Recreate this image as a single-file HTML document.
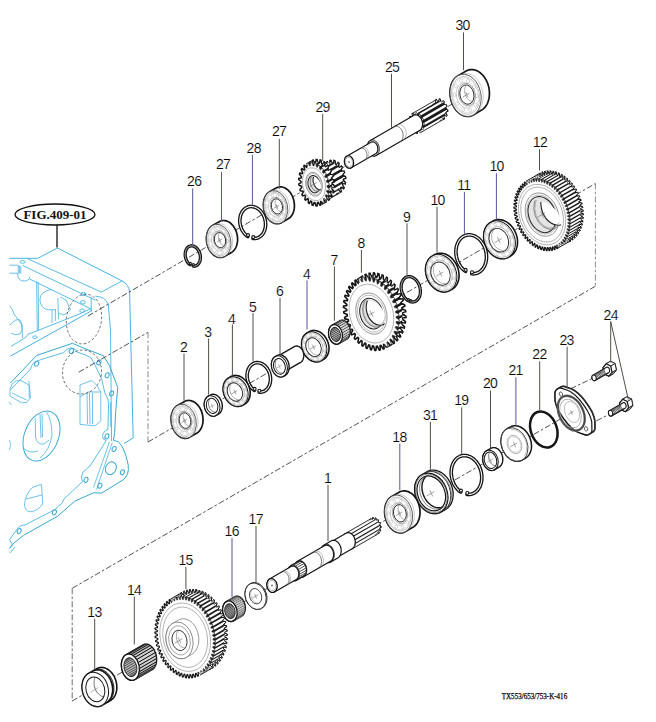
<!DOCTYPE html>
<html><head><meta charset="utf-8"><style>
html,body{margin:0;padding:0;background:#fff;width:656px;height:722px;overflow:hidden}
svg{display:block}
</style></head><body>
<svg width="656" height="722" viewBox="0 0 656 722">
<rect width="656" height="722" fill="#fff"/>
<path d="M9.4 258.3 L37.7 258.3 L57.5 248 L122 280.9 Q128.8 284.5 129.6 292 L133.2 438 L124 443.5" fill="none" stroke="#45b3e3" stroke-width="1.0" stroke-linejoin="round"/>
<path d="M26.6 258.3 L101.4 292.1 L122 280.9" fill="none" stroke="#45b3e3" stroke-width="0.9" stroke-linejoin="round"/>
<path d="M22.5 265.4 L95.5 300.2" fill="none" stroke="#45b3e3" stroke-width="0.9" stroke-linejoin="round"/>
<path d="M29.5 279 L91.2 309" fill="none" stroke="#45b3e3" stroke-width="0.9" stroke-linejoin="round"/>
<path d="M9.4 265.2 L18.3 265.2 L18.3 273.2 L9.4 273.2" fill="none" stroke="#45b3e3" stroke-width="0.8" stroke-linejoin="round"/>
<path d="M19.6 265.5 L19.6 273.5 M20.8 266 L20.8 273.5" fill="none" stroke="#45b3e3" stroke-width="0.8" stroke-linejoin="round"/>
<path d="M17.7 273.2 Q17.5 281 24 281 Q29 281 29.9 277" fill="none" stroke="#45b3e3" stroke-width="0.8" stroke-linejoin="round"/>
<path d="M95.3 296.2 Q105 296.5 108.2 304 L110.5 330 L111.6 441" fill="none" stroke="#45b3e3" stroke-width="0.9" stroke-linejoin="round"/>
<path d="M91.2 297 L91.2 311" fill="none" stroke="#45b3e3" stroke-width="0.9" stroke-linejoin="round"/>
<path d="M36.6 281.5 L37.3 331 M38.2 282 L38.6 330" fill="none" stroke="#45b3e3" stroke-width="0.8" stroke-linejoin="round"/>
<path d="M52 289.4 Q40 291 39.9 300 Q40.5 308.5 48.7 309.9 L56 309.5" fill="none" stroke="#45b3e3" stroke-width="0.8" stroke-linejoin="round"/>
<path d="M52 310 L52 323 M55.4 310 L55.4 321 M57.8 298 L58.5 319" fill="none" stroke="#45b3e3" stroke-width="0.8" stroke-linejoin="round"/>
<path d="M10.4 356.1 L80 317.3 L92 310.5" fill="none" stroke="#45b3e3" stroke-width="1.0" stroke-linejoin="round"/>
<path d="M11 346.4 L25.5 337.6 Q28 332.8 31.5 333 L80 313.8 L91 308.5" fill="none" stroke="#45b3e3" stroke-width="0.9" stroke-linejoin="round"/>
<path d="M9.6 306 Q13 309 14 314 L22 325 L22.5 338 M10 325 Q16 318 20 320 Q22.5 323 22 330 L20 334 Q15 336 11 333" fill="none" stroke="#45b3e3" stroke-width="0.8" stroke-linejoin="round"/>
<path d="M60.5 297 L66 300 L70.5 310 L64 315 L58.5 313" fill="none" stroke="#45b3e3" stroke-width="0.8" stroke-linejoin="round"/>
<ellipse cx="22.7" cy="261.9" rx="2.6" ry="1.4" fill="none" stroke="#4ab4e6" stroke-width="0.9"/>
<ellipse cx="34.9" cy="337.2" rx="2.4" ry="1.3" fill="none" stroke="#4ab4e6" stroke-width="0.9"/>
<ellipse cx="83.3" cy="294.0" rx="2.4" ry="1.6" fill="none" stroke="#4ab4e6" stroke-width="0.9"/>
<ellipse cx="82.9" cy="302.3" rx="2.5" ry="1.7" fill="none" stroke="#4ab4e6" stroke-width="0.9"/>
<ellipse cx="82.1" cy="310.7" rx="2.4" ry="1.6" fill="none" stroke="#4ab4e6" stroke-width="0.9"/>
<path d="M10.4 383 L36.7 355.4 L72.5 343.3 L85 348.7 L103.3 355.6 L109.4 365.5 L117.8 387.6 L117 396 L115.5 414.2 L114.7 432.5 L113.5 440.5 L118.2 441.6 Q124.5 447 128.2 464.9 Q129.5 475 123.2 479.8 L101.6 493.1 L93.9 492.7 L74.7 501.2 L57.6 516.2 L23.5 535.4 L12.8 543.9 L9.6 548.2" fill="none" stroke="#35a9d2" stroke-width="1.0" stroke-linejoin="round"/>
<path d="M10.4 390 L30.4 369.2 Q32 362.5 37 361 Q41 359.5 45.7 358.1 L63.7 352.6 Q67 347.8 71.5 347.8 Q76 348.5 77 352 L85 354.8 L91.1 357.9 L94.9 364.7 L101.8 379.2 L104.8 392.9 L107.9 399 L108.6 403.6 L107.9 429.5 Q102.5 431.5 102.5 436.5 Q103 440 106 440.5 L100.3 450 L90 466 L83 472 Q80 477 82.5 481.5 L64 499 L61.9 503.4 Q57 506.5 56 509 L25.6 524.7 Q19.5 525.5 17.5 528.5 L9.6 539.6" fill="none" stroke="#4ab4e6" stroke-width="0.9" stroke-linejoin="round"/>
<path d="M110.4 402 L110.8 427 M109.4 442 L93.5 487.5 M112.3 442.5 L96.5 489.5" fill="none" stroke="#4ab4e6" stroke-width="0.8" stroke-linejoin="round"/>
<ellipse cx="36.7" cy="363.7" rx="1.9" ry="2.6" transform="rotate(35 36.7 363.7)" fill="none" stroke="#35a9d2" stroke-width="1"/>
<ellipse cx="71.4" cy="351.0" rx="1.9" ry="2.6" transform="rotate(35 71.4 351.0)" fill="none" stroke="#35a9d2" stroke-width="1"/>
<ellipse cx="98.9" cy="362.4" rx="1.9" ry="2.6" transform="rotate(30 98.9 362.4)" fill="none" stroke="#35a9d2" stroke-width="1"/>
<ellipse cx="107.2" cy="375.3" rx="1.9" ry="2.6" transform="rotate(25 107.2 375.3)" fill="none" stroke="#35a9d2" stroke-width="1"/>
<ellipse cx="111.6" cy="393.5" rx="1.9" ry="2.6" transform="rotate(20 111.6 393.5)" fill="none" stroke="#35a9d2" stroke-width="1"/>
<ellipse cx="106.9" cy="436.4" rx="1.9" ry="2.6" transform="rotate(25 106.9 436.4)" fill="none" stroke="#35a9d2" stroke-width="1"/>
<ellipse cx="114.1" cy="449" rx="1.9" ry="2.6" transform="rotate(25 114.1 449)" fill="none" stroke="#35a9d2" stroke-width="1"/>
<ellipse cx="122.4" cy="472.3" rx="1.9" ry="2.6" transform="rotate(25 122.4 472.3)" fill="none" stroke="#35a9d2" stroke-width="1"/>
<ellipse cx="99.9" cy="485.7" rx="1.9" ry="2.6" transform="rotate(25 99.9 485.7)" fill="none" stroke="#35a9d2" stroke-width="1"/>
<ellipse cx="86.0" cy="479.9" rx="1.9" ry="2.6" transform="rotate(25 86.0 479.9)" fill="none" stroke="#35a9d2" stroke-width="1"/>
<ellipse cx="54.4" cy="512.3" rx="1.9" ry="2.6" transform="rotate(25 54.4 512.3)" fill="none" stroke="#35a9d2" stroke-width="1"/>
<ellipse cx="19.2" cy="531.1" rx="1.9" ry="2.6" transform="rotate(25 19.2 531.1)" fill="none" stroke="#35a9d2" stroke-width="1"/>
<ellipse cx="110.9" cy="468.2" rx="5.2" ry="6.6" transform="rotate(25 110.9 468.2)" fill="none" stroke="#35a9d2" stroke-width="1"/>
<ellipse cx="41.5" cy="436" rx="17" ry="26" transform="rotate(22 41.5 436)" fill="none" stroke="#35a9d2" stroke-width="1"/>
<path d="M35.2 418 L35.5 437 Q37 445 44 444 L49 440 M40 414 L41 438 M42 413.5 L42.5 437 M46.5 412 Q52 420 52 435 Q50 450 40 458 M23 448 Q30 454 38 451" fill="none" stroke="#4ab4e6" stroke-width="0.8" stroke-linejoin="round"/>
<path d="M10 389 L12 384 Q17 379 22 381 L29.5 385.5 L30.4 398 L26.5 402.5 L21.5 402.8 L10 396 Z M12 393 L26.6 400 M29 381 L29.3 398" fill="none" stroke="#4ab4e6" stroke-width="0.8" stroke-linejoin="round"/>
<path d="M80 385 L80 424.5 L95 425.7 L100.8 421 L100.8 392 L96.5 385 L92 380.5 L86 382.5 Z M80 397 L88 392 L100.8 392 M87 393 L87.5 424 M89.5 393 L90 424 M92.5 393 L92.5 424" fill="none" stroke="#4ab4e6" stroke-width="0.8" stroke-linejoin="round"/>
<path d="M24.5 505 Q25 494 33 487 L41.5 484.5 L42.7 504 Q38 511 30 511.9 Q25 511 24.5 505 Z M26 499 L42 495" fill="none" stroke="#4ab4e6" stroke-width="0.8" stroke-linejoin="round"/>
<path d="M9.6 539.6 L12.5 545 L9.6 548.2 M10 553 L15 547" fill="none" stroke="#35a9d2" stroke-width="0.8" stroke-linejoin="round"/>
<path d="M9.4 440 Q12 444 9.4 450 M9 402 L11.5 405" fill="none" stroke="#4ab4e6" stroke-width="0.7" stroke-linejoin="round"/>
<ellipse cx="84" cy="319" rx="17.5" ry="25" transform="rotate(8 84 319)" fill="none" stroke="#555" stroke-width="0.8" stroke-dasharray="2.6 2"/>
<ellipse cx="82" cy="372" rx="19.5" ry="22" transform="rotate(8 82 372)" fill="none" stroke="#555" stroke-width="0.8" stroke-dasharray="2.6 2"/>
<path d="M88.0 316.0 L472.0 92.5" fill="none" stroke="#3c3c48" stroke-width="0.9" stroke-dasharray="6 2.2 2.6 2.2"/>
<path d="M78.7 372.2 L148.0 332.3" fill="none" stroke="#3c3c48" stroke-width="0.9" stroke-dasharray="6 2.2 2.6 2.2"/>
<path d="M148.0 332.3 L148.0 442.0" fill="none" stroke="#8c8c8c" stroke-width="1.0" stroke-dasharray="6 2.2 2.6 2.2"/>
<path d="M148.0 442.0 L595.4 183.5" fill="none" stroke="#3c3c48" stroke-width="0.9" stroke-dasharray="6 2.2 2.6 2.2"/>
<path d="M595.4 183.5 L595.4 286.2" fill="none" stroke="#8c8c8c" stroke-width="1.0" stroke-dasharray="6 2.2 2.6 2.2"/>
<path d="M595.4 286.2 L72.2 588.3" fill="none" stroke="#3c3c48" stroke-width="0.9" stroke-dasharray="6 2.2 2.6 2.2"/>
<path d="M72.2 588.3 L72.2 701.0" fill="none" stroke="#6c6c6c" stroke-width="1.0" stroke-dasharray="6 2.2 2.6 2.2"/>
<path d="M72.2 701.0 L575.0 410.6" fill="none" stroke="#3c3c48" stroke-width="0.9" stroke-dasharray="6 2.2 2.6 2.2"/>
<path d="M570.5 388.8 L592.0 378.6" fill="none" stroke="#3c3c48" stroke-width="0.9" stroke-dasharray="6 2.2 2.6 2.2"/>
<path d="M596.4 420.8 L608.6 414.7" fill="none" stroke="#3c3c48" stroke-width="0.9" stroke-dasharray="6 2.2 2.6 2.2"/>
<g id="p30">
<path d="M473.3 114.9 L472.4 115.4 L471.4 115.8 L470.5 116.1 L469.5 116.3 L468.5 116.4 L467.5 116.4 L466.5 116.4 L465.5 116.2 L464.4 116.0 L463.4 115.6 L462.4 115.2 L461.4 114.7 L460.4 114.1 L459.5 113.5 L458.6 112.7 L457.7 111.9 L456.8 111.0 L456.0 110.1 L455.2 109.1 L454.5 108.0 L453.8 106.9 L453.1 105.7 L452.5 104.5 L452.0 103.2 L451.5 101.9 L451.1 100.6 L450.7 99.3 L450.5 97.9 L450.2 96.5 L450.1 95.2 L450.0 93.8 L450.0 92.4 L450.0 91.1 L450.1 89.7 L450.3 88.4 L450.5 87.1 L450.8 85.9 L451.2 84.7 L451.6 83.5 L452.1 82.4 L452.6 81.4 L453.2 80.4 L453.9 79.4 L454.6 78.6 L455.3 77.8 L456.1 77.1 L457.0 76.4 L457.8 75.9 L466.1 71.1 L467.0 70.6 L468.0 70.2 L468.9 69.9 L469.9 69.7 L470.9 69.6 L471.9 69.6 L472.9 69.6 L473.9 69.8 L475.0 70.0 L476.0 70.4 L477.0 70.8 L478.0 71.3 L479.0 71.9 L479.9 72.5 L480.8 73.3 L481.7 74.1 L482.6 75.0 L483.4 75.9 L484.2 76.9 L484.9 78.0 L485.6 79.1 L486.3 80.3 L486.9 81.5 L487.4 82.8 L487.9 84.1 L488.3 85.4 L488.7 86.7 L488.9 88.1 L489.2 89.5 L489.3 90.8 L489.4 92.2 L489.4 93.6 L489.4 94.9 L489.3 96.3 L489.1 97.6 L488.9 98.9 L488.6 100.1 L488.2 101.3 L487.8 102.5 L487.3 103.6 L486.8 104.6 L486.2 105.6 L485.5 106.6 L484.8 107.4 L484.1 108.2 L483.3 108.9 L482.4 109.6 L481.6 110.1Z" fill="#fff" stroke="#151515" stroke-width="1.7" />
<path d="M460.6 75.0 L461.4 74.6 L462.3 74.2 L463.3 73.9 L464.2 73.7 L465.2 73.6 L466.2 73.6 L467.2 73.6 L468.1 73.8 L469.1 74.0 L470.1 74.3 L471.1 74.7 L472.1 75.2 L473.0 75.8 L473.9 76.4 L474.8 77.1 L475.7 77.9 L476.5 78.8 L477.3 79.7 L478.1 80.7 L478.8 81.7 L479.5 82.8 L480.1 84.0 L480.7 85.1 L481.2 86.4 L481.7 87.6 L482.1 88.9 L482.4 90.2 L482.7 91.5 L482.9 92.8 L483.1 94.2 L483.2 95.5 L483.2 96.8 L483.1 98.2 L483.0 99.5 L482.9 100.7 L482.6 102.0 L482.3 103.2 L482.0 104.3 L481.6 105.5 L481.1 106.6 L480.6 107.6 L480.0 108.5 L479.4 109.4 L478.7 110.3 L477.9 111.0 L477.2 111.7 L476.4 112.3 L475.5 112.9" fill="none" stroke="#aaa" stroke-width="0.6" />
<ellipse cx="465.6" cy="95.4" rx="15.3" ry="21.3" transform="rotate(-12.0 465.6 95.4)" fill="#fff" stroke="#444" stroke-width="0.8" />
<ellipse cx="465.6" cy="95.4" rx="13.8" ry="19.1" transform="rotate(-12.0 465.6 95.4)" fill="none" stroke="#a8a8a8" stroke-width="0.6" />
<ellipse cx="465.6" cy="95.4" rx="12.9" ry="17.9" transform="rotate(-12.0 465.6 95.4)" fill="none" stroke="#c0c0c0" stroke-width="0.5" />
<ellipse cx="476.7" cy="95.9" rx="1.5" ry="1.9" transform="rotate(-12.0 476.7 95.9)" fill="none" stroke="#c0c0c0" stroke-width="0.6"/>
<ellipse cx="475.3" cy="104.7" rx="1.5" ry="1.9" transform="rotate(-12.0 475.3 104.7)" fill="none" stroke="#c0c0c0" stroke-width="0.6"/>
<ellipse cx="470.1" cy="110.0" rx="1.5" ry="1.9" transform="rotate(-12.0 470.1 110.0)" fill="none" stroke="#c0c0c0" stroke-width="0.6"/>
<ellipse cx="463.2" cy="109.6" rx="1.5" ry="1.9" transform="rotate(-12.0 463.2 109.6)" fill="none" stroke="#c0c0c0" stroke-width="0.6"/>
<ellipse cx="457.2" cy="103.8" rx="1.5" ry="1.9" transform="rotate(-12.0 457.2 103.8)" fill="none" stroke="#c0c0c0" stroke-width="0.6"/>
<ellipse cx="454.4" cy="94.8" rx="1.5" ry="1.9" transform="rotate(-12.0 454.4 94.8)" fill="none" stroke="#c0c0c0" stroke-width="0.6"/>
<ellipse cx="455.9" cy="86.0" rx="1.5" ry="1.9" transform="rotate(-12.0 455.9 86.0)" fill="none" stroke="#c0c0c0" stroke-width="0.6"/>
<ellipse cx="461.1" cy="80.8" rx="1.5" ry="1.9" transform="rotate(-12.0 461.1 80.8)" fill="none" stroke="#c0c0c0" stroke-width="0.6"/>
<ellipse cx="468.0" cy="81.2" rx="1.5" ry="1.9" transform="rotate(-12.0 468.0 81.2)" fill="none" stroke="#c0c0c0" stroke-width="0.6"/>
<ellipse cx="474.0" cy="86.9" rx="1.5" ry="1.9" transform="rotate(-12.0 474.0 86.9)" fill="none" stroke="#c0c0c0" stroke-width="0.6"/>
<ellipse cx="465.6" cy="95.4" rx="9.2" ry="12.8" transform="rotate(-12.0 465.6 95.4)" fill="none" stroke="#b0b0b0" stroke-width="0.6" />
<ellipse cx="466.9" cy="94.6" rx="8.3" ry="11.5" transform="rotate(-12.0 466.9 94.6)" fill="#fff" stroke="#777" stroke-width="0.6" />
<ellipse cx="466.9" cy="94.6" rx="7.0" ry="9.8" transform="rotate(-12.0 466.9 94.6)" fill="#fff" stroke="#222" stroke-width="0.9" />
<clipPath id="ce1"><ellipse cx="466.9" cy="94.6" rx="7.0" ry="9.8" transform="rotate(-12.0 466.9 94.6)"/></clipPath>
<path d="M478.7 90.3 L478.9 91.6 L479.0 92.8 L479.0 94.1 L478.8 95.3 L478.5 96.4 L478.1 97.5 L477.6 98.5 L477.0 99.3 L476.3 100.0 L475.6 100.6 L474.7 101.1 L473.9 101.3 L472.9 101.4 L472.0 101.4 L471.1 101.2 L470.1 100.8 L469.2 100.2 L468.4 99.6 L467.6 98.8 L466.9 97.8 L466.2 96.8 L465.7 95.7 L465.3 94.5 L464.9 93.2 L464.7 92.0 L464.7 90.7 L464.7 89.5 L464.8 88.3 L465.1 87.1 L465.5 86.0 L466.0 85.1 L466.6 84.2 L467.3 83.5 L468.1 82.9 L468.9 82.5 L469.8 82.2 L470.7 82.1 L471.6 82.2 L472.6 82.4 L473.5 82.8 L474.4 83.3 L475.3 84.0 L476.1 84.8 L476.8 85.7 L477.4 86.8 L478.0 87.9 L478.4 89.1 L478.7 90.3" fill="none" stroke="#777" stroke-width="0.6" clip-path="url(#ce1)"/>
<line x1="462.8" y1="97.0" x2="469.6" y2="93.1" stroke="#666" stroke-width="0.6" />
<line x1="465.7" y1="91.9" x2="468.0" y2="97.4" stroke="#666" stroke-width="0.6" />
</g>
<g id="p25">
<path d="M445.8 108.2 L445.9 108.8 L447.7 110.0 L447.7 111.3 L446.0 112.0 L445.9 112.5 L445.8 113.0 L447.0 115.2 L446.5 116.2 L444.7 115.6 L444.4 116.0 L444.1 116.3 L444.4 118.8 L443.6 119.4 L442.0 117.6 L441.7 117.7 L441.3 117.8 L440.6 120.0 L439.6 119.8 L438.9 117.4 L438.5 117.2 L438.1 117.0 L436.6 118.3 L435.8 117.5 L436.0 115.1 L435.7 114.7 L435.4 114.3 L433.6 114.3 L433.1 113.1 L434.1 111.3 L434.0 110.8 L433.9 110.2 L432.2 109.0 L432.2 107.7 L433.9 107.0 L433.9 106.5 L434.0 106.0 L432.9 103.8 L433.3 102.8 L435.2 103.4 L435.5 103.0 L435.7 102.7 L435.5 100.2 L436.3 99.6 L437.8 101.4 L438.2 101.3 L438.6 101.2 L439.2 99.0 L440.2 99.2 L441.0 101.6 L441.4 101.8 L441.8 102.0 L443.2 100.7 L444.1 101.5 L443.9 103.9 L444.2 104.3 L444.5 104.7 L446.3 104.7 L446.8 105.9 L445.7 107.7Z" fill="#fff" stroke="#151515" stroke-width="1.1" />
<path d="M419.6 130.7 L419.2 130.9 L418.9 131.1 L418.5 131.2 L418.1 131.3 L417.7 131.3 L417.3 131.3 L416.9 131.3 L416.5 131.2 L416.1 131.1 L415.7 131.0 L415.3 130.8 L414.9 130.6 L414.5 130.4 L414.2 130.2 L413.8 129.9 L413.4 129.5 L413.1 129.2 L412.8 128.8 L412.5 128.4 L412.2 128.0 L411.9 127.5 L411.6 127.1 L411.4 126.6 L411.2 126.1 L411.0 125.6 L410.8 125.1 L410.7 124.5 L410.6 124.0 L410.5 123.5 L410.4 122.9 L410.4 122.4 L410.4 121.8 L410.4 121.3 L410.4 120.8 L410.5 120.2 L410.6 119.7 L410.7 119.2 L410.9 118.8 L411.0 118.3 L411.2 117.9 L411.4 117.5 L411.7 117.1 L411.9 116.7 L412.2 116.4 L412.5 116.0 L412.8 115.8 L413.2 115.5 L413.5 115.3 L436.9 101.8 L437.2 101.6 L437.6 101.4 L438.0 101.3 L438.4 101.2 L438.8 101.2 L439.2 101.2 L439.6 101.2 L440.0 101.3 L440.4 101.4 L440.8 101.5 L441.2 101.7 L441.6 101.9 L442.0 102.1 L442.3 102.3 L442.7 102.6 L443.1 103.0 L443.4 103.3 L443.7 103.7 L444.0 104.1 L444.3 104.5 L444.6 105.0 L444.9 105.4 L445.1 105.9 L445.3 106.4 L445.5 106.9 L445.6 107.4 L445.8 108.0 L445.9 108.5 L446.0 109.0 L446.1 109.6 L446.1 110.1 L446.1 110.7 L446.1 111.2 L446.0 111.7 L446.0 112.3 L445.9 112.8 L445.8 113.3 L445.6 113.7 L445.4 114.2 L445.3 114.6 L445.0 115.0 L444.8 115.4 L444.5 115.8 L444.3 116.1 L444.0 116.5 L443.7 116.7 L443.3 117.0 L443.0 117.2Z" fill="#1a1a1a" stroke="none" stroke-width="0" />
<path d="M424.2 122.8 L424.3 125.2 L447.7 111.7 L447.6 109.3Z" fill="#fff" stroke="none" stroke-width="0" />
<path d="M423.8 128.1 L423.0 130.1 L446.3 116.6 L447.2 114.6Z" fill="#fff" stroke="none" stroke-width="0" />
<path d="M421.4 132.0 L419.9 133.0 L443.3 119.5 L444.8 118.5Z" fill="#fff" stroke="none" stroke-width="0" />
<path d="M415.3 112.5 L417.2 112.8 L440.6 99.3 L438.7 99.0Z" fill="#fff" stroke="none" stroke-width="0" />
<path d="M419.3 113.8 L421.0 115.2 L444.3 101.7 L442.7 100.3Z" fill="#fff" stroke="none" stroke-width="0" />
<path d="M422.6 117.6 L423.6 119.8 L447.0 106.3 L446.0 104.1Z" fill="#fff" stroke="none" stroke-width="0" />
<path d="M445.8 108.2 L445.9 108.8 L447.7 110.0 L447.7 111.3 L446.0 112.0 L445.9 112.5 L445.9 112.5 L445.8 113.0 L447.0 115.2 L446.5 116.2 L444.7 115.6 L444.4 116.0 L444.4 116.0 L444.1 116.3 L444.4 118.8 L443.6 119.4 L442.0 117.6 L441.7 117.7" fill="none" stroke="#151515" stroke-width="0.8800000000000001" stroke-linejoin="round"/>
<path d="M435.5 103.0 L435.7 102.7 L435.5 100.2 L436.3 99.6 L437.8 101.4 L438.2 101.3 L438.2 101.3 L438.6 101.2 L439.2 99.0 L440.2 99.2 L441.0 101.6 L441.4 101.8 L441.4 101.8 L441.8 102.0 L443.2 100.7 L444.1 101.5 L443.9 103.9 L444.2 104.3 L444.2 104.3 L444.5 104.7 L446.3 104.7 L446.8 105.9 L445.7 107.7 L445.8 108.2 L445.8 108.2 L445.9 108.8 L447.7 110.0 L447.7 111.3 L446.0 112.0 L445.9 112.5" fill="none" stroke="#151515" stroke-width="0.8800000000000001" stroke-linejoin="round"/>
<line x1="412.7" y1="113.3" x2="436.1" y2="99.8" stroke="#151515" stroke-width="0.8800000000000001" />
<line x1="420.4" y1="132.7" x2="443.8" y2="119.2" stroke="#151515" stroke-width="0.8800000000000001" />
<path d="M422.5 121.7 L422.6 122.3 L424.3 123.5 L424.3 124.8 L422.6 125.5 L422.5 126.0 L422.4 126.5 L423.6 128.7 L423.1 129.7 L421.3 129.1 L421.0 129.5 L420.7 129.8 L421.0 132.3 L420.2 132.9 L418.7 131.1 L418.3 131.2 L417.9 131.3 L417.2 133.5 L416.3 133.3 L415.5 130.9 L415.1 130.7 L414.7 130.5 L413.3 131.8 L412.4 131.0 L412.6 128.6 L412.3 128.2 L412.0 127.8 L410.2 127.8 L409.7 126.6 L410.8 124.8 L410.6 124.3 L410.5 123.7 L408.8 122.5 L408.8 121.2 L410.5 120.5 L410.6 120.0 L410.7 119.5 L409.5 117.3 L410.0 116.3 L411.8 116.9 L412.1 116.5 L412.4 116.2 L412.1 113.7 L412.9 113.1 L414.4 114.9 L414.8 114.8 L415.2 114.7 L415.9 112.5 L416.8 112.7 L417.6 115.1 L418.0 115.3 L418.4 115.5 L419.8 114.2 L420.7 115.0 L420.5 117.4 L420.8 117.8 L421.1 118.2 L422.9 118.2 L423.4 119.4 L422.3 121.2Z" fill="#fff" stroke="none" stroke-width="0" />
<path d="M422.5 121.7 L422.6 122.3 L424.3 123.5 L424.3 124.8 L422.6 125.5 L422.5 126.0 L422.4 126.5 L423.6 128.7 L423.1 129.7 L421.3 129.1 L421.0 129.5 L420.7 129.8 L421.0 132.3 L420.2 132.9 L418.7 131.1 L418.3 131.2" fill="none" stroke="#333" stroke-width="0.7" stroke-linejoin="round"/>
<path d="M418.3 131.2 L417.9 131.3 L417.2 133.5 L416.3 133.3 L415.5 130.9 L415.1 130.7 L414.7 130.5 L413.3 131.8 L412.4 131.0 L412.6 128.6 L412.3 128.2 L412.0 127.8 L410.2 127.8 L409.7 126.6 L410.8 124.8 L410.6 124.3 L410.5 123.7 L408.8 122.5 L408.8 121.2 L410.5 120.5 L410.6 120.0 L410.7 119.5 L409.5 117.3 L410.0 116.3 L411.8 116.9 L412.1 116.5 L412.4 116.2 L412.1 113.7 L412.9 113.1 L414.4 114.9 L414.8 114.8" fill="none" stroke="#151515" stroke-width="1.1" stroke-linejoin="round"/>
<path d="M414.8 114.8 L415.2 114.7 L415.9 112.5 L416.8 112.7 L417.6 115.1 L418.0 115.3 L418.4 115.5 L419.8 114.2 L420.7 115.0 L420.5 117.4 L420.8 117.8 L421.1 118.2 L422.9 118.2 L423.4 119.4 L422.3 121.2 L422.5 121.7" fill="none" stroke="#333" stroke-width="0.7" stroke-linejoin="round"/>
<path d="M376.2 155.5 L375.9 155.7 L375.5 155.9 L375.1 156.0 L374.8 156.1 L374.4 156.1 L374.0 156.1 L373.6 156.1 L373.2 156.0 L372.8 155.9 L372.4 155.8 L372.0 155.7 L371.7 155.5 L371.3 155.2 L370.9 155.0 L370.5 154.7 L370.2 154.4 L369.9 154.0 L369.6 153.7 L369.2 153.3 L369.0 152.9 L368.7 152.4 L368.4 152.0 L368.2 151.5 L368.0 151.0 L367.8 150.5 L367.7 150.0 L367.5 149.5 L367.4 149.0 L367.3 148.4 L367.3 147.9 L367.2 147.4 L367.2 146.9 L367.2 146.3 L367.3 145.8 L367.4 145.3 L367.4 144.8 L367.6 144.3 L367.7 143.9 L367.9 143.4 L368.1 143.0 L368.3 142.6 L368.5 142.2 L368.7 141.8 L369.0 141.5 L369.3 141.2 L369.6 140.9 L369.9 140.7 L370.3 140.5 L413.6 115.5 L413.9 115.3 L414.3 115.1 L414.7 115.0 L415.0 114.9 L415.4 114.9 L415.8 114.9 L416.2 114.9 L416.6 115.0 L417.0 115.1 L417.4 115.2 L417.8 115.3 L418.1 115.5 L418.5 115.8 L418.9 116.0 L419.2 116.3 L419.6 116.6 L419.9 117.0 L420.2 117.3 L420.6 117.7 L420.8 118.1 L421.1 118.6 L421.4 119.0 L421.6 119.5 L421.8 120.0 L422.0 120.5 L422.1 121.0 L422.3 121.5 L422.4 122.0 L422.5 122.6 L422.5 123.1 L422.6 123.6 L422.6 124.1 L422.6 124.7 L422.5 125.2 L422.4 125.7 L422.4 126.2 L422.2 126.7 L422.1 127.1 L421.9 127.6 L421.7 128.0 L421.5 128.4 L421.3 128.8 L421.1 129.2 L420.8 129.5 L420.5 129.8 L420.2 130.1 L419.9 130.3 L419.5 130.5Z" fill="#fff" stroke="#151515" stroke-width="1.2" />
<path d="M394.1 126.7 L394.4 126.5 L394.8 126.4 L395.2 126.3 L395.5 126.2 L395.9 126.1 L396.3 126.1 L396.7 126.2 L397.1 126.2 L397.5 126.3 L397.9 126.4 L398.3 126.6 L398.7 126.8 L399.0 127.0 L399.4 127.3 L399.8 127.6 L400.1 127.9 L400.4 128.2 L400.8 128.6 L401.1 129.0 L401.4 129.4 L401.6 129.8 L401.9 130.3 L402.1 130.7 L402.3 131.2 L402.5 131.7 L402.6 132.2 L402.8 132.8 L402.9 133.3 L403.0 133.8 L403.0 134.3 L403.1 134.9 L403.1 135.4 L403.1 135.9 L403.0 136.4 L403.0 136.9 L402.9 137.4 L402.8 137.9 L402.6 138.4 L402.4 138.8 L402.3 139.3 L402.0 139.7 L401.8 140.1 L401.6 140.4 L401.3 140.7 L401.0 141.0 L400.7 141.3 L400.4 141.6 L400.0 141.8" fill="none" stroke="#444" stroke-width="0.8" />
<path d="M397.1 125.0 L397.5 124.8 L397.8 124.6 L398.2 124.5 L398.6 124.4 L399.0 124.4 L399.3 124.4 L399.7 124.4 L400.1 124.5 L400.5 124.6 L400.9 124.7 L401.3 124.8 L401.7 125.0 L402.1 125.3 L402.4 125.5 L402.8 125.8 L403.1 126.1 L403.5 126.5 L403.8 126.8 L404.1 127.2 L404.4 127.6 L404.6 128.1 L404.9 128.5 L405.1 129.0 L405.3 129.5 L405.5 130.0 L405.7 130.5 L405.8 131.0 L405.9 131.5 L406.0 132.1 L406.1 132.6 L406.1 133.1 L406.1 133.6 L406.1 134.2 L406.1 134.7 L406.0 135.2 L405.9 135.7 L405.8 136.2 L405.6 136.6 L405.5 137.1 L405.3 137.5 L405.1 137.9 L404.8 138.3 L404.6 138.7 L404.3 139.0 L404.0 139.3 L403.7 139.6 L403.4 139.8 L403.1 140.0" fill="none" stroke="#888" stroke-width="0.6" />
<path d="M370.3 140.5 L370.6 140.3 L371.0 140.1 L371.4 140.0 L371.7 139.9 L372.1 139.9 L372.5 139.9 L372.9 139.9 L373.3 140.0 L373.7 140.1 L374.1 140.2 L374.5 140.3 L374.8 140.5 L375.2 140.8 L375.6 141.0 L375.9 141.3 L376.3 141.6 L376.6 142.0 L376.9 142.3 L377.2 142.7 L377.5 143.1 L377.8 143.6 L378.1 144.0 L378.3 144.5 L378.5 145.0 L378.7 145.5 L378.8 146.0 L379.0 146.5 L379.1 147.0 L379.2 147.6 L379.2 148.1 L379.3 148.6 L379.3 149.1 L379.3 149.7 L379.2 150.2 L379.1 150.7 L379.1 151.2 L378.9 151.7 L378.8 152.1 L378.6 152.6 L378.4 153.0 L378.2 153.4 L378.0 153.8 L377.7 154.2 L377.5 154.5 L377.2 154.8 L376.9 155.1 L376.6 155.3 L376.2 155.5" fill="none" stroke="#151515" stroke-width="1.0" />
<path d="M351.3 167.8 L351.0 167.9 L350.7 168.0 L350.5 168.1 L350.2 168.2 L349.9 168.2 L349.6 168.2 L349.3 168.2 L349.0 168.2 L348.7 168.1 L348.4 168.0 L348.1 167.9 L347.8 167.7 L347.5 167.6 L347.2 167.4 L346.9 167.1 L346.7 166.9 L346.4 166.6 L346.2 166.4 L345.9 166.1 L345.7 165.7 L345.5 165.4 L345.3 165.1 L345.1 164.7 L345.0 164.3 L344.8 163.9 L344.7 163.5 L344.6 163.1 L344.5 162.7 L344.5 162.3 L344.4 161.9 L344.4 161.5 L344.4 161.1 L344.4 160.7 L344.4 160.3 L344.5 159.9 L344.5 159.6 L344.6 159.2 L344.7 158.8 L344.9 158.5 L345.0 158.2 L345.2 157.8 L345.3 157.5 L345.5 157.3 L345.8 157.0 L346.0 156.8 L346.2 156.6 L346.5 156.4 L346.7 156.2 L371.0 142.2 L371.2 142.1 L371.5 142.0 L371.8 141.9 L372.1 141.8 L372.4 141.8 L372.7 141.8 L373.0 141.8 L373.3 141.8 L373.6 141.9 L373.9 142.0 L374.2 142.1 L374.5 142.3 L374.8 142.4 L375.0 142.6 L375.3 142.9 L375.6 143.1 L375.8 143.4 L376.1 143.6 L376.3 143.9 L376.5 144.3 L376.7 144.6 L376.9 144.9 L377.1 145.3 L377.3 145.7 L377.4 146.1 L377.5 146.5 L377.6 146.9 L377.7 147.3 L377.8 147.7 L377.8 148.1 L377.9 148.5 L377.9 148.9 L377.9 149.3 L377.8 149.7 L377.8 150.1 L377.7 150.4 L377.6 150.8 L377.5 151.2 L377.4 151.5 L377.2 151.8 L377.1 152.2 L376.9 152.5 L376.7 152.7 L376.5 153.0 L376.3 153.2 L376.0 153.4 L375.8 153.6 L375.5 153.8Z" fill="#fff" stroke="#151515" stroke-width="1.2" />
<path d="M360.1 148.5 L360.3 148.4 L360.6 148.3 L360.9 148.2 L361.2 148.1 L361.5 148.1 L361.8 148.1 L362.1 148.1 L362.4 148.1 L362.7 148.2 L363.0 148.3 L363.3 148.4 L363.6 148.6 L363.9 148.7 L364.1 148.9 L364.4 149.2 L364.7 149.4 L364.9 149.7 L365.2 149.9 L365.4 150.2 L365.6 150.6 L365.8 150.9 L366.0 151.2 L366.2 151.6 L366.4 152.0 L366.5 152.4 L366.6 152.8 L366.7 153.2 L366.8 153.6 L366.9 154.0 L366.9 154.4 L367.0 154.8 L367.0 155.2 L367.0 155.6 L366.9 156.0 L366.9 156.4 L366.8 156.7 L366.7 157.1 L366.6 157.5 L366.5 157.8 L366.3 158.1 L366.2 158.5 L366.0 158.8 L365.8 159.0 L365.6 159.3 L365.4 159.5 L365.1 159.7 L364.9 159.9 L364.6 160.1" fill="none" stroke="#444" stroke-width="0.8" />
<path d="M361.7 147.5 L362.0 147.4 L362.3 147.3 L362.6 147.2 L362.9 147.1 L363.2 147.1 L363.5 147.1 L363.8 147.1 L364.1 147.1 L364.4 147.2 L364.7 147.3 L365.0 147.4 L365.3 147.6 L365.6 147.8 L365.8 148.0 L366.1 148.2 L366.4 148.4 L366.6 148.7 L366.9 149.0 L367.1 149.3 L367.3 149.6 L367.5 149.9 L367.7 150.3 L367.9 150.6 L368.1 151.0 L368.2 151.4 L368.3 151.8 L368.4 152.2 L368.5 152.6 L368.6 153.0 L368.6 153.4 L368.7 153.8 L368.7 154.2 L368.6 154.6 L368.6 155.0 L368.6 155.4 L368.5 155.8 L368.4 156.1 L368.3 156.5 L368.2 156.8 L368.0 157.2 L367.9 157.5 L367.7 157.8 L367.5 158.1 L367.3 158.3 L367.1 158.5 L366.8 158.8 L366.6 158.9 L366.3 159.1" fill="none" stroke="#888" stroke-width="0.6" />
<path d="M346.7 156.2 L347.0 156.1 L347.3 156.0 L347.5 155.9 L347.8 155.8 L348.1 155.8 L348.4 155.8 L348.7 155.8 L349.0 155.8 L349.3 155.9 L349.6 156.0 L349.9 156.1 L350.2 156.3 L350.5 156.4 L350.8 156.6 L351.1 156.9 L351.3 157.1 L351.6 157.4 L351.8 157.6 L352.1 157.9 L352.3 158.3 L352.5 158.6 L352.7 158.9 L352.9 159.3 L353.0 159.7 L353.2 160.1 L353.3 160.5 L353.4 160.9 L353.5 161.3 L353.5 161.7 L353.6 162.1 L353.6 162.5 L353.6 162.9 L353.6 163.3 L353.6 163.7 L353.5 164.1 L353.5 164.4 L353.4 164.8 L353.3 165.2 L353.1 165.5 L353.0 165.8 L352.8 166.2 L352.7 166.5 L352.5 166.7 L352.2 167.0 L352.0 167.2 L351.8 167.4 L351.5 167.6 L351.3 167.8" fill="none" stroke="#151515" stroke-width="1.0" />
<ellipse cx="349.0" cy="162.0" rx="4.5" ry="6.3" transform="rotate(-12.0 349.0 162.0)" fill="#fff" stroke="#151515" stroke-width="1.2" />
<ellipse cx="349.0" cy="162.0" rx="3.4" ry="4.7" transform="rotate(-12.0 349.0 162.0)" fill="none" stroke="#999" stroke-width="0.6" />
<ellipse cx="349.0" cy="162.0" rx="0.5" ry="0.8" transform="rotate(-12.0 349.0 162.0)" fill="none" stroke="#444" stroke-width="0.6" />
</g>
<g id="p29">
<path d="M342.9 175.1 L343.0 175.6 L345.5 176.8 L345.7 178.2 L343.3 179.2 L343.3 179.7 L343.3 180.3 L345.5 182.6 L345.3 183.9 L342.7 183.6 L342.6 184.1 L342.4 184.6 L344.1 187.7 L343.6 188.7 L341.1 187.2 L340.8 187.6 L340.6 187.9 L341.4 191.5 L340.6 192.1 L338.6 189.6 L338.2 189.8 L337.9 189.9 L337.9 193.5 L336.9 193.7 L335.5 190.4 L335.1 190.4 L334.7 190.4 L333.8 193.6 L332.8 193.3 L332.2 189.7 L331.8 189.5 L331.4 189.3 L329.8 191.6 L328.8 190.9 L329.1 187.4 L328.7 187.0 L328.4 186.6 L326.2 187.9 L325.5 186.8 L326.6 183.8 L326.3 183.4 L326.1 182.9 L323.6 182.9 L323.1 181.6 L324.9 179.5 L324.8 178.9 L324.7 178.4 L322.2 177.2 L322.1 175.8 L324.4 174.8 L324.4 174.3 L324.4 173.7 L322.2 171.4 L322.4 170.1 L325.0 170.4 L325.1 169.9 L325.3 169.4 L323.6 166.3 L324.2 165.3 L326.6 166.8 L326.9 166.4 L327.2 166.1 L326.3 162.5 L327.1 161.9 L329.2 164.4 L329.5 164.2 L329.9 164.1 L329.9 160.5 L330.8 160.3 L332.3 163.6 L332.6 163.6 L333.0 163.6 L333.9 160.4 L334.9 160.7 L335.5 164.3 L335.9 164.5 L336.3 164.7 L338.0 162.4 L338.9 163.1 L338.6 166.6 L339.0 167.0 L339.3 167.4 L341.5 166.1 L342.2 167.2 L341.1 170.2 L341.4 170.6 L341.6 171.1 L344.1 171.1 L344.6 172.4 L342.8 174.5Z" fill="#fff" stroke="#151515" stroke-width="1.4" />
<path d="M324.7 197.6 L324.2 197.9 L323.6 198.1 L323.0 198.3 L322.4 198.4 L321.8 198.4 L321.2 198.4 L320.6 198.4 L320.0 198.3 L319.4 198.1 L318.7 197.9 L318.1 197.6 L317.5 197.2 L316.9 196.9 L316.3 196.4 L315.8 195.9 L315.2 195.4 L314.7 194.8 L314.2 194.2 L313.7 193.5 L313.3 192.8 L312.9 192.1 L312.5 191.3 L312.1 190.6 L311.8 189.7 L311.5 188.9 L311.2 188.1 L311.0 187.2 L310.8 186.3 L310.7 185.5 L310.6 184.6 L310.5 183.7 L310.5 182.8 L310.5 182.0 L310.6 181.1 L310.7 180.3 L310.9 179.5 L311.0 178.7 L311.3 177.9 L311.5 177.2 L311.8 176.5 L312.1 175.8 L312.5 175.2 L312.9 174.6 L313.3 174.1 L313.8 173.6 L314.3 173.2 L314.8 172.8 L315.3 172.4 L329.1 164.4 L329.7 164.1 L330.3 163.9 L330.8 163.7 L331.4 163.6 L332.0 163.6 L332.6 163.6 L333.3 163.6 L333.9 163.7 L334.5 163.9 L335.1 164.1 L335.7 164.4 L336.3 164.8 L336.9 165.1 L337.5 165.6 L338.1 166.1 L338.6 166.6 L339.1 167.2 L339.6 167.8 L340.1 168.5 L340.6 169.2 L341.0 169.9 L341.4 170.7 L341.8 171.4 L342.1 172.3 L342.4 173.1 L342.6 173.9 L342.8 174.8 L343.0 175.7 L343.2 176.5 L343.3 177.4 L343.3 178.3 L343.3 179.2 L343.3 180.0 L343.2 180.9 L343.1 181.7 L343.0 182.5 L342.8 183.3 L342.6 184.1 L342.3 184.8 L342.0 185.5 L341.7 186.2 L341.4 186.8 L341.0 187.4 L340.5 187.9 L340.1 188.4 L339.6 188.8 L339.1 189.2 L338.6 189.6Z" fill="#1a1a1a" stroke="none" stroke-width="0" />
<path d="M331.5 183.9 L331.8 187.2 L345.7 179.2 L345.4 175.9Z" fill="#fff" stroke="none" stroke-width="0" />
<path d="M331.8 189.7 L331.3 192.7 L345.1 184.7 L345.6 181.7Z" fill="#fff" stroke="none" stroke-width="0" />
<path d="M330.6 194.9 L329.3 197.4 L343.2 189.4 L344.4 186.9Z" fill="#fff" stroke="none" stroke-width="0" />
<path d="M328.1 199.0 L326.2 200.5 L340.1 192.5 L341.9 191.0Z" fill="#fff" stroke="none" stroke-width="0" />
<path d="M315.4 168.7 L317.6 168.2 L331.4 160.2 L329.2 160.7Z" fill="#fff" stroke="none" stroke-width="0" />
<path d="M319.4 168.3 L321.7 169.0 L335.6 161.0 L333.2 160.3Z" fill="#fff" stroke="none" stroke-width="0" />
<path d="M323.5 169.9 L325.6 171.6 L339.5 163.6 L337.3 161.9Z" fill="#fff" stroke="none" stroke-width="0" />
<path d="M327.1 173.4 L328.8 175.9 L342.7 167.9 L341.0 165.4Z" fill="#fff" stroke="none" stroke-width="0" />
<path d="M329.9 178.2 L331.0 181.3 L344.9 173.3 L343.8 170.2Z" fill="#fff" stroke="none" stroke-width="0" />
<path d="M342.9 175.1 L343.0 175.6 L345.5 176.8 L345.7 178.2 L343.3 179.2 L343.3 179.7 L343.3 179.7 L343.3 180.3 L345.5 182.6 L345.3 183.9 L342.7 183.6 L342.6 184.1 L342.6 184.1 L342.4 184.6 L344.1 187.7 L343.6 188.7 L341.1 187.2 L340.8 187.6 L340.8 187.6 L340.6 187.9 L341.4 191.5 L340.6 192.1 L338.6 189.6 L338.2 189.8" fill="none" stroke="#151515" stroke-width="1.1199999999999999" stroke-linejoin="round"/>
<path d="M329.5 164.2 L329.9 164.1 L329.9 160.5 L330.8 160.3 L332.3 163.6 L332.6 163.6 L332.6 163.6 L333.0 163.6 L333.9 160.4 L334.9 160.7 L335.5 164.3 L335.9 164.5 L335.9 164.5 L336.3 164.7 L338.0 162.4 L338.9 163.1 L338.6 166.6 L339.0 167.0 L339.0 167.0 L339.3 167.4 L341.5 166.1 L342.2 167.2 L341.1 170.2 L341.4 170.6 L341.4 170.6 L341.6 171.1 L344.1 171.1 L344.6 172.4 L342.8 174.5 L342.9 175.1 L342.9 175.1 L343.0 175.6 L345.5 176.8 L345.7 178.2 L343.3 179.2 L343.3 179.7" fill="none" stroke="#151515" stroke-width="1.1199999999999999" stroke-linejoin="round"/>
<line x1="314.1" y1="169.3" x2="328.0" y2="161.3" stroke="#151515" stroke-width="1.1199999999999999" />
<line x1="325.9" y1="200.7" x2="339.7" y2="192.7" stroke="#151515" stroke-width="1.1199999999999999" />
<path d="M329.0 183.1 L329.2 183.6 L331.7 184.8 L331.8 186.2 L329.5 187.2 L329.5 187.7 L329.4 188.3 L331.7 190.6 L331.4 191.9 L328.9 191.6 L328.7 192.1 L328.6 192.6 L330.2 195.7 L329.7 196.7 L327.2 195.2 L327.0 195.6 L326.7 195.9 L327.6 199.5 L326.8 200.1 L324.7 197.6 L324.4 197.8 L324.0 197.9 L324.0 201.5 L323.1 201.7 L321.6 198.4 L321.2 198.4 L320.8 198.4 L320.0 201.6 L319.0 201.3 L318.3 197.7 L317.9 197.5 L317.5 197.3 L315.9 199.6 L315.0 198.9 L315.2 195.4 L314.9 195.0 L314.6 194.6 L312.3 195.9 L311.6 194.8 L312.7 191.8 L312.5 191.4 L312.2 190.9 L309.7 190.9 L309.3 189.6 L311.1 187.5 L311.0 186.9 L310.8 186.4 L308.3 185.2 L308.2 183.8 L310.5 182.8 L310.5 182.3 L310.6 181.7 L308.3 179.4 L308.6 178.1 L311.1 178.4 L311.3 177.9 L311.4 177.4 L309.8 174.3 L310.3 173.3 L312.8 174.8 L313.0 174.4 L313.3 174.1 L312.4 170.5 L313.2 169.9 L315.3 172.4 L315.6 172.2 L316.0 172.1 L316.0 168.5 L316.9 168.3 L318.4 171.6 L318.8 171.6 L319.2 171.6 L320.0 168.4 L321.0 168.7 L321.7 172.3 L322.1 172.5 L322.5 172.7 L324.1 170.4 L325.0 171.1 L324.8 174.6 L325.1 175.0 L325.4 175.4 L327.7 174.1 L328.4 175.2 L327.3 178.2 L327.5 178.6 L327.8 179.1 L330.3 179.1 L330.7 180.4 L328.9 182.5Z" fill="#fff" stroke="none" stroke-width="0" />
<path d="M329.0 183.1 L329.2 183.6 L331.7 184.8 L331.8 186.2 L329.5 187.2 L329.5 187.7 L329.4 188.3 L331.7 190.6 L331.4 191.9 L328.9 191.6 L328.7 192.1 L328.6 192.6 L330.2 195.7 L329.7 196.7 L327.2 195.2 L327.0 195.6 L326.7 195.9 L327.6 199.5 L326.8 200.1 L324.7 197.6 L324.4 197.8" fill="none" stroke="#333" stroke-width="0.7" stroke-linejoin="round"/>
<path d="M324.4 197.8 L324.0 197.9 L324.0 201.5 L323.1 201.7 L321.6 198.4 L321.2 198.4 L320.8 198.4 L320.0 201.6 L319.0 201.3 L318.3 197.7 L317.9 197.5 L317.5 197.3 L315.9 199.6 L315.0 198.9 L315.2 195.4 L314.9 195.0 L314.6 194.6 L312.3 195.9 L311.6 194.8 L312.7 191.8 L312.5 191.4 L312.2 190.9 L309.7 190.9 L309.3 189.6 L311.1 187.5 L311.0 186.9 L310.8 186.4 L308.3 185.2 L308.2 183.8 L310.5 182.8 L310.5 182.3 L310.6 181.7 L308.3 179.4 L308.6 178.1 L311.1 178.4 L311.3 177.9 L311.4 177.4 L309.8 174.3 L310.3 173.3 L312.8 174.8 L313.0 174.4 L313.3 174.1 L312.4 170.5 L313.2 169.9 L315.3 172.4 L315.6 172.2" fill="none" stroke="#151515" stroke-width="1.4" stroke-linejoin="round"/>
<path d="M315.6 172.2 L316.0 172.1 L316.0 168.5 L316.9 168.3 L318.4 171.6 L318.8 171.6 L319.2 171.6 L320.0 168.4 L321.0 168.7 L321.7 172.3 L322.1 172.5 L322.5 172.7 L324.1 170.4 L325.0 171.1 L324.8 174.6 L325.1 175.0 L325.4 175.4 L327.7 174.1 L328.4 175.2 L327.3 178.2 L327.5 178.6 L327.8 179.1 L330.3 179.1 L330.7 180.4 L328.9 182.5 L329.0 183.1" fill="none" stroke="#333" stroke-width="0.7" stroke-linejoin="round"/>
<path d="M331.6 178.6 L331.7 179.1 L334.2 180.2 L334.4 181.6 L332.1 182.8 L332.1 183.4 L332.2 183.9 L334.5 185.9 L334.4 187.2 L331.9 187.5 L331.8 188.0 L331.7 188.6 L333.7 191.2 L333.4 192.4 L330.9 191.7 L330.7 192.2 L330.5 192.7 L332.0 195.9 L331.4 196.9 L329.0 195.3 L328.7 195.6 L328.5 196.0 L329.4 199.5 L328.6 200.2 L326.5 197.9 L326.1 198.1 L325.8 198.3 L326.1 201.9 L325.2 202.3 L323.5 199.3 L323.1 199.4 L322.7 199.5 L322.3 202.9 L321.3 202.9 L320.1 199.5 L319.7 199.5 L319.3 199.4 L318.3 202.4 L317.3 202.1 L316.8 198.5 L316.4 198.3 L316.0 198.0 L314.4 200.5 L313.5 199.8 L313.5 196.3 L313.2 195.9 L312.8 195.6 L310.8 197.2 L310.0 196.3 L310.7 193.0 L310.4 192.6 L310.1 192.1 L307.7 192.9 L307.1 191.7 L308.5 189.0 L308.2 188.4 L308.0 187.9 L305.5 187.7 L305.1 186.4 L307.0 184.4 L306.8 183.8 L306.7 183.3 L304.2 182.2 L304.0 180.8 L306.3 179.6 L306.2 179.0 L306.2 178.5 L303.9 176.5 L304.0 175.2 L306.5 174.9 L306.5 174.4 L306.6 173.8 L304.6 171.2 L305.0 170.0 L307.5 170.7 L307.7 170.2 L307.9 169.7 L306.4 166.5 L306.9 165.5 L309.4 167.1 L309.7 166.8 L309.9 166.4 L309.0 162.9 L309.7 162.2 L311.9 164.5 L312.3 164.3 L312.6 164.1 L312.3 160.5 L313.2 160.1 L314.9 163.1 L315.3 163.0 L315.7 162.9 L316.1 159.5 L317.0 159.5 L318.3 162.9 L318.7 162.9 L319.1 163.0 L320.1 160.0 L321.0 160.3 L321.6 163.9 L322.0 164.1 L322.4 164.4 L324.0 161.9 L324.9 162.6 L324.8 166.1 L325.2 166.5 L325.6 166.8 L327.6 165.2 L328.4 166.1 L327.7 169.4 L328.0 169.8 L328.3 170.3 L330.7 169.5 L331.3 170.7 L329.9 173.4 L330.1 174.0 L330.4 174.5 L332.9 174.7 L333.3 176.0 L331.4 178.0Z" fill="#fff" stroke="#151515" stroke-width="1.5" />
<path d="M320.4 201.4 L319.7 201.8 L318.9 202.1 L318.1 202.3 L317.3 202.5 L316.5 202.6 L315.7 202.6 L314.8 202.5 L314.0 202.3 L313.1 202.1 L312.3 201.8 L311.4 201.4 L310.6 201.0 L309.8 200.4 L309.0 199.8 L308.2 199.2 L307.5 198.4 L306.8 197.6 L306.1 196.8 L305.4 195.9 L304.8 194.9 L304.2 193.9 L303.7 192.9 L303.2 191.8 L302.8 190.7 L302.4 189.6 L302.0 188.4 L301.7 187.2 L301.5 186.0 L301.3 184.8 L301.1 183.6 L301.1 182.4 L301.0 181.2 L301.1 180.0 L301.2 178.9 L301.3 177.7 L301.5 176.6 L301.7 175.6 L302.0 174.5 L302.4 173.5 L302.8 172.6 L303.2 171.6 L303.7 170.8 L304.3 170.0 L304.9 169.3 L305.5 168.6 L306.1 168.0 L306.8 167.5 L307.6 167.0 L312.8 164.0 L313.5 163.6 L314.3 163.3 L315.1 163.1 L315.9 162.9 L316.7 162.8 L317.5 162.8 L318.4 162.9 L319.2 163.1 L320.1 163.3 L320.9 163.6 L321.8 164.0 L322.6 164.4 L323.4 165.0 L324.2 165.6 L325.0 166.2 L325.7 167.0 L326.4 167.8 L327.1 168.6 L327.8 169.5 L328.4 170.5 L329.0 171.5 L329.5 172.5 L330.0 173.6 L330.4 174.7 L330.8 175.8 L331.2 177.0 L331.5 178.2 L331.7 179.4 L331.9 180.6 L332.1 181.8 L332.1 183.0 L332.2 184.2 L332.1 185.4 L332.0 186.5 L331.9 187.7 L331.7 188.8 L331.5 189.8 L331.2 190.9 L330.8 191.9 L330.4 192.8 L330.0 193.8 L329.5 194.6 L328.9 195.4 L328.3 196.1 L327.7 196.8 L327.1 197.4 L326.4 197.9 L325.6 198.4Z" fill="#1a1a1a" stroke="none" stroke-width="0" />
<path d="M328.9 182.3 L329.3 185.6 L334.5 182.6 L334.1 179.3Z" fill="#fff" stroke="none" stroke-width="0" />
<path d="M329.3 188.0 L329.1 191.2 L334.3 188.2 L334.5 185.0Z" fill="#fff" stroke="none" stroke-width="0" />
<path d="M328.7 193.4 L327.9 196.3 L333.1 193.3 L333.9 190.4Z" fill="#fff" stroke="none" stroke-width="0" />
<path d="M327.1 198.2 L325.8 200.6 L331.0 197.6 L332.3 195.2Z" fill="#fff" stroke="none" stroke-width="0" />
<path d="M324.7 202.0 L322.9 203.7 L328.1 200.7 L329.9 199.0Z" fill="#fff" stroke="none" stroke-width="0" />
<path d="M306.6 163.8 L308.7 162.9 L313.9 159.9 L311.7 160.8Z" fill="#fff" stroke="none" stroke-width="0" />
<path d="M310.3 162.5 L312.6 162.5 L317.8 159.5 L315.5 159.5Z" fill="#fff" stroke="none" stroke-width="0" />
<path d="M314.3 162.8 L316.6 163.6 L321.8 160.6 L319.4 159.8Z" fill="#fff" stroke="none" stroke-width="0" />
<path d="M318.2 164.5 L320.4 166.1 L325.6 163.1 L323.4 161.5Z" fill="#fff" stroke="none" stroke-width="0" />
<path d="M321.9 167.6 L323.8 169.9 L329.0 166.9 L327.1 164.6Z" fill="#fff" stroke="none" stroke-width="0" />
<path d="M325.0 171.8 L326.5 174.6 L331.7 171.6 L330.2 168.8Z" fill="#fff" stroke="none" stroke-width="0" />
<path d="M327.4 176.8 L328.4 180.0 L333.6 177.0 L332.6 173.8Z" fill="#fff" stroke="none" stroke-width="0" />
<path d="M331.6 178.6 L331.7 179.1 L334.2 180.2 L334.4 181.6 L332.1 182.8 L332.1 183.4 L332.1 183.4 L332.2 183.9 L334.5 185.9 L334.4 187.2 L331.9 187.5 L331.8 188.0 L331.8 188.0 L331.7 188.6 L333.7 191.2 L333.4 192.4 L330.9 191.7 L330.7 192.2 L330.7 192.2 L330.5 192.7 L332.0 195.9 L331.4 196.9 L329.0 195.3 L328.7 195.6 L328.7 195.6 L328.5 196.0 L329.4 199.5 L328.6 200.2 L326.5 197.9 L326.1 198.1" fill="none" stroke="#151515" stroke-width="1.2000000000000002" stroke-linejoin="round"/>
<path d="M312.3 164.3 L312.6 164.1 L312.3 160.5 L313.2 160.1 L314.9 163.1 L315.3 163.0 L315.3 163.0 L315.7 162.9 L316.1 159.5 L317.0 159.5 L318.3 162.9 L318.7 162.9 L318.7 162.9 L319.1 163.0 L320.1 160.0 L321.0 160.3 L321.6 163.9 L322.0 164.1 L322.0 164.1 L322.4 164.4 L324.0 161.9 L324.9 162.6 L324.8 166.1 L325.2 166.5 L325.2 166.5 L325.6 166.8 L327.6 165.2 L328.4 166.1 L327.7 169.4 L328.0 169.8 L328.0 169.8 L328.3 170.3 L330.7 169.5 L331.3 170.7 L329.9 173.4 L330.1 174.0 L330.1 174.0 L330.4 174.5 L332.9 174.7 L333.3 176.0 L331.4 178.0 L331.6 178.6 L331.6 178.6 L331.7 179.1 L334.2 180.2 L334.4 181.6 L332.1 182.8 L332.1 183.4" fill="none" stroke="#151515" stroke-width="1.2000000000000002" stroke-linejoin="round"/>
<line x1="306.4" y1="163.9" x2="311.6" y2="160.9" stroke="#151515" stroke-width="1.2000000000000002" />
<line x1="321.6" y1="204.5" x2="326.8" y2="201.5" stroke="#151515" stroke-width="1.2000000000000002" />
<path d="M326.4 181.6 L326.5 182.1 L329.0 183.2 L329.2 184.6 L326.9 185.8 L327.0 186.4 L327.0 186.9 L329.3 188.9 L329.2 190.2 L326.7 190.5 L326.6 191.0 L326.6 191.6 L328.6 194.2 L328.2 195.4 L325.7 194.7 L325.5 195.2 L325.3 195.7 L326.8 198.9 L326.3 199.9 L323.8 198.3 L323.5 198.6 L323.3 199.0 L324.2 202.5 L323.5 203.2 L321.3 200.9 L320.9 201.1 L320.6 201.3 L320.9 204.9 L320.0 205.3 L318.3 202.3 L317.9 202.4 L317.5 202.5 L317.1 205.9 L316.1 205.9 L314.9 202.5 L314.5 202.5 L314.1 202.4 L313.1 205.4 L312.1 205.1 L311.6 201.5 L311.2 201.3 L310.8 201.0 L309.2 203.5 L308.3 202.8 L308.4 199.3 L308.0 198.9 L307.6 198.6 L305.6 200.2 L304.8 199.3 L305.5 196.0 L305.2 195.6 L304.9 195.1 L302.5 195.9 L301.9 194.7 L303.3 192.0 L303.1 191.4 L302.8 190.9 L300.3 190.7 L299.9 189.4 L301.8 187.4 L301.6 186.8 L301.5 186.3 L299.0 185.2 L298.8 183.8 L301.1 182.6 L301.0 182.0 L301.0 181.5 L298.7 179.5 L298.8 178.2 L301.3 177.9 L301.4 177.4 L301.4 176.8 L299.4 174.2 L299.8 173.0 L302.3 173.7 L302.5 173.2 L302.7 172.7 L301.2 169.5 L301.7 168.5 L304.2 170.1 L304.5 169.8 L304.7 169.4 L303.8 165.9 L304.5 165.2 L306.7 167.5 L307.1 167.3 L307.4 167.1 L307.1 163.5 L308.0 163.1 L309.7 166.1 L310.1 166.0 L310.5 165.9 L310.9 162.5 L311.9 162.5 L313.1 165.9 L313.5 165.9 L313.9 166.0 L314.9 163.0 L315.9 163.3 L316.4 166.9 L316.8 167.1 L317.2 167.4 L318.8 164.9 L319.7 165.6 L319.6 169.1 L320.0 169.5 L320.4 169.8 L322.4 168.2 L323.2 169.1 L322.5 172.4 L322.8 172.8 L323.1 173.3 L325.5 172.5 L326.1 173.7 L324.7 176.4 L324.9 177.0 L325.2 177.5 L327.7 177.7 L328.1 179.0 L326.2 181.0Z" fill="#fff" stroke="none" stroke-width="0" />
<path d="M326.4 181.6 L326.5 182.1 L329.0 183.2 L329.2 184.6 L326.9 185.8 L327.0 186.4 L327.0 186.9 L329.3 188.9 L329.2 190.2 L326.7 190.5 L326.6 191.0 L326.6 191.6 L328.6 194.2 L328.2 195.4 L325.7 194.7 L325.5 195.2 L325.3 195.7 L326.8 198.9 L326.3 199.9 L323.8 198.3 L323.5 198.6 L323.3 199.0 L324.2 202.5 L323.5 203.2 L321.3 200.9 L320.9 201.1" fill="none" stroke="#333" stroke-width="0.7" stroke-linejoin="round"/>
<path d="M320.9 201.1 L320.6 201.3 L320.9 204.9 L320.0 205.3 L318.3 202.3 L317.9 202.4 L317.5 202.5 L317.1 205.9 L316.1 205.9 L314.9 202.5 L314.5 202.5 L314.1 202.4 L313.1 205.4 L312.1 205.1 L311.6 201.5 L311.2 201.3 L310.8 201.0 L309.2 203.5 L308.3 202.8 L308.4 199.3 L308.0 198.9 L307.6 198.6 L305.6 200.2 L304.8 199.3 L305.5 196.0 L305.2 195.6 L304.9 195.1 L302.5 195.9 L301.9 194.7 L303.3 192.0 L303.1 191.4 L302.8 190.9 L300.3 190.7 L299.9 189.4 L301.8 187.4 L301.6 186.8 L301.5 186.3 L299.0 185.2 L298.8 183.8 L301.1 182.6 L301.0 182.0 L301.0 181.5 L298.7 179.5 L298.8 178.2 L301.3 177.9 L301.4 177.4 L301.4 176.8 L299.4 174.2 L299.8 173.0 L302.3 173.7 L302.5 173.2 L302.7 172.7 L301.2 169.5 L301.7 168.5 L304.2 170.1 L304.5 169.8 L304.7 169.4 L303.8 165.9 L304.5 165.2 L306.7 167.5 L307.1 167.3" fill="none" stroke="#151515" stroke-width="1.5" stroke-linejoin="round"/>
<path d="M307.1 167.3 L307.4 167.1 L307.1 163.5 L308.0 163.1 L309.7 166.1 L310.1 166.0 L310.5 165.9 L310.9 162.5 L311.9 162.5 L313.1 165.9 L313.5 165.9 L313.9 166.0 L314.9 163.0 L315.9 163.3 L316.4 166.9 L316.8 167.1 L317.2 167.4 L318.8 164.9 L319.7 165.6 L319.6 169.1 L320.0 169.5 L320.4 169.8 L322.4 168.2 L323.2 169.1 L322.5 172.4 L322.8 172.8 L323.1 173.3 L325.5 172.5 L326.1 173.7 L324.7 176.4 L324.9 177.0 L325.2 177.5 L327.7 177.7 L328.1 179.0 L326.2 181.0 L326.4 181.6" fill="none" stroke="#333" stroke-width="0.7" stroke-linejoin="round"/>
<ellipse cx="314.0" cy="184.2" rx="11.4" ry="16.7" transform="rotate(-12.0 314.0 184.2)" fill="none" stroke="#8a8a8a" stroke-width="0.6" />
<ellipse cx="314.0" cy="184.2" rx="8.2" ry="12.1" transform="rotate(-12.0 314.0 184.2)" fill="none" stroke="#777" stroke-width="0.7" />
<ellipse cx="314.0" cy="184.2" rx="7.4" ry="10.9" transform="rotate(-12.0 314.0 184.2)" fill="none" stroke="#999" stroke-width="0.6" />
<ellipse cx="314.0" cy="184.2" rx="6.0" ry="8.8" transform="rotate(-12.0 314.0 184.2)" fill="#e4e4e4" stroke="#222" stroke-width="1.0" />
<clipPath id="ce2"><ellipse cx="314.0" cy="184.2" rx="6.0" ry="8.8" transform="rotate(-12.0 314.0 184.2)"/></clipPath>
<ellipse cx="319.2" cy="181.2" rx="6.0" ry="8.8" transform="rotate(-12.0 319.2 181.2)" fill="#fff" stroke="#222" stroke-width="1.1" clip-path="url(#ce2)"/>
<ellipse cx="316.3" cy="182.8" rx="6.0" ry="8.8" transform="rotate(-12.0 316.3 182.8)" fill="none" stroke="#666" stroke-width="0.7" clip-path="url(#ce2)"/>
<ellipse cx="316.3" cy="182.8" rx="5.6" ry="8.2" transform="rotate(-12.0 316.3 182.8)" fill="none" stroke="#999" stroke-width="0.6" clip-path="url(#ce2)"/>
<line x1="309.4" y1="186.8" x2="317.0" y2="182.4" stroke="#666" stroke-width="0.6" />
<line x1="312.7" y1="181.1" x2="315.3" y2="187.3" stroke="#666" stroke-width="0.6" />
</g>
<g id="p27r">
<path d="M281.7 222.5 L281.0 222.9 L280.3 223.2 L279.5 223.4 L278.7 223.6 L278.0 223.7 L277.2 223.7 L276.4 223.7 L275.6 223.6 L274.8 223.4 L274.0 223.1 L273.2 222.8 L272.4 222.4 L271.6 221.9 L270.9 221.4 L270.1 220.8 L269.4 220.2 L268.8 219.5 L268.1 218.8 L267.5 218.0 L266.9 217.1 L266.4 216.2 L265.8 215.3 L265.4 214.3 L265.0 213.3 L264.6 212.3 L264.3 211.3 L264.0 210.2 L263.8 209.2 L263.6 208.1 L263.5 207.0 L263.4 205.9 L263.4 204.8 L263.4 203.8 L263.5 202.7 L263.6 201.7 L263.8 200.7 L264.0 199.7 L264.3 198.7 L264.7 197.8 L265.0 197.0 L265.5 196.1 L265.9 195.4 L266.5 194.6 L267.0 193.9 L267.6 193.3 L268.2 192.8 L268.9 192.3 L269.6 191.8 L276.1 188.1 L276.8 187.7 L277.5 187.4 L278.3 187.2 L279.1 187.0 L279.8 186.9 L280.6 186.9 L281.4 186.9 L282.2 187.0 L283.0 187.2 L283.8 187.5 L284.6 187.8 L285.4 188.2 L286.2 188.7 L286.9 189.2 L287.7 189.8 L288.4 190.4 L289.0 191.1 L289.7 191.8 L290.3 192.6 L290.9 193.5 L291.4 194.4 L292.0 195.3 L292.4 196.3 L292.8 197.3 L293.2 198.3 L293.5 199.3 L293.8 200.4 L294.0 201.4 L294.2 202.5 L294.3 203.6 L294.4 204.7 L294.4 205.8 L294.4 206.8 L294.3 207.9 L294.2 208.9 L294.0 209.9 L293.8 210.9 L293.5 211.9 L293.1 212.8 L292.8 213.6 L292.3 214.5 L291.9 215.2 L291.3 216.0 L290.8 216.7 L290.2 217.3 L289.6 217.8 L288.9 218.3 L288.2 218.8Z" fill="#fff" stroke="#151515" stroke-width="1.7" />
<path d="M271.7 191.2 L272.4 190.8 L273.1 190.5 L273.8 190.3 L274.6 190.1 L275.4 190.0 L276.1 190.0 L276.9 190.0 L277.7 190.2 L278.5 190.3 L279.2 190.6 L280.0 190.9 L280.8 191.3 L281.5 191.7 L282.2 192.2 L282.9 192.8 L283.6 193.4 L284.3 194.1 L284.9 194.8 L285.5 195.6 L286.1 196.4 L286.6 197.3 L287.1 198.2 L287.5 199.1 L288.0 200.1 L288.3 201.1 L288.6 202.1 L288.9 203.1 L289.1 204.1 L289.3 205.2 L289.4 206.2 L289.5 207.3 L289.5 208.3 L289.5 209.4 L289.4 210.4 L289.3 211.4 L289.1 212.4 L288.8 213.3 L288.6 214.2 L288.2 215.1 L287.9 216.0 L287.5 216.8 L287.0 217.5 L286.5 218.2 L286.0 218.9 L285.4 219.5 L284.8 220.0 L284.1 220.5 L283.5 220.9" fill="none" stroke="#aaa" stroke-width="0.6" />
<ellipse cx="275.6" cy="207.2" rx="12.0" ry="16.7" transform="rotate(-12.0 275.6 207.2)" fill="#fff" stroke="#444" stroke-width="0.8" />
<ellipse cx="275.6" cy="207.2" rx="10.8" ry="15.1" transform="rotate(-12.0 275.6 207.2)" fill="none" stroke="#a8a8a8" stroke-width="0.6" />
<ellipse cx="275.6" cy="207.2" rx="10.1" ry="14.0" transform="rotate(-12.0 275.6 207.2)" fill="none" stroke="#c0c0c0" stroke-width="0.5" />
<ellipse cx="284.4" cy="207.6" rx="1.2" ry="1.5" transform="rotate(-12.0 284.4 207.6)" fill="none" stroke="#c0c0c0" stroke-width="0.6"/>
<ellipse cx="283.3" cy="214.5" rx="1.2" ry="1.5" transform="rotate(-12.0 283.3 214.5)" fill="none" stroke="#c0c0c0" stroke-width="0.6"/>
<ellipse cx="279.2" cy="218.6" rx="1.2" ry="1.5" transform="rotate(-12.0 279.2 218.6)" fill="none" stroke="#c0c0c0" stroke-width="0.6"/>
<ellipse cx="273.8" cy="218.4" rx="1.2" ry="1.5" transform="rotate(-12.0 273.8 218.4)" fill="none" stroke="#c0c0c0" stroke-width="0.6"/>
<ellipse cx="269.0" cy="213.8" rx="1.2" ry="1.5" transform="rotate(-12.0 269.0 213.8)" fill="none" stroke="#c0c0c0" stroke-width="0.6"/>
<ellipse cx="266.8" cy="206.7" rx="1.2" ry="1.5" transform="rotate(-12.0 266.8 206.7)" fill="none" stroke="#c0c0c0" stroke-width="0.6"/>
<ellipse cx="268.0" cy="199.8" rx="1.2" ry="1.5" transform="rotate(-12.0 268.0 199.8)" fill="none" stroke="#c0c0c0" stroke-width="0.6"/>
<ellipse cx="272.1" cy="195.7" rx="1.2" ry="1.5" transform="rotate(-12.0 272.1 195.7)" fill="none" stroke="#c0c0c0" stroke-width="0.6"/>
<ellipse cx="277.5" cy="196.0" rx="1.2" ry="1.5" transform="rotate(-12.0 277.5 196.0)" fill="none" stroke="#c0c0c0" stroke-width="0.6"/>
<ellipse cx="282.2" cy="200.5" rx="1.2" ry="1.5" transform="rotate(-12.0 282.2 200.5)" fill="none" stroke="#c0c0c0" stroke-width="0.6"/>
<ellipse cx="275.6" cy="207.2" rx="7.2" ry="10.0" transform="rotate(-12.0 275.6 207.2)" fill="none" stroke="#b0b0b0" stroke-width="0.6" />
<ellipse cx="276.9" cy="206.4" rx="6.5" ry="9.1" transform="rotate(-12.0 276.9 206.4)" fill="#fff" stroke="#777" stroke-width="0.6" />
<ellipse cx="276.9" cy="206.4" rx="5.5" ry="7.7" transform="rotate(-12.0 276.9 206.4)" fill="#fff" stroke="#222" stroke-width="0.9" />
<clipPath id="ce3"><ellipse cx="276.9" cy="206.4" rx="5.5" ry="7.7" transform="rotate(-12.0 276.9 206.4)"/></clipPath>
<path d="M286.3 203.0 L286.4 204.0 L286.5 205.0 L286.5 206.0 L286.3 206.9 L286.1 207.8 L285.8 208.7 L285.4 209.4 L284.9 210.1 L284.4 210.7 L283.8 211.1 L283.1 211.5 L282.5 211.7 L281.7 211.8 L281.0 211.7 L280.3 211.6 L279.5 211.3 L278.8 210.8 L278.2 210.3 L277.5 209.7 L277.0 208.9 L276.5 208.1 L276.0 207.2 L275.7 206.3 L275.4 205.3 L275.3 204.3 L275.2 203.3 L275.2 202.4 L275.4 201.4 L275.6 200.5 L275.9 199.7 L276.3 198.9 L276.8 198.2 L277.3 197.7 L277.9 197.2 L278.6 196.9 L279.3 196.6 L280.0 196.6 L280.7 196.6 L281.4 196.8 L282.2 197.1 L282.9 197.5 L283.6 198.0 L284.2 198.7 L284.7 199.4 L285.2 200.2 L285.7 201.1 L286.0 202.0 L286.3 203.0" fill="none" stroke="#777" stroke-width="0.6" clip-path="url(#ce3)"/>
<line x1="273.7" y1="208.3" x2="279.1" y2="205.2" stroke="#666" stroke-width="0.6" />
<line x1="276.0" y1="204.3" x2="277.9" y2="208.6" stroke="#666" stroke-width="0.6" />
</g>
<g id="p28">
<path d="M247.8 236.5 L247.2 236.1 L246.7 235.7 L246.1 235.2 L245.6 234.7 L245.1 234.2 L244.6 233.7 L244.1 233.1 L243.6 232.5 L243.2 231.9 L242.8 231.2 L242.4 230.5 L242.0 229.9 L241.7 229.2 L241.4 228.4 L241.1 227.7 L240.8 227.0 L240.6 226.2 L240.4 225.4 L240.2 224.7 L240.1 223.9 L240.0 223.1 L239.9 222.3 L239.8 221.5 L239.8 220.8 L239.8 220.0 L239.9 219.2 L240.0 218.5 L240.1 217.7 L240.2 217.0 L240.3 216.2 L240.5 215.5 L240.8 214.8 L241.0 214.1 L241.3 213.5 L241.6 212.9 L241.9 212.2 L242.3 211.7 L242.7 211.1 L243.1 210.6 L243.5 210.0 L243.9 209.6 L244.4 209.1 L244.9 208.7 L245.4 208.3 L245.9 208.0 L246.5 207.7 L247.0 207.4 L247.6 207.2 L248.2 206.9 L248.8 206.8 L249.4 206.6 L250.0 206.6 L250.6 206.5 L251.2 206.5 L251.9 206.5 L252.5 206.6 L253.1 206.7 L253.8 206.8 L254.4 207.0 L255.0 207.2 L255.6 207.4 L256.2 207.7 L256.8 208.0 L257.4 208.4 L258.0 208.8 L258.6 209.2 L259.1 209.6 L259.7 210.1 L260.2 210.6 L260.7 211.2 L261.2 211.7 L261.6 212.3 L262.1 213.0 L262.5 213.6 L262.9 214.3 L263.3 214.9 L263.6 215.6 L263.9 216.3 L264.2 217.1 L264.5 217.8 L264.7 218.6 L264.9 219.3 L265.1 220.1 L265.3 220.9 L265.4 221.7 L265.5 222.4 L265.5 223.2 L265.6 224.0 L265.6 224.8 L265.5 225.6 L265.5 226.3 L265.4 227.1 L265.3 227.8 L265.1 228.6 L264.9 229.3 L264.7 230.0 L264.5 230.7 L264.2 231.3 L263.9 232.0 L263.6 232.6 L263.2 233.2 L262.9 233.7 L262.5 234.3 L262.0 234.8 L261.6 235.3 L261.1 235.7 L260.6 236.2 L260.1 236.6 L259.6 236.9 L259.1 237.2 L258.5 237.5 L258.0 237.8 L257.4 238.0 L256.8 238.2 L256.2 238.3 L255.6 238.4 L255.0 238.5 L254.3 238.5 L253.7 238.5 L253.1 238.5" fill="none" stroke="#151515" stroke-width="3.7" stroke-linecap="round"/>
<path d="M247.8 236.5 L247.2 236.1 L246.7 235.7 L246.1 235.2 L245.6 234.7 L245.1 234.2 L244.6 233.7 L244.1 233.1 L243.6 232.5 L243.2 231.9 L242.8 231.2 L242.4 230.5 L242.0 229.9 L241.7 229.2 L241.4 228.4 L241.1 227.7 L240.8 227.0 L240.6 226.2 L240.4 225.4 L240.2 224.7 L240.1 223.9 L240.0 223.1 L239.9 222.3 L239.8 221.5 L239.8 220.8 L239.8 220.0 L239.9 219.2 L240.0 218.5 L240.1 217.7 L240.2 217.0 L240.3 216.2 L240.5 215.5 L240.8 214.8 L241.0 214.1 L241.3 213.5 L241.6 212.9 L241.9 212.2 L242.3 211.7 L242.7 211.1 L243.1 210.6 L243.5 210.0 L243.9 209.6 L244.4 209.1 L244.9 208.7 L245.4 208.3 L245.9 208.0 L246.5 207.7 L247.0 207.4 L247.6 207.2 L248.2 206.9 L248.8 206.8 L249.4 206.6 L250.0 206.6 L250.6 206.5 L251.2 206.5 L251.9 206.5 L252.5 206.6 L253.1 206.7 L253.8 206.8 L254.4 207.0 L255.0 207.2 L255.6 207.4 L256.2 207.7 L256.8 208.0 L257.4 208.4 L258.0 208.8 L258.6 209.2 L259.1 209.6 L259.7 210.1 L260.2 210.6 L260.7 211.2 L261.2 211.7 L261.6 212.3 L262.1 213.0 L262.5 213.6 L262.9 214.3 L263.3 214.9 L263.6 215.6 L263.9 216.3 L264.2 217.1 L264.5 217.8 L264.7 218.6 L264.9 219.3 L265.1 220.1 L265.3 220.9 L265.4 221.7 L265.5 222.4 L265.5 223.2 L265.6 224.0 L265.6 224.8 L265.5 225.6 L265.5 226.3 L265.4 227.1 L265.3 227.8 L265.1 228.6 L264.9 229.3 L264.7 230.0 L264.5 230.7 L264.2 231.3 L263.9 232.0 L263.6 232.6 L263.2 233.2 L262.9 233.7 L262.5 234.3 L262.0 234.8 L261.6 235.3 L261.1 235.7 L260.6 236.2 L260.1 236.6 L259.6 236.9 L259.1 237.2 L258.5 237.5 L258.0 237.8 L257.4 238.0 L256.8 238.2 L256.2 238.3 L255.6 238.4 L255.0 238.5 L254.3 238.5 L253.7 238.5 L253.1 238.5" fill="none" stroke="#fff" stroke-width="1.1" stroke-linecap="round"/>
<circle cx="248.0" cy="235.1" r="1.5" fill="#fff" stroke="#151515" stroke-width="1.1"/>
<circle cx="253.3" cy="237.1" r="1.5" fill="#fff" stroke="#151515" stroke-width="1.1"/>
</g>
<g id="p27l">
<path d="M224.8 256.3 L224.1 256.7 L223.4 257.0 L222.6 257.2 L221.8 257.4 L221.1 257.5 L220.3 257.5 L219.5 257.4 L218.6 257.3 L217.8 257.1 L217.0 256.9 L216.2 256.5 L215.5 256.2 L214.7 255.7 L213.9 255.2 L213.2 254.6 L212.5 253.9 L211.8 253.2 L211.2 252.5 L210.5 251.7 L210.0 250.8 L209.4 250.0 L208.9 249.0 L208.4 248.1 L208.0 247.1 L207.6 246.0 L207.3 245.0 L207.0 243.9 L206.8 242.9 L206.6 241.8 L206.5 240.7 L206.4 239.6 L206.4 238.5 L206.4 237.5 L206.5 236.4 L206.7 235.4 L206.9 234.4 L207.1 233.4 L207.4 232.4 L207.7 231.5 L208.1 230.6 L208.5 229.8 L209.0 229.0 L209.5 228.3 L210.1 227.6 L210.7 227.0 L211.3 226.4 L212.0 225.9 L212.6 225.5 L219.2 221.7 L219.9 221.3 L220.6 221.0 L221.4 220.8 L222.2 220.6 L222.9 220.5 L223.7 220.5 L224.5 220.6 L225.4 220.7 L226.2 220.9 L227.0 221.1 L227.8 221.5 L228.5 221.8 L229.3 222.3 L230.1 222.8 L230.8 223.4 L231.5 224.1 L232.2 224.8 L232.8 225.5 L233.5 226.3 L234.0 227.2 L234.6 228.0 L235.1 229.0 L235.6 229.9 L236.0 230.9 L236.4 232.0 L236.7 233.0 L237.0 234.1 L237.2 235.1 L237.4 236.2 L237.5 237.3 L237.6 238.4 L237.6 239.5 L237.6 240.5 L237.5 241.6 L237.3 242.6 L237.1 243.6 L236.9 244.6 L236.6 245.6 L236.3 246.5 L235.9 247.4 L235.5 248.2 L235.0 249.0 L234.5 249.7 L233.9 250.4 L233.3 251.0 L232.7 251.6 L232.0 252.1 L231.4 252.5Z" fill="#fff" stroke="#151515" stroke-width="1.7" />
<path d="M214.8 224.8 L215.5 224.5 L216.2 224.2 L216.9 223.9 L217.7 223.8 L218.4 223.7 L219.2 223.7 L220.0 223.7 L220.8 223.8 L221.6 224.0 L222.3 224.2 L223.1 224.6 L223.9 224.9 L224.6 225.4 L225.3 225.9 L226.0 226.5 L226.7 227.1 L227.4 227.8 L228.0 228.5 L228.6 229.3 L229.2 230.1 L229.7 231.0 L230.2 231.9 L230.7 232.8 L231.1 233.8 L231.4 234.7 L231.8 235.8 L232.0 236.8 L232.3 237.8 L232.4 238.9 L232.6 239.9 L232.6 241.0 L232.6 242.0 L232.6 243.1 L232.5 244.1 L232.4 245.1 L232.2 246.1 L232.0 247.0 L231.7 248.0 L231.4 248.8 L231.0 249.7 L230.6 250.5 L230.1 251.3 L229.6 252.0 L229.1 252.6 L228.5 253.2 L227.9 253.8 L227.3 254.3 L226.6 254.7" fill="none" stroke="#aaa" stroke-width="0.6" />
<ellipse cx="218.7" cy="240.9" rx="12.1" ry="16.8" transform="rotate(-12.0 218.7 240.9)" fill="#fff" stroke="#444" stroke-width="0.8" />
<ellipse cx="218.7" cy="240.9" rx="10.9" ry="15.1" transform="rotate(-12.0 218.7 240.9)" fill="none" stroke="#a8a8a8" stroke-width="0.6" />
<ellipse cx="218.7" cy="240.9" rx="10.1" ry="14.1" transform="rotate(-12.0 218.7 240.9)" fill="none" stroke="#c0c0c0" stroke-width="0.5" />
<ellipse cx="227.6" cy="241.3" rx="1.2" ry="1.5" transform="rotate(-12.0 227.6 241.3)" fill="none" stroke="#c0c0c0" stroke-width="0.6"/>
<ellipse cx="226.4" cy="248.3" rx="1.2" ry="1.5" transform="rotate(-12.0 226.4 248.3)" fill="none" stroke="#c0c0c0" stroke-width="0.6"/>
<ellipse cx="222.3" cy="252.4" rx="1.2" ry="1.5" transform="rotate(-12.0 222.3 252.4)" fill="none" stroke="#c0c0c0" stroke-width="0.6"/>
<ellipse cx="216.8" cy="252.1" rx="1.2" ry="1.5" transform="rotate(-12.0 216.8 252.1)" fill="none" stroke="#c0c0c0" stroke-width="0.6"/>
<ellipse cx="212.1" cy="247.6" rx="1.2" ry="1.5" transform="rotate(-12.0 212.1 247.6)" fill="none" stroke="#c0c0c0" stroke-width="0.6"/>
<ellipse cx="209.9" cy="240.4" rx="1.2" ry="1.5" transform="rotate(-12.0 209.9 240.4)" fill="none" stroke="#c0c0c0" stroke-width="0.6"/>
<ellipse cx="211.1" cy="233.5" rx="1.2" ry="1.5" transform="rotate(-12.0 211.1 233.5)" fill="none" stroke="#c0c0c0" stroke-width="0.6"/>
<ellipse cx="215.2" cy="229.4" rx="1.2" ry="1.5" transform="rotate(-12.0 215.2 229.4)" fill="none" stroke="#c0c0c0" stroke-width="0.6"/>
<ellipse cx="220.6" cy="229.7" rx="1.2" ry="1.5" transform="rotate(-12.0 220.6 229.7)" fill="none" stroke="#c0c0c0" stroke-width="0.6"/>
<ellipse cx="225.4" cy="234.2" rx="1.2" ry="1.5" transform="rotate(-12.0 225.4 234.2)" fill="none" stroke="#c0c0c0" stroke-width="0.6"/>
<ellipse cx="218.7" cy="240.9" rx="7.2" ry="10.1" transform="rotate(-12.0 218.7 240.9)" fill="none" stroke="#b0b0b0" stroke-width="0.6" />
<ellipse cx="220.0" cy="240.1" rx="6.6" ry="9.1" transform="rotate(-12.0 220.0 240.1)" fill="#fff" stroke="#777" stroke-width="0.6" />
<ellipse cx="220.0" cy="240.1" rx="5.6" ry="7.7" transform="rotate(-12.0 220.0 240.1)" fill="#fff" stroke="#222" stroke-width="0.9" />
<clipPath id="ce4"><ellipse cx="220.0" cy="240.1" rx="5.6" ry="7.7" transform="rotate(-12.0 220.0 240.1)"/></clipPath>
<path d="M229.4 236.7 L229.6 237.7 L229.6 238.7 L229.6 239.7 L229.5 240.6 L229.2 241.6 L228.9 242.4 L228.5 243.2 L228.1 243.8 L227.5 244.4 L226.9 244.9 L226.3 245.2 L225.6 245.4 L224.8 245.5 L224.1 245.5 L223.4 245.3 L222.6 245.0 L221.9 244.6 L221.2 244.0 L220.6 243.4 L220.0 242.6 L219.5 241.8 L219.1 240.9 L218.8 240.0 L218.5 239.0 L218.4 238.0 L218.3 237.0 L218.3 236.1 L218.4 235.1 L218.7 234.2 L219.0 233.4 L219.4 232.6 L219.8 231.9 L220.4 231.3 L221.0 230.9 L221.7 230.5 L222.3 230.3 L223.1 230.2 L223.8 230.3 L224.6 230.5 L225.3 230.8 L226.0 231.2 L226.7 231.7 L227.3 232.4 L227.9 233.1 L228.4 233.9 L228.8 234.8 L229.1 235.7 L229.4 236.7" fill="none" stroke="#777" stroke-width="0.6" clip-path="url(#ce4)"/>
<line x1="216.8" y1="242.0" x2="222.2" y2="238.9" stroke="#666" stroke-width="0.6" />
<line x1="219.1" y1="238.0" x2="221.0" y2="242.3" stroke="#666" stroke-width="0.6" />
</g>
<g id="p26">
<path d="M190.1 264.8 L189.7 264.5 L189.4 264.3 L189.1 264.0 L188.7 263.7 L188.4 263.3 L188.1 263.0 L187.8 262.6 L187.6 262.2 L187.3 261.8 L187.1 261.4 L186.8 261.0 L186.6 260.5 L186.4 260.1 L186.2 259.6 L186.0 259.2 L185.9 258.7 L185.7 258.2 L185.6 257.7 L185.5 257.2 L185.4 256.7 L185.3 256.2 L185.2 255.7 L185.2 255.2 L185.2 254.7 L185.2 254.3 L185.2 253.8 L185.2 253.3 L185.3 252.8 L185.4 252.3 L185.4 251.9 L185.5 251.4 L185.7 251.0 L185.8 250.6 L186.0 250.2 L186.1 249.8 L186.3 249.4 L186.5 249.0 L186.7 248.7 L187.0 248.3 L187.2 248.0 L187.5 247.7 L187.8 247.4 L188.0 247.2 L188.3 246.9 L188.6 246.7 L189.0 246.5 L189.3 246.4 L189.6 246.2 L190.0 246.1 L190.3 246.0 L190.7 245.9 L191.0 245.9 L191.4 245.9 L191.8 245.8 L192.1 245.9 L192.5 245.9 L192.9 246.0 L193.2 246.1 L193.6 246.2 L194.0 246.3 L194.3 246.5 L194.7 246.7 L195.1 246.9 L195.4 247.1 L195.8 247.4 L196.1 247.6 L196.4 247.9 L196.8 248.3 L197.1 248.6 L197.4 248.9 L197.7 249.3 L197.9 249.7 L198.2 250.1 L198.5 250.5 L198.7 250.9 L198.9 251.3 L199.2 251.8 L199.3 252.2 L199.5 252.7 L199.7 253.2 L199.8 253.7 L200.0 254.1 L200.1 254.6 L200.2 255.1 L200.3 255.6 L200.3 256.1 L200.4 256.6 L200.4 257.1 L200.4 257.6 L200.4 258.1 L200.4 258.6 L200.3 259.0 L200.3 259.5 L200.2 260.0 L200.1 260.4 L200.0 260.9 L199.8 261.3 L199.7 261.7 L199.5 262.1 L199.3 262.5 L199.1 262.9 L198.9 263.2 L198.7 263.6 L198.4 263.9 L198.2 264.2 L197.9 264.5 L197.6 264.7 L197.4 265.0 L197.0 265.2 L196.7 265.4 L196.4 265.6 L196.1 265.7 L195.7 265.9 L195.4 266.0 L195.0 266.1 L194.7 266.1 L194.3 266.1 L194.0 266.2 L193.6 266.1 L193.2 266.1" fill="none" stroke="#151515" stroke-width="3.3000000000000003" stroke-linecap="round"/>
<path d="M190.1 264.8 L189.7 264.5 L189.4 264.3 L189.1 264.0 L188.7 263.7 L188.4 263.3 L188.1 263.0 L187.8 262.6 L187.6 262.2 L187.3 261.8 L187.1 261.4 L186.8 261.0 L186.6 260.5 L186.4 260.1 L186.2 259.6 L186.0 259.2 L185.9 258.7 L185.7 258.2 L185.6 257.7 L185.5 257.2 L185.4 256.7 L185.3 256.2 L185.2 255.7 L185.2 255.2 L185.2 254.7 L185.2 254.3 L185.2 253.8 L185.2 253.3 L185.3 252.8 L185.4 252.3 L185.4 251.9 L185.5 251.4 L185.7 251.0 L185.8 250.6 L186.0 250.2 L186.1 249.8 L186.3 249.4 L186.5 249.0 L186.7 248.7 L187.0 248.3 L187.2 248.0 L187.5 247.7 L187.8 247.4 L188.0 247.2 L188.3 246.9 L188.6 246.7 L189.0 246.5 L189.3 246.4 L189.6 246.2 L190.0 246.1 L190.3 246.0 L190.7 245.9 L191.0 245.9 L191.4 245.9 L191.8 245.8 L192.1 245.9 L192.5 245.9 L192.9 246.0 L193.2 246.1 L193.6 246.2 L194.0 246.3 L194.3 246.5 L194.7 246.7 L195.1 246.9 L195.4 247.1 L195.8 247.4 L196.1 247.6 L196.4 247.9 L196.8 248.3 L197.1 248.6 L197.4 248.9 L197.7 249.3 L197.9 249.7 L198.2 250.1 L198.5 250.5 L198.7 250.9 L198.9 251.3 L199.2 251.8 L199.3 252.2 L199.5 252.7 L199.7 253.2 L199.8 253.7 L200.0 254.1 L200.1 254.6 L200.2 255.1 L200.3 255.6 L200.3 256.1 L200.4 256.6 L200.4 257.1 L200.4 257.6 L200.4 258.1 L200.4 258.6 L200.3 259.0 L200.3 259.5 L200.2 260.0 L200.1 260.4 L200.0 260.9 L199.8 261.3 L199.7 261.7 L199.5 262.1 L199.3 262.5 L199.1 262.9 L198.9 263.2 L198.7 263.6 L198.4 263.9 L198.2 264.2 L197.9 264.5 L197.6 264.7 L197.4 265.0 L197.0 265.2 L196.7 265.4 L196.4 265.6 L196.1 265.7 L195.7 265.9 L195.4 266.0 L195.0 266.1 L194.7 266.1 L194.3 266.1 L194.0 266.2 L193.6 266.1 L193.2 266.1" fill="none" stroke="#fff" stroke-width="0.7000000000000002" stroke-linecap="round"/>
<circle cx="190.3" cy="263.5" r="1.1" fill="#fff" stroke="#151515" stroke-width="1.1"/>
<circle cx="193.3" cy="264.7" r="1.1" fill="#fff" stroke="#151515" stroke-width="1.1"/>
</g>
<g id="p12">
<path d="M578.0 198.8 L578.1 199.2 L580.6 199.4 L580.9 200.2 L578.9 201.7 L579.0 202.1 L579.1 202.5 L581.7 203.0 L581.9 203.9 L579.8 205.0 L579.8 205.4 L579.9 205.8 L582.5 206.6 L582.6 207.5 L580.4 208.4 L580.4 208.8 L580.5 209.2 L583.0 210.3 L583.0 211.2 L580.7 211.7 L580.7 212.1 L580.7 212.5 L583.2 213.9 L583.2 214.8 L580.7 215.0 L580.7 215.4 L580.7 215.8 L583.1 217.5 L583.0 218.3 L580.5 218.2 L580.5 218.6 L580.5 218.9 L582.7 220.9 L582.6 221.7 L580.1 221.3 L580.0 221.6 L579.9 222.0 L582.1 224.2 L581.9 225.0 L579.4 224.2 L579.3 224.6 L579.1 224.9 L581.2 227.4 L580.9 228.1 L578.4 227.0 L578.3 227.3 L578.1 227.6 L580.0 230.3 L579.6 231.0 L577.2 229.6 L577.0 229.9 L576.8 230.1 L578.5 233.0 L578.1 233.6 L575.7 231.9 L575.5 232.2 L575.4 232.4 L576.8 235.4 L576.4 235.9 L574.1 234.0 L573.9 234.2 L573.7 234.4 L574.9 237.5 L574.4 238.0 L572.2 235.8 L572.0 236.0 L571.8 236.2 L572.8 239.4 L572.2 239.8 L570.2 237.3 L570.0 237.5 L569.7 237.6 L570.5 240.9 L569.9 241.2 L568.0 238.5 L567.8 238.6 L567.5 238.8 L568.0 242.0 L567.4 242.2 L565.7 239.4 L565.4 239.5 L565.1 239.6 L565.4 242.8 L564.8 242.9 L563.3 240.0 L563.0 240.0 L562.7 240.1 L562.7 243.2 L562.1 243.3 L560.8 240.2 L560.5 240.2 L560.2 240.2 L559.9 243.3 L559.3 243.2 L558.2 240.1 L557.9 240.0 L557.6 240.0 L557.1 243.0 L556.4 242.8 L555.6 239.6 L555.3 239.5 L555.0 239.5 L554.2 242.3 L553.6 242.1 L553.0 238.8 L552.7 238.7 L552.4 238.6 L551.4 241.2 L550.7 240.9 L550.4 237.7 L550.1 237.6 L549.8 237.4 L548.6 239.8 L547.9 239.5 L547.9 236.3 L547.6 236.1 L547.3 235.9 L545.8 238.1 L545.2 237.7 L545.4 234.6 L545.1 234.3 L544.8 234.1 L543.2 236.1 L542.6 235.5 L543.0 232.6 L542.8 232.3 L542.5 232.0 L540.7 233.7 L540.1 233.1 L540.8 230.3 L540.5 230.0 L540.3 229.7 L538.3 231.1 L537.7 230.5 L538.7 227.8 L538.4 227.5 L538.2 227.1 L536.1 228.3 L535.6 227.5 L536.8 225.1 L536.5 224.7 L536.3 224.4 L534.1 225.2 L533.6 224.4 L535.0 222.2 L534.8 221.8 L534.6 221.4 L532.3 221.9 L531.9 221.1 L533.5 219.1 L533.3 218.7 L533.1 218.4 L530.7 218.5 L530.3 217.7 L532.1 215.9 L532.0 215.5 L531.9 215.2 L529.4 215.0 L529.1 214.1 L531.1 212.7 L530.9 212.3 L530.8 211.9 L528.3 211.4 L528.1 210.5 L530.2 209.4 L530.1 209.0 L530.1 208.5 L527.5 207.7 L527.4 206.8 L529.6 206.0 L529.6 205.6 L529.5 205.2 L527.0 204.1 L526.9 203.2 L529.3 202.7 L529.3 202.3 L529.3 201.9 L526.8 200.4 L526.8 199.6 L529.2 199.4 L529.2 199.0 L529.3 198.6 L526.9 196.9 L526.9 196.1 L529.4 196.2 L529.5 195.8 L529.5 195.4 L527.3 193.4 L527.4 192.6 L529.9 193.1 L530.0 192.7 L530.1 192.4 L527.9 190.1 L528.1 189.4 L530.6 190.1 L530.7 189.8 L530.8 189.5 L528.8 187.0 L529.1 186.3 L531.6 187.4 L531.7 187.1 L531.9 186.7 L530.0 184.1 L530.3 183.4 L532.8 184.8 L533.0 184.5 L533.1 184.2 L531.5 181.4 L531.9 180.8 L534.2 182.5 L534.4 182.2 L534.6 181.9 L533.2 179.0 L533.6 178.4 L535.9 180.4 L536.1 180.1 L536.3 179.9 L535.1 176.8 L535.6 176.4 L537.7 178.6 L538.0 178.4 L538.2 178.2 L537.2 175.0 L537.7 174.6 L539.8 177.0 L540.0 176.9 L540.3 176.7 L539.5 173.5 L540.1 173.2 L541.9 175.8 L542.2 175.7 L542.5 175.6 L542.0 172.4 L542.6 172.1 L544.3 175.0 L544.5 174.9 L544.8 174.8 L544.6 171.6 L545.2 171.4 L546.7 174.4 L547.0 174.4 L547.3 174.3 L547.3 171.1 L547.9 171.1 L549.2 174.2 L549.5 174.2 L549.8 174.2 L550.0 171.1 L550.7 171.1 L551.8 174.3 L552.1 174.3 L552.4 174.4 L552.9 171.4 L553.6 171.5 L554.4 174.8 L554.7 174.8 L555.0 174.9 L555.7 172.1 L556.4 172.3 L557.0 175.5 L557.3 175.7 L557.6 175.8 L558.6 173.1 L559.3 173.4 L559.6 176.7 L559.9 176.8 L560.2 177.0 L561.4 174.5 L562.1 174.9 L562.1 178.1 L562.4 178.3 L562.7 178.5 L564.1 176.2 L564.8 176.7 L564.6 179.8 L564.9 180.0 L565.2 180.3 L566.8 178.3 L567.4 178.8 L566.9 181.8 L567.2 182.1 L567.5 182.3 L569.3 180.6 L569.9 181.2 L569.2 184.1 L569.5 184.4 L569.7 184.7 L571.7 183.2 L572.2 183.9 L571.3 186.6 L571.5 186.9 L571.8 187.2 L573.9 186.1 L574.4 186.8 L573.2 189.3 L573.4 189.6 L573.7 190.0 L575.9 189.2 L576.4 189.9 L575.0 192.2 L575.2 192.6 L575.4 192.9 L577.7 192.4 L578.1 193.2 L576.5 195.3 L576.7 195.6 L576.9 196.0 L579.3 195.9 L579.6 196.7 L577.8 198.4Z" fill="#fff" stroke="#151515" stroke-width="1.2" />
<path d="M556.5 245.2 L555.1 246.0 L553.6 246.6 L552.1 247.1 L550.5 247.4 L548.9 247.6 L547.3 247.6 L545.6 247.5 L543.9 247.3 L542.2 246.9 L540.6 246.4 L538.9 245.8 L537.2 245.0 L535.6 244.1 L534.0 243.0 L532.4 241.9 L530.8 240.6 L529.3 239.2 L527.9 237.7 L526.5 236.1 L525.2 234.4 L524.0 232.7 L522.8 230.8 L521.8 228.9 L520.8 226.9 L519.9 224.9 L519.1 222.8 L518.4 220.7 L517.8 218.6 L517.3 216.4 L516.9 214.3 L516.6 212.1 L516.4 210.0 L516.3 207.9 L516.4 205.8 L516.6 203.7 L516.8 201.7 L517.2 199.7 L517.7 197.8 L518.3 196.0 L518.9 194.3 L519.7 192.6 L520.6 191.0 L521.6 189.6 L522.7 188.2 L523.8 187.0 L525.0 185.9 L526.3 184.9 L527.7 184.0 L540.6 176.6 L542.0 175.8 L543.5 175.2 L545.0 174.7 L546.6 174.4 L548.2 174.2 L549.8 174.2 L551.5 174.3 L553.2 174.5 L554.9 174.9 L556.5 175.4 L558.2 176.0 L559.9 176.8 L561.5 177.7 L563.1 178.8 L564.7 179.9 L566.3 181.2 L567.8 182.6 L569.2 184.1 L570.6 185.7 L571.9 187.4 L573.1 189.1 L574.3 191.0 L575.3 192.9 L576.3 194.9 L577.2 196.9 L578.0 199.0 L578.7 201.1 L579.3 203.2 L579.8 205.4 L580.2 207.5 L580.5 209.7 L580.7 211.8 L580.8 213.9 L580.7 216.0 L580.5 218.1 L580.3 220.1 L579.9 222.1 L579.4 224.0 L578.8 225.8 L578.2 227.5 L577.4 229.2 L576.5 230.8 L575.5 232.2 L574.4 233.6 L573.3 234.8 L572.1 235.9 L570.8 236.9 L569.4 237.8Z" fill="#1a1a1a" stroke="none" stroke-width="0" />
<path d="M567.5 206.2 L568.2 208.3 L581.1 200.9 L580.4 198.8Z" fill="#fff" stroke="none" stroke-width="0" />
<path d="M568.6 209.8 L569.2 212.0 L582.0 204.5 L581.5 202.4Z" fill="#fff" stroke="none" stroke-width="0" />
<path d="M569.5 213.5 L569.8 215.6 L582.7 208.2 L582.3 206.1Z" fill="#fff" stroke="none" stroke-width="0" />
<path d="M570.0 217.1 L570.2 219.3 L583.1 211.8 L582.9 209.7Z" fill="#fff" stroke="none" stroke-width="0" />
<path d="M570.3 220.8 L570.3 222.9 L583.2 215.4 L583.2 213.3Z" fill="#fff" stroke="none" stroke-width="0" />
<path d="M570.2 224.3 L570.1 226.4 L583.0 218.9 L583.1 216.9Z" fill="#fff" stroke="none" stroke-width="0" />
<path d="M569.9 227.8 L569.6 229.8 L582.5 222.3 L582.8 220.4Z" fill="#fff" stroke="none" stroke-width="0" />
<path d="M569.3 231.1 L568.8 233.0 L581.7 225.6 L582.2 223.7Z" fill="#fff" stroke="none" stroke-width="0" />
<path d="M568.4 234.3 L567.8 236.1 L580.7 228.6 L581.3 226.9Z" fill="#fff" stroke="none" stroke-width="0" />
<path d="M567.3 237.3 L566.5 238.9 L579.4 231.5 L580.2 229.8Z" fill="#fff" stroke="none" stroke-width="0" />
<path d="M565.9 240.0 L564.9 241.5 L577.8 234.0 L578.8 232.6Z" fill="#fff" stroke="none" stroke-width="0" />
<path d="M564.2 242.5 L563.2 243.8 L576.0 236.3 L577.1 235.0Z" fill="#fff" stroke="none" stroke-width="0" />
<path d="M562.3 244.7 L561.2 245.8 L574.0 238.3 L575.2 237.2Z" fill="#fff" stroke="none" stroke-width="0" />
<path d="M560.2 246.5 L559.0 247.5 L571.8 240.0 L573.1 239.1Z" fill="#fff" stroke="none" stroke-width="0" />
<path d="M526.2 181.2 L527.6 180.4 L540.5 173.0 L539.1 173.7Z" fill="#fff" stroke="none" stroke-width="0" />
<path d="M528.7 180.0 L530.2 179.4 L543.0 172.0 L541.6 172.5Z" fill="#fff" stroke="none" stroke-width="0" />
<path d="M531.3 179.1 L532.8 178.8 L545.7 171.3 L544.1 171.7Z" fill="#fff" stroke="none" stroke-width="0" />
<path d="M533.9 178.6 L535.5 178.5 L548.4 171.1 L546.8 171.2Z" fill="#fff" stroke="none" stroke-width="0" />
<path d="M536.7 178.5 L538.4 178.6 L551.2 171.2 L549.6 171.1Z" fill="#fff" stroke="none" stroke-width="0" />
<path d="M539.5 178.8 L541.2 179.1 L554.1 171.6 L552.4 171.3Z" fill="#fff" stroke="none" stroke-width="0" />
<path d="M542.4 179.4 L544.1 179.9 L556.9 172.5 L555.3 172.0Z" fill="#fff" stroke="none" stroke-width="0" />
<path d="M545.2 180.4 L546.9 181.1 L559.8 173.7 L558.1 172.9Z" fill="#fff" stroke="none" stroke-width="0" />
<path d="M548.1 181.7 L549.7 182.6 L562.6 175.2 L560.9 174.3Z" fill="#fff" stroke="none" stroke-width="0" />
<path d="M550.8 183.4 L552.4 184.5 L565.3 177.1 L563.7 175.9Z" fill="#fff" stroke="none" stroke-width="0" />
<path d="M553.5 185.4 L555.0 186.7 L567.9 179.2 L566.4 177.9Z" fill="#fff" stroke="none" stroke-width="0" />
<path d="M556.0 187.7 L557.5 189.1 L570.3 181.7 L568.9 180.2Z" fill="#fff" stroke="none" stroke-width="0" />
<path d="M558.4 190.2 L559.8 191.9 L572.7 184.4 L571.3 182.8Z" fill="#fff" stroke="none" stroke-width="0" />
<path d="M560.7 193.1 L561.9 194.8 L574.8 187.4 L573.6 185.6Z" fill="#fff" stroke="none" stroke-width="0" />
<path d="M562.7 196.1 L563.8 198.0 L576.7 190.5 L575.6 188.7Z" fill="#fff" stroke="none" stroke-width="0" />
<path d="M564.6 199.3 L565.5 201.3 L578.4 193.9 L577.5 191.9Z" fill="#fff" stroke="none" stroke-width="0" />
<path d="M566.2 202.7 L567.0 204.8 L579.9 197.3 L579.1 195.3Z" fill="#fff" stroke="none" stroke-width="0" />
<path d="M578.0 198.8 L578.1 199.2 L580.6 199.4 L580.9 200.2 L578.9 201.7 L579.0 202.1 L579.0 202.1 L579.1 202.5 L581.7 203.0 L581.9 203.9 L579.8 205.0 L579.8 205.4 L579.8 205.4 L579.9 205.8 L582.5 206.6 L582.6 207.5 L580.4 208.4 L580.4 208.8 L580.4 208.8 L580.5 209.2 L583.0 210.3 L583.0 211.2 L580.7 211.7 L580.7 212.1 L580.7 212.1 L580.7 212.5 L583.2 213.9 L583.2 214.8 L580.7 215.0 L580.7 215.4 L580.7 215.4 L580.7 215.8 L583.1 217.5 L583.0 218.3 L580.5 218.2 L580.5 218.6 L580.5 218.6 L580.5 218.9 L582.7 220.9 L582.6 221.7 L580.1 221.3 L580.0 221.6 L580.0 221.6 L579.9 222.0 L582.1 224.2 L581.9 225.0 L579.4 224.2 L579.3 224.6 L579.3 224.6 L579.1 224.9 L581.2 227.4 L580.9 228.1 L578.4 227.0 L578.3 227.3 L578.3 227.3 L578.1 227.6 L580.0 230.3 L579.6 231.0 L577.2 229.6 L577.0 229.9 L577.0 229.9 L576.8 230.1 L578.5 233.0 L578.1 233.6 L575.7 231.9 L575.5 232.2 L575.5 232.2 L575.4 232.4 L576.8 235.4 L576.4 235.9 L574.1 234.0 L573.9 234.2 L573.9 234.2 L573.7 234.4 L574.9 237.5 L574.4 238.0 L572.2 235.8 L572.0 236.0 L572.0 236.0 L571.8 236.2 L572.8 239.4 L572.2 239.8 L570.2 237.3 L570.0 237.5 L570.0 237.5 L569.7 237.6 L570.5 240.9 L569.9 241.2 L568.0 238.5 L567.8 238.6" fill="none" stroke="#151515" stroke-width="0.96" stroke-linejoin="round"/>
<path d="M540.0 176.9 L540.3 176.7 L539.5 173.5 L540.1 173.2 L541.9 175.8 L542.2 175.7 L542.2 175.7 L542.5 175.6 L542.0 172.4 L542.6 172.1 L544.3 175.0 L544.5 174.9 L544.5 174.9 L544.8 174.8 L544.6 171.6 L545.2 171.4 L546.7 174.4 L547.0 174.4 L547.0 174.4 L547.3 174.3 L547.3 171.1 L547.9 171.1 L549.2 174.2 L549.5 174.2 L549.5 174.2 L549.8 174.2 L550.0 171.1 L550.7 171.1 L551.8 174.3 L552.1 174.3 L552.1 174.3 L552.4 174.4 L552.9 171.4 L553.6 171.5 L554.4 174.8 L554.7 174.8 L554.7 174.8 L555.0 174.9 L555.7 172.1 L556.4 172.3 L557.0 175.5 L557.3 175.7 L557.3 175.7 L557.6 175.8 L558.6 173.1 L559.3 173.4 L559.6 176.7 L559.9 176.8 L559.9 176.8 L560.2 177.0 L561.4 174.5 L562.1 174.9 L562.1 178.1 L562.4 178.3 L562.4 178.3 L562.7 178.5 L564.1 176.2 L564.8 176.7 L564.6 179.8 L564.9 180.0 L564.9 180.0 L565.2 180.3 L566.8 178.3 L567.4 178.8 L566.9 181.8 L567.2 182.1 L567.2 182.1 L567.5 182.3 L569.3 180.6 L569.9 181.2 L569.2 184.1 L569.5 184.4 L569.5 184.4 L569.7 184.7 L571.7 183.2 L572.2 183.9 L571.3 186.6 L571.5 186.9 L571.5 186.9 L571.8 187.2 L573.9 186.1 L574.4 186.8 L573.2 189.3 L573.4 189.6 L573.4 189.6 L573.7 190.0 L575.9 189.2 L576.4 189.9 L575.0 192.2 L575.2 192.6 L575.2 192.6 L575.4 192.9 L577.7 192.4 L578.1 193.2 L576.5 195.3 L576.7 195.6 L576.7 195.6 L576.9 196.0 L579.3 195.9 L579.6 196.7 L577.8 198.4 L578.0 198.8 L578.0 198.8 L578.1 199.2 L580.6 199.4 L580.9 200.2 L578.9 201.7 L579.0 202.1" fill="none" stroke="#151515" stroke-width="0.96" stroke-linejoin="round"/>
<line x1="526.3" y1="181.1" x2="539.2" y2="173.7" stroke="#151515" stroke-width="0.96" />
<line x1="557.9" y1="248.1" x2="570.8" y2="240.7" stroke="#151515" stroke-width="0.96" />
<path d="M565.1 206.3 L565.2 206.6 L567.7 206.8 L568.0 207.7 L566.0 209.1 L566.2 209.5 L566.3 209.9 L568.8 210.4 L569.0 211.3 L566.9 212.4 L567.0 212.8 L567.0 213.3 L569.6 214.1 L569.7 215.0 L567.5 215.8 L567.5 216.2 L567.6 216.6 L570.1 217.7 L570.2 218.6 L567.8 219.1 L567.8 219.5 L567.8 219.9 L570.3 221.4 L570.3 222.2 L567.9 222.4 L567.9 222.8 L567.8 223.2 L570.2 224.9 L570.2 225.7 L567.7 225.6 L567.6 226.0 L567.6 226.4 L569.8 228.4 L569.7 229.2 L567.2 228.7 L567.1 229.1 L567.0 229.4 L569.2 231.7 L569.0 232.4 L566.5 231.7 L566.4 232.0 L566.3 232.3 L568.3 234.8 L568.0 235.5 L565.5 234.4 L565.4 234.7 L565.2 235.1 L567.1 237.7 L566.8 238.4 L564.3 237.0 L564.1 237.3 L564.0 237.6 L565.6 240.4 L565.2 241.0 L562.9 239.3 L562.7 239.6 L562.5 239.9 L563.9 242.8 L563.5 243.4 L561.2 241.4 L561.0 241.7 L560.8 241.9 L562.0 245.0 L561.5 245.4 L559.4 243.2 L559.1 243.4 L558.9 243.6 L559.9 246.8 L559.4 247.2 L557.3 244.8 L557.1 244.9 L556.8 245.1 L557.6 248.3 L557.0 248.6 L555.2 246.0 L554.9 246.1 L554.6 246.2 L555.1 249.4 L554.5 249.7 L552.8 246.8 L552.6 246.9 L552.3 247.0 L552.5 250.2 L551.9 250.4 L550.4 247.4 L550.1 247.4 L549.8 247.5 L549.8 250.7 L549.2 250.7 L547.9 247.6 L547.6 247.6 L547.3 247.6 L547.1 250.7 L546.4 250.7 L545.3 247.5 L545.0 247.5 L544.7 247.4 L544.2 250.4 L543.5 250.3 L542.7 247.0 L542.4 247.0 L542.1 246.9 L541.4 249.7 L540.7 249.5 L540.1 246.3 L539.8 246.1 L539.5 246.0 L538.5 248.7 L537.8 248.4 L537.5 245.1 L537.2 245.0 L536.9 244.8 L535.7 247.3 L535.0 246.9 L535.0 243.7 L534.7 243.5 L534.4 243.3 L533.0 245.6 L532.3 245.1 L532.5 242.0 L532.2 241.8 L531.9 241.5 L530.3 243.5 L529.7 243.0 L530.2 240.0 L529.9 239.7 L529.6 239.5 L527.8 241.2 L527.2 240.6 L527.9 237.7 L527.6 237.4 L527.4 237.1 L525.4 238.6 L524.9 237.9 L525.8 235.2 L525.6 234.9 L525.3 234.6 L523.2 235.7 L522.7 235.0 L523.9 232.5 L523.7 232.2 L523.4 231.8 L521.2 232.6 L520.7 231.9 L522.1 229.6 L521.9 229.2 L521.7 228.9 L519.4 229.4 L519.0 228.6 L520.6 226.5 L520.4 226.2 L520.2 225.8 L517.8 225.9 L517.5 225.1 L519.3 223.4 L519.1 223.0 L519.0 222.6 L516.5 222.4 L516.2 221.6 L518.2 220.1 L518.1 219.7 L518.0 219.3 L515.4 218.8 L515.2 217.9 L517.3 216.8 L517.3 216.4 L517.2 216.0 L514.6 215.2 L514.5 214.3 L516.7 213.4 L516.7 213.0 L516.6 212.6 L514.1 211.5 L514.1 210.6 L516.4 210.1 L516.4 209.7 L516.4 209.3 L513.9 207.9 L513.9 207.0 L516.4 206.8 L516.4 206.4 L516.4 206.0 L514.0 204.3 L514.1 203.5 L516.6 203.6 L516.6 203.2 L516.6 202.9 L514.4 200.9 L514.5 200.1 L517.0 200.5 L517.1 200.2 L517.2 199.8 L515.0 197.6 L515.2 196.8 L517.7 197.6 L517.8 197.2 L518.0 196.9 L515.9 194.4 L516.2 193.7 L518.7 194.8 L518.8 194.5 L519.0 194.2 L517.1 191.5 L517.5 190.8 L519.9 192.2 L520.1 191.9 L520.3 191.7 L518.6 188.8 L519.0 188.2 L521.4 189.9 L521.6 189.6 L521.7 189.4 L520.3 186.4 L520.7 185.9 L523.0 187.8 L523.2 187.6 L523.4 187.4 L522.2 184.3 L522.7 183.8 L524.9 186.0 L525.1 185.8 L525.3 185.6 L524.3 182.4 L524.9 182.0 L526.9 184.5 L527.1 184.3 L527.4 184.2 L526.6 180.9 L527.2 180.6 L529.1 183.3 L529.3 183.2 L529.6 183.0 L529.1 179.8 L529.7 179.6 L531.4 182.4 L531.7 182.3 L532.0 182.2 L531.7 179.0 L532.3 178.9 L533.8 181.8 L534.1 181.8 L534.4 181.7 L534.4 178.6 L535.0 178.5 L536.3 181.6 L536.6 181.6 L536.9 181.6 L537.2 178.5 L537.8 178.6 L538.9 181.7 L539.2 181.8 L539.5 181.8 L540.0 178.8 L540.7 179.0 L541.5 182.2 L541.8 182.3 L542.1 182.3 L542.9 179.5 L543.5 179.7 L544.1 183.0 L544.4 183.1 L544.7 183.2 L545.7 180.6 L546.4 180.9 L546.7 184.1 L547.0 184.2 L547.3 184.4 L548.5 182.0 L549.2 182.3 L549.2 185.5 L549.5 185.7 L549.8 185.9 L551.3 183.7 L551.9 184.1 L551.7 187.2 L552.0 187.5 L552.3 187.7 L553.9 185.7 L554.5 186.3 L554.1 189.2 L554.3 189.5 L554.6 189.8 L556.4 188.1 L557.0 188.7 L556.3 191.5 L556.6 191.8 L556.8 192.1 L558.8 190.7 L559.4 191.3 L558.4 194.0 L558.7 194.3 L558.9 194.7 L561.0 193.5 L561.5 194.3 L560.3 196.7 L560.6 197.1 L560.8 197.4 L563.0 196.6 L563.5 197.4 L562.1 199.6 L562.3 200.0 L562.5 200.4 L564.8 199.9 L565.2 200.7 L563.6 202.7 L563.8 203.1 L564.0 203.4 L566.4 203.3 L566.8 204.1 L565.0 205.9Z" fill="#fff" stroke="none" stroke-width="0" />
<path d="M565.1 206.3 L565.2 206.6 L567.7 206.8 L568.0 207.7 L566.0 209.1 L566.2 209.5 L566.3 209.9 L568.8 210.4 L569.0 211.3 L566.9 212.4 L567.0 212.8 L567.0 213.3 L569.6 214.1 L569.7 215.0 L567.5 215.8 L567.5 216.2 L567.6 216.6 L570.1 217.7 L570.2 218.6 L567.8 219.1 L567.8 219.5 L567.8 219.9 L570.3 221.4 L570.3 222.2 L567.9 222.4 L567.9 222.8 L567.8 223.2 L570.2 224.9 L570.2 225.7 L567.7 225.6 L567.6 226.0 L567.6 226.4 L569.8 228.4 L569.7 229.2 L567.2 228.7 L567.1 229.1 L567.0 229.4 L569.2 231.7 L569.0 232.4 L566.5 231.7 L566.4 232.0 L566.3 232.3 L568.3 234.8 L568.0 235.5 L565.5 234.4 L565.4 234.7 L565.2 235.1 L567.1 237.7 L566.8 238.4 L564.3 237.0 L564.1 237.3 L564.0 237.6 L565.6 240.4 L565.2 241.0 L562.9 239.3 L562.7 239.6 L562.5 239.9 L563.9 242.8 L563.5 243.4 L561.2 241.4 L561.0 241.7 L560.8 241.9 L562.0 245.0 L561.5 245.4 L559.4 243.2 L559.1 243.4 L558.9 243.6 L559.9 246.8 L559.4 247.2 L557.3 244.8 L557.1 244.9" fill="none" stroke="#333" stroke-width="0.7" stroke-linejoin="round"/>
<path d="M557.1 244.9 L556.8 245.1 L557.6 248.3 L557.0 248.6 L555.2 246.0 L554.9 246.1 L554.6 246.2 L555.1 249.4 L554.5 249.7 L552.8 246.8 L552.6 246.9 L552.3 247.0 L552.5 250.2 L551.9 250.4 L550.4 247.4 L550.1 247.4 L549.8 247.5 L549.8 250.7 L549.2 250.7 L547.9 247.6 L547.6 247.6 L547.3 247.6 L547.1 250.7 L546.4 250.7 L545.3 247.5 L545.0 247.5 L544.7 247.4 L544.2 250.4 L543.5 250.3 L542.7 247.0 L542.4 247.0 L542.1 246.9 L541.4 249.7 L540.7 249.5 L540.1 246.3 L539.8 246.1 L539.5 246.0 L538.5 248.7 L537.8 248.4 L537.5 245.1 L537.2 245.0 L536.9 244.8 L535.7 247.3 L535.0 246.9 L535.0 243.7 L534.7 243.5 L534.4 243.3 L533.0 245.6 L532.3 245.1 L532.5 242.0 L532.2 241.8 L531.9 241.5 L530.3 243.5 L529.7 243.0 L530.2 240.0 L529.9 239.7 L529.6 239.5 L527.8 241.2 L527.2 240.6 L527.9 237.7 L527.6 237.4 L527.4 237.1 L525.4 238.6 L524.9 237.9 L525.8 235.2 L525.6 234.9 L525.3 234.6 L523.2 235.7 L522.7 235.0 L523.9 232.5 L523.7 232.2 L523.4 231.8 L521.2 232.6 L520.7 231.9 L522.1 229.6 L521.9 229.2 L521.7 228.9 L519.4 229.4 L519.0 228.6 L520.6 226.5 L520.4 226.2 L520.2 225.8 L517.8 225.9 L517.5 225.1 L519.3 223.4 L519.1 223.0 L519.0 222.6 L516.5 222.4 L516.2 221.6 L518.2 220.1 L518.1 219.7 L518.0 219.3 L515.4 218.8 L515.2 217.9 L517.3 216.8 L517.3 216.4 L517.2 216.0 L514.6 215.2 L514.5 214.3 L516.7 213.4 L516.7 213.0 L516.6 212.6 L514.1 211.5 L514.1 210.6 L516.4 210.1 L516.4 209.7 L516.4 209.3 L513.9 207.9 L513.9 207.0 L516.4 206.8 L516.4 206.4 L516.4 206.0 L514.0 204.3 L514.1 203.5 L516.6 203.6 L516.6 203.2 L516.6 202.9 L514.4 200.9 L514.5 200.1 L517.0 200.5 L517.1 200.2 L517.2 199.8 L515.0 197.6 L515.2 196.8 L517.7 197.6 L517.8 197.2 L518.0 196.9 L515.9 194.4 L516.2 193.7 L518.7 194.8 L518.8 194.5 L519.0 194.2 L517.1 191.5 L517.5 190.8 L519.9 192.2 L520.1 191.9 L520.3 191.7 L518.6 188.8 L519.0 188.2 L521.4 189.9 L521.6 189.6 L521.7 189.4 L520.3 186.4 L520.7 185.9 L523.0 187.8 L523.2 187.6 L523.4 187.4 L522.2 184.3 L522.7 183.8 L524.9 186.0 L525.1 185.8 L525.3 185.6 L524.3 182.4 L524.9 182.0 L526.9 184.5 L527.1 184.3" fill="none" stroke="#151515" stroke-width="1.2" stroke-linejoin="round"/>
<path d="M527.1 184.3 L527.4 184.2 L526.6 180.9 L527.2 180.6 L529.1 183.3 L529.3 183.2 L529.6 183.0 L529.1 179.8 L529.7 179.6 L531.4 182.4 L531.7 182.3 L532.0 182.2 L531.7 179.0 L532.3 178.9 L533.8 181.8 L534.1 181.8 L534.4 181.7 L534.4 178.6 L535.0 178.5 L536.3 181.6 L536.6 181.6 L536.9 181.6 L537.2 178.5 L537.8 178.6 L538.9 181.7 L539.2 181.8 L539.5 181.8 L540.0 178.8 L540.7 179.0 L541.5 182.2 L541.8 182.3 L542.1 182.3 L542.9 179.5 L543.5 179.7 L544.1 183.0 L544.4 183.1 L544.7 183.2 L545.7 180.6 L546.4 180.9 L546.7 184.1 L547.0 184.2 L547.3 184.4 L548.5 182.0 L549.2 182.3 L549.2 185.5 L549.5 185.7 L549.8 185.9 L551.3 183.7 L551.9 184.1 L551.7 187.2 L552.0 187.5 L552.3 187.7 L553.9 185.7 L554.5 186.3 L554.1 189.2 L554.3 189.5 L554.6 189.8 L556.4 188.1 L557.0 188.7 L556.3 191.5 L556.6 191.8 L556.8 192.1 L558.8 190.7 L559.4 191.3 L558.4 194.0 L558.7 194.3 L558.9 194.7 L561.0 193.5 L561.5 194.3 L560.3 196.7 L560.6 197.1 L560.8 197.4 L563.0 196.6 L563.5 197.4 L562.1 199.6 L562.3 200.0 L562.5 200.4 L564.8 199.9 L565.2 200.7 L563.6 202.7 L563.8 203.1 L564.0 203.4 L566.4 203.3 L566.8 204.1 L565.0 205.9 L565.1 206.3" fill="none" stroke="#333" stroke-width="0.7" stroke-linejoin="round"/>
<ellipse cx="542.1" cy="214.6" rx="22.5" ry="31.2" transform="rotate(-20 542.1 214.6)" fill="none" stroke="#8a8a8a" stroke-width="0.6" />
<ellipse cx="542.1" cy="214.6" rx="20.3" ry="28.3" transform="rotate(-20 542.1 214.6)" fill="none" stroke="#8a8a8a" stroke-width="0.6" />
<ellipse cx="542.1" cy="214.6" rx="16.1" ry="22.3" transform="rotate(-20 542.1 214.6)" fill="none" stroke="#777" stroke-width="0.7" />
<ellipse cx="542.1" cy="214.6" rx="14.5" ry="20.1" transform="rotate(-20 542.1 214.6)" fill="none" stroke="#999" stroke-width="0.6" />
<ellipse cx="542.1" cy="214.6" rx="13.4" ry="18.6" transform="rotate(-20 542.1 214.6)" fill="#e4e4e4" stroke="#222" stroke-width="1.0" />
<clipPath id="ce5"><ellipse cx="542.1" cy="214.6" rx="13.4" ry="18.6" transform="rotate(-20 542.1 214.6)"/></clipPath>
<ellipse cx="555.0" cy="207.2" rx="13.4" ry="18.6" transform="rotate(-20 555.0 207.2)" fill="#fff" stroke="#222" stroke-width="1.1" clip-path="url(#ce5)"/>
<ellipse cx="547.9" cy="211.3" rx="13.4" ry="18.6" transform="rotate(-20 547.9 211.3)" fill="none" stroke="#666" stroke-width="0.7" clip-path="url(#ce5)"/>
<ellipse cx="547.9" cy="211.3" rx="12.4" ry="17.3" transform="rotate(-20 547.9 211.3)" fill="none" stroke="#999" stroke-width="0.6" clip-path="url(#ce5)"/>
<line x1="537.4" y1="217.3" x2="545.2" y2="212.8" stroke="#666" stroke-width="0.6" />
<line x1="540.8" y1="211.5" x2="543.5" y2="217.8" stroke="#666" stroke-width="0.6" />
</g>
<g id="p10r">
<path d="M508.4 257.2 L507.6 257.7 L506.6 258.0 L505.7 258.3 L504.7 258.6 L503.7 258.7 L502.7 258.8 L501.7 258.8 L500.7 258.7 L499.6 258.5 L498.6 258.2 L497.6 257.9 L496.5 257.5 L495.5 257.0 L494.5 256.4 L493.6 255.8 L492.6 255.1 L491.7 254.3 L490.8 253.5 L490.0 252.6 L489.1 251.6 L488.4 250.6 L487.7 249.6 L487.0 248.5 L486.4 247.4 L485.8 246.2 L485.3 245.0 L484.9 243.8 L484.5 242.6 L484.2 241.4 L484.0 240.1 L483.8 238.9 L483.7 237.7 L483.6 236.4 L483.7 235.2 L483.8 234.0 L483.9 232.8 L484.1 231.7 L484.4 230.6 L484.8 229.5 L485.2 228.5 L485.7 227.5 L486.2 226.6 L486.8 225.7 L487.5 224.9 L488.2 224.2 L488.9 223.5 L489.7 222.9 L490.6 222.4 L492.7 221.1 L493.6 220.7 L494.5 220.3 L495.5 220.0 L496.4 219.8 L497.4 219.6 L498.4 219.6 L499.5 219.6 L500.5 219.7 L501.5 219.9 L502.6 220.1 L503.6 220.5 L504.6 220.9 L505.6 221.4 L506.6 221.9 L507.6 222.6 L508.6 223.3 L509.5 224.1 L510.4 224.9 L511.2 225.8 L512.0 226.7 L512.8 227.7 L513.5 228.8 L514.2 229.9 L514.8 231.0 L515.3 232.1 L515.8 233.3 L516.3 234.5 L516.6 235.7 L517.0 237.0 L517.2 238.2 L517.4 239.5 L517.5 240.7 L517.5 241.9 L517.5 243.1 L517.4 244.3 L517.3 245.5 L517.0 246.6 L516.7 247.8 L516.4 248.8 L516.0 249.8 L515.5 250.8 L514.9 251.7 L514.3 252.6 L513.7 253.4 L513.0 254.1 L512.2 254.8 L511.4 255.4 L510.6 256.0Z" fill="#fff" stroke="#151515" stroke-width="1.6" />
<ellipse cx="499.5" cy="239.8" rx="15.1" ry="19.6" transform="rotate(-23 499.5 239.8)" fill="#fff" stroke="#151515" stroke-width="1.0" />
<ellipse cx="499.5" cy="239.8" rx="14.0" ry="18.2" transform="rotate(-23 499.5 239.8)" fill="none" stroke="#999" stroke-width="0.6" />
<ellipse cx="511.4" cy="237.4" rx="1.2" ry="1.5" transform="rotate(-23 511.4 237.4)" fill="none" stroke="#b8b8b8" stroke-width="0.6"/>
<ellipse cx="512.0" cy="245.2" rx="1.2" ry="1.5" transform="rotate(-23 512.0 245.2)" fill="none" stroke="#b8b8b8" stroke-width="0.6"/>
<ellipse cx="509.2" cy="251.6" rx="1.2" ry="1.5" transform="rotate(-23 509.2 251.6)" fill="none" stroke="#b8b8b8" stroke-width="0.6"/>
<ellipse cx="503.8" cy="254.8" rx="1.2" ry="1.5" transform="rotate(-23 503.8 254.8)" fill="none" stroke="#b8b8b8" stroke-width="0.6"/>
<ellipse cx="497.3" cy="254.0" rx="1.2" ry="1.5" transform="rotate(-23 497.3 254.0)" fill="none" stroke="#b8b8b8" stroke-width="0.6"/>
<ellipse cx="491.3" cy="249.4" rx="1.2" ry="1.5" transform="rotate(-23 491.3 249.4)" fill="none" stroke="#b8b8b8" stroke-width="0.6"/>
<ellipse cx="487.6" cy="242.2" rx="1.2" ry="1.5" transform="rotate(-23 487.6 242.2)" fill="none" stroke="#b8b8b8" stroke-width="0.6"/>
<ellipse cx="487.0" cy="234.4" rx="1.2" ry="1.5" transform="rotate(-23 487.0 234.4)" fill="none" stroke="#b8b8b8" stroke-width="0.6"/>
<ellipse cx="489.8" cy="228.0" rx="1.2" ry="1.5" transform="rotate(-23 489.8 228.0)" fill="none" stroke="#b8b8b8" stroke-width="0.6"/>
<ellipse cx="495.2" cy="224.8" rx="1.2" ry="1.5" transform="rotate(-23 495.2 224.8)" fill="none" stroke="#b8b8b8" stroke-width="0.6"/>
<ellipse cx="501.7" cy="225.6" rx="1.2" ry="1.5" transform="rotate(-23 501.7 225.6)" fill="none" stroke="#b8b8b8" stroke-width="0.6"/>
<ellipse cx="507.7" cy="230.2" rx="1.2" ry="1.5" transform="rotate(-23 507.7 230.2)" fill="none" stroke="#b8b8b8" stroke-width="0.6"/>
<ellipse cx="499.5" cy="239.8" rx="10.6" ry="13.7" transform="rotate(-23 499.5 239.8)" fill="none" stroke="#999" stroke-width="0.6" />
<ellipse cx="498.8" cy="240.2" rx="9.4" ry="12.2" transform="rotate(-23 498.8 240.2)" fill="#fff" stroke="#222" stroke-width="0.9" />
<clipPath id="ce6"><ellipse cx="498.8" cy="240.2" rx="9.4" ry="12.2" transform="rotate(-23 498.8 240.2)"/></clipPath>
<path d="M510.0 235.0 L510.6 236.5 L511.0 238.1 L511.2 239.6 L511.2 241.1 L511.1 242.6 L510.9 244.0 L510.4 245.3 L509.8 246.6 L509.1 247.6 L508.2 248.6 L507.2 249.3 L506.2 249.9 L505.0 250.3 L503.8 250.5 L502.5 250.4 L501.2 250.2 L499.9 249.8 L498.7 249.2 L497.5 248.4 L496.3 247.5 L495.3 246.4 L494.3 245.1 L493.5 243.8 L492.8 242.4 L492.2 240.9 L491.9 239.3 L491.6 237.8 L491.6 236.3 L491.7 234.8 L492.0 233.4 L492.4 232.1 L493.0 230.8 L493.7 229.8 L494.6 228.8 L495.6 228.1 L496.7 227.5 L497.8 227.1 L499.0 226.9 L500.3 227.0 L501.6 227.2 L502.9 227.6 L504.1 228.2 L505.3 229.0 L506.5 229.9 L507.5 231.0 L508.5 232.3 L509.3 233.6 L510.0 235.0" fill="none" stroke="#777" stroke-width="0.6" clip-path="url(#ce6)"/>
<line x1="494.4" y1="242.8" x2="501.8" y2="238.5" stroke="#666" stroke-width="0.6" />
<line x1="497.5" y1="237.2" x2="500.1" y2="243.2" stroke="#666" stroke-width="0.6" />
</g>
<g id="p11">
<path d="M465.5 271.3 L464.8 270.8 L464.1 270.3 L463.5 269.7 L462.9 269.1 L462.2 268.5 L461.6 267.8 L461.1 267.1 L460.5 266.4 L460.0 265.6 L459.5 264.8 L459.0 264.0 L458.6 263.2 L458.2 262.3 L457.8 261.4 L457.5 260.5 L457.2 259.6 L456.9 258.7 L456.6 257.8 L456.4 256.8 L456.3 255.9 L456.1 254.9 L456.0 254.0 L455.9 253.0 L455.9 252.1 L455.9 251.1 L456.0 250.2 L456.0 249.3 L456.2 248.4 L456.3 247.5 L456.5 246.6 L456.7 245.7 L457.0 244.9 L457.3 244.1 L457.6 243.3 L457.9 242.5 L458.3 241.8 L458.7 241.1 L459.2 240.4 L459.7 239.7 L460.2 239.1 L460.7 238.5 L461.3 238.0 L461.8 237.5 L462.4 237.0 L463.1 236.6 L463.7 236.2 L464.4 235.9 L465.0 235.6 L465.7 235.4 L466.4 235.2 L467.2 235.0 L467.9 234.9 L468.6 234.9 L469.4 234.8 L470.1 234.9 L470.8 235.0 L471.6 235.1 L472.3 235.2 L473.1 235.5 L473.8 235.7 L474.6 236.0 L475.3 236.4 L476.0 236.8 L476.7 237.2 L477.4 237.7 L478.1 238.2 L478.7 238.7 L479.4 239.3 L480.0 240.0 L480.6 240.6 L481.2 241.3 L481.7 242.0 L482.2 242.8 L482.7 243.6 L483.2 244.4 L483.7 245.2 L484.1 246.0 L484.5 246.9 L484.8 247.8 L485.2 248.7 L485.4 249.6 L485.7 250.6 L485.9 251.5 L486.1 252.4 L486.2 253.4 L486.4 254.3 L486.4 255.3 L486.5 256.2 L486.5 257.2 L486.5 258.1 L486.4 259.0 L486.3 259.9 L486.1 260.9 L486.0 261.7 L485.8 262.6 L485.5 263.5 L485.2 264.3 L484.9 265.1 L484.6 265.9 L484.2 266.6 L483.8 267.3 L483.3 268.0 L482.9 268.7 L482.4 269.3 L481.9 269.9 L481.3 270.4 L480.7 271.0 L480.1 271.4 L479.5 271.9 L478.9 272.2 L478.2 272.6 L477.6 272.9 L476.9 273.1 L476.2 273.4 L475.5 273.5 L474.7 273.7 L474.0 273.7 L473.3 273.8 L472.5 273.7 L471.8 273.7" fill="none" stroke="#151515" stroke-width="3.7" stroke-linecap="round"/>
<path d="M465.5 271.3 L464.8 270.8 L464.1 270.3 L463.5 269.7 L462.9 269.1 L462.2 268.5 L461.6 267.8 L461.1 267.1 L460.5 266.4 L460.0 265.6 L459.5 264.8 L459.0 264.0 L458.6 263.2 L458.2 262.3 L457.8 261.4 L457.5 260.5 L457.2 259.6 L456.9 258.7 L456.6 257.8 L456.4 256.8 L456.3 255.9 L456.1 254.9 L456.0 254.0 L455.9 253.0 L455.9 252.1 L455.9 251.1 L456.0 250.2 L456.0 249.3 L456.2 248.4 L456.3 247.5 L456.5 246.6 L456.7 245.7 L457.0 244.9 L457.3 244.1 L457.6 243.3 L457.9 242.5 L458.3 241.8 L458.7 241.1 L459.2 240.4 L459.7 239.7 L460.2 239.1 L460.7 238.5 L461.3 238.0 L461.8 237.5 L462.4 237.0 L463.1 236.6 L463.7 236.2 L464.4 235.9 L465.0 235.6 L465.7 235.4 L466.4 235.2 L467.2 235.0 L467.9 234.9 L468.6 234.9 L469.4 234.8 L470.1 234.9 L470.8 235.0 L471.6 235.1 L472.3 235.2 L473.1 235.5 L473.8 235.7 L474.6 236.0 L475.3 236.4 L476.0 236.8 L476.7 237.2 L477.4 237.7 L478.1 238.2 L478.7 238.7 L479.4 239.3 L480.0 240.0 L480.6 240.6 L481.2 241.3 L481.7 242.0 L482.2 242.8 L482.7 243.6 L483.2 244.4 L483.7 245.2 L484.1 246.0 L484.5 246.9 L484.8 247.8 L485.2 248.7 L485.4 249.6 L485.7 250.6 L485.9 251.5 L486.1 252.4 L486.2 253.4 L486.4 254.3 L486.4 255.3 L486.5 256.2 L486.5 257.2 L486.5 258.1 L486.4 259.0 L486.3 259.9 L486.1 260.9 L486.0 261.7 L485.8 262.6 L485.5 263.5 L485.2 264.3 L484.9 265.1 L484.6 265.9 L484.2 266.6 L483.8 267.3 L483.3 268.0 L482.9 268.7 L482.4 269.3 L481.9 269.9 L481.3 270.4 L480.7 271.0 L480.1 271.4 L479.5 271.9 L478.9 272.2 L478.2 272.6 L477.6 272.9 L476.9 273.1 L476.2 273.4 L475.5 273.5 L474.7 273.7 L474.0 273.7 L473.3 273.8 L472.5 273.7 L471.8 273.7" fill="none" stroke="#fff" stroke-width="1.1" stroke-linecap="round"/>
<circle cx="465.6" cy="269.9" r="1.5" fill="#fff" stroke="#151515" stroke-width="1.1"/>
<circle cx="472.0" cy="272.3" r="1.5" fill="#fff" stroke="#151515" stroke-width="1.1"/>
</g>
<g id="p10l">
<path d="M450.0 290.4 L449.2 290.9 L448.3 291.3 L447.3 291.6 L446.4 291.8 L445.4 291.9 L444.4 292.0 L443.4 292.0 L442.4 291.9 L441.3 291.7 L440.3 291.4 L439.3 291.1 L438.3 290.7 L437.3 290.2 L436.3 289.6 L435.3 289.0 L434.4 288.3 L433.5 287.5 L432.6 286.7 L431.8 285.8 L431.0 284.9 L430.2 283.9 L429.5 282.9 L428.8 281.8 L428.2 280.7 L427.7 279.5 L427.2 278.4 L426.7 277.2 L426.4 276.0 L426.1 274.8 L425.8 273.5 L425.7 272.3 L425.5 271.1 L425.5 269.9 L425.5 268.7 L425.6 267.5 L425.8 266.3 L426.0 265.2 L426.3 264.1 L426.6 263.0 L427.1 262.0 L427.5 261.1 L428.1 260.1 L428.7 259.3 L429.3 258.5 L430.0 257.8 L430.7 257.1 L431.5 256.5 L432.4 256.0 L434.5 254.7 L435.4 254.3 L436.3 253.9 L437.2 253.6 L438.2 253.4 L439.2 253.2 L440.2 253.2 L441.2 253.2 L442.2 253.3 L443.2 253.5 L444.3 253.7 L445.3 254.1 L446.3 254.5 L447.3 255.0 L448.3 255.5 L449.2 256.1 L450.2 256.8 L451.1 257.6 L452.0 258.4 L452.8 259.3 L453.6 260.3 L454.4 261.2 L455.1 262.3 L455.7 263.3 L456.3 264.5 L456.9 265.6 L457.4 266.8 L457.8 268.0 L458.2 269.2 L458.5 270.4 L458.7 271.6 L458.9 272.9 L459.0 274.1 L459.1 275.3 L459.0 276.5 L459.0 277.7 L458.8 278.8 L458.6 280.0 L458.3 281.1 L457.9 282.1 L457.5 283.1 L457.0 284.1 L456.5 285.0 L455.9 285.9 L455.3 286.7 L454.6 287.4 L453.8 288.1 L453.0 288.7 L452.2 289.2Z" fill="#fff" stroke="#151515" stroke-width="1.6" />
<ellipse cx="441.2" cy="273.2" rx="14.9" ry="19.4" transform="rotate(-23 441.2 273.2)" fill="#fff" stroke="#151515" stroke-width="1.0" />
<ellipse cx="441.2" cy="273.2" rx="13.9" ry="18.0" transform="rotate(-23 441.2 273.2)" fill="none" stroke="#999" stroke-width="0.6" />
<ellipse cx="453.0" cy="270.8" rx="1.2" ry="1.5" transform="rotate(-23 453.0 270.8)" fill="none" stroke="#b8b8b8" stroke-width="0.6"/>
<ellipse cx="453.6" cy="278.6" rx="1.2" ry="1.5" transform="rotate(-23 453.6 278.6)" fill="none" stroke="#b8b8b8" stroke-width="0.6"/>
<ellipse cx="450.8" cy="284.9" rx="1.2" ry="1.5" transform="rotate(-23 450.8 284.9)" fill="none" stroke="#b8b8b8" stroke-width="0.6"/>
<ellipse cx="445.5" cy="288.0" rx="1.2" ry="1.5" transform="rotate(-23 445.5 288.0)" fill="none" stroke="#b8b8b8" stroke-width="0.6"/>
<ellipse cx="439.0" cy="287.2" rx="1.2" ry="1.5" transform="rotate(-23 439.0 287.2)" fill="none" stroke="#b8b8b8" stroke-width="0.6"/>
<ellipse cx="433.1" cy="282.7" rx="1.2" ry="1.5" transform="rotate(-23 433.1 282.7)" fill="none" stroke="#b8b8b8" stroke-width="0.6"/>
<ellipse cx="429.4" cy="275.6" rx="1.2" ry="1.5" transform="rotate(-23 429.4 275.6)" fill="none" stroke="#b8b8b8" stroke-width="0.6"/>
<ellipse cx="428.8" cy="267.8" rx="1.2" ry="1.5" transform="rotate(-23 428.8 267.8)" fill="none" stroke="#b8b8b8" stroke-width="0.6"/>
<ellipse cx="431.6" cy="261.5" rx="1.2" ry="1.5" transform="rotate(-23 431.6 261.5)" fill="none" stroke="#b8b8b8" stroke-width="0.6"/>
<ellipse cx="436.9" cy="258.4" rx="1.2" ry="1.5" transform="rotate(-23 436.9 258.4)" fill="none" stroke="#b8b8b8" stroke-width="0.6"/>
<ellipse cx="443.4" cy="259.2" rx="1.2" ry="1.5" transform="rotate(-23 443.4 259.2)" fill="none" stroke="#b8b8b8" stroke-width="0.6"/>
<ellipse cx="449.3" cy="263.7" rx="1.2" ry="1.5" transform="rotate(-23 449.3 263.7)" fill="none" stroke="#b8b8b8" stroke-width="0.6"/>
<ellipse cx="441.2" cy="273.2" rx="10.5" ry="13.6" transform="rotate(-23 441.2 273.2)" fill="none" stroke="#999" stroke-width="0.6" />
<ellipse cx="440.5" cy="273.6" rx="9.3" ry="12.0" transform="rotate(-23 440.5 273.6)" fill="#fff" stroke="#222" stroke-width="0.9" />
<clipPath id="ce7"><ellipse cx="440.5" cy="273.6" rx="9.3" ry="12.0" transform="rotate(-23 440.5 273.6)"/></clipPath>
<path d="M451.6 268.5 L452.2 270.0 L452.6 271.5 L452.8 273.0 L452.8 274.5 L452.7 276.0 L452.5 277.4 L452.0 278.7 L451.4 279.9 L450.7 280.9 L449.9 281.9 L448.9 282.6 L447.8 283.2 L446.7 283.5 L445.4 283.7 L444.2 283.7 L442.9 283.5 L441.6 283.1 L440.4 282.5 L439.2 281.7 L438.1 280.8 L437.0 279.7 L436.1 278.5 L435.3 277.1 L434.6 275.7 L434.0 274.2 L433.7 272.7 L433.4 271.2 L433.4 269.7 L433.5 268.2 L433.8 266.8 L434.2 265.5 L434.8 264.3 L435.5 263.3 L436.4 262.3 L437.3 261.6 L438.4 261.0 L439.6 260.7 L440.8 260.5 L442.0 260.5 L443.3 260.7 L444.6 261.1 L445.8 261.7 L447.0 262.5 L448.1 263.4 L449.2 264.5 L450.1 265.7 L450.9 267.1 L451.6 268.5" fill="none" stroke="#777" stroke-width="0.6" clip-path="url(#ce7)"/>
<line x1="436.1" y1="276.1" x2="443.4" y2="271.9" stroke="#666" stroke-width="0.6" />
<line x1="439.2" y1="270.7" x2="441.8" y2="276.5" stroke="#666" stroke-width="0.6" />
</g>
<g id="p9">
<path d="M408.3 300.8 L407.9 300.5 L407.4 300.2 L407.0 299.8 L406.5 299.5 L406.1 299.1 L405.7 298.7 L405.3 298.2 L404.9 297.8 L404.5 297.3 L404.1 296.8 L403.8 296.2 L403.5 295.7 L403.2 295.1 L402.9 294.6 L402.6 294.0 L402.4 293.4 L402.2 292.8 L402.0 292.1 L401.8 291.5 L401.6 290.9 L401.5 290.2 L401.4 289.6 L401.3 289.0 L401.2 288.3 L401.2 287.7 L401.2 287.1 L401.2 286.4 L401.2 285.8 L401.3 285.2 L401.4 284.6 L401.5 284.0 L401.6 283.4 L401.8 282.9 L402.0 282.3 L402.2 281.8 L402.4 281.3 L402.7 280.8 L402.9 280.4 L403.2 279.9 L403.5 279.5 L403.8 279.1 L404.2 278.7 L404.5 278.4 L404.9 278.1 L405.3 277.8 L405.7 277.5 L406.1 277.3 L406.6 277.1 L407.0 277.0 L407.5 276.8 L407.9 276.7 L408.4 276.7 L408.9 276.6 L409.3 276.6 L409.8 276.7 L410.3 276.7 L410.8 276.8 L411.3 277.0 L411.8 277.1 L412.2 277.3 L412.7 277.5 L413.2 277.8 L413.7 278.1 L414.1 278.4 L414.6 278.7 L415.0 279.1 L415.4 279.4 L415.9 279.9 L416.3 280.3 L416.7 280.8 L417.0 281.2 L417.4 281.7 L417.7 282.3 L418.1 282.8 L418.4 283.4 L418.7 283.9 L418.9 284.5 L419.2 285.1 L419.4 285.7 L419.6 286.4 L419.8 287.0 L420.0 287.6 L420.1 288.2 L420.2 288.9 L420.3 289.5 L420.4 290.2 L420.4 290.8 L420.4 291.4 L420.4 292.1 L420.4 292.7 L420.3 293.3 L420.2 293.9 L420.1 294.5 L420.0 295.1 L419.8 295.6 L419.7 296.2 L419.5 296.7 L419.2 297.2 L419.0 297.7 L418.7 298.2 L418.4 298.6 L418.1 299.0 L417.8 299.4 L417.5 299.8 L417.1 300.1 L416.7 300.5 L416.4 300.7 L416.0 301.0 L415.5 301.2 L415.1 301.4 L414.7 301.6 L414.2 301.7 L413.8 301.8 L413.3 301.9 L412.8 302.0 L412.3 302.0 L411.9 301.9 L411.4 301.9 L410.9 301.8 L410.4 301.7" fill="none" stroke="#151515" stroke-width="3.3000000000000003" stroke-linecap="round"/>
<path d="M408.3 300.8 L407.9 300.5 L407.4 300.2 L407.0 299.8 L406.5 299.5 L406.1 299.1 L405.7 298.7 L405.3 298.2 L404.9 297.8 L404.5 297.3 L404.1 296.8 L403.8 296.2 L403.5 295.7 L403.2 295.1 L402.9 294.6 L402.6 294.0 L402.4 293.4 L402.2 292.8 L402.0 292.1 L401.8 291.5 L401.6 290.9 L401.5 290.2 L401.4 289.6 L401.3 289.0 L401.2 288.3 L401.2 287.7 L401.2 287.1 L401.2 286.4 L401.2 285.8 L401.3 285.2 L401.4 284.6 L401.5 284.0 L401.6 283.4 L401.8 282.9 L402.0 282.3 L402.2 281.8 L402.4 281.3 L402.7 280.8 L402.9 280.4 L403.2 279.9 L403.5 279.5 L403.8 279.1 L404.2 278.7 L404.5 278.4 L404.9 278.1 L405.3 277.8 L405.7 277.5 L406.1 277.3 L406.6 277.1 L407.0 277.0 L407.5 276.8 L407.9 276.7 L408.4 276.7 L408.9 276.6 L409.3 276.6 L409.8 276.7 L410.3 276.7 L410.8 276.8 L411.3 277.0 L411.8 277.1 L412.2 277.3 L412.7 277.5 L413.2 277.8 L413.7 278.1 L414.1 278.4 L414.6 278.7 L415.0 279.1 L415.4 279.4 L415.9 279.9 L416.3 280.3 L416.7 280.8 L417.0 281.2 L417.4 281.7 L417.7 282.3 L418.1 282.8 L418.4 283.4 L418.7 283.9 L418.9 284.5 L419.2 285.1 L419.4 285.7 L419.6 286.4 L419.8 287.0 L420.0 287.6 L420.1 288.2 L420.2 288.9 L420.3 289.5 L420.4 290.2 L420.4 290.8 L420.4 291.4 L420.4 292.1 L420.4 292.7 L420.3 293.3 L420.2 293.9 L420.1 294.5 L420.0 295.1 L419.8 295.6 L419.7 296.2 L419.5 296.7 L419.2 297.2 L419.0 297.7 L418.7 298.2 L418.4 298.6 L418.1 299.0 L417.8 299.4 L417.5 299.8 L417.1 300.1 L416.7 300.5 L416.4 300.7 L416.0 301.0 L415.5 301.2 L415.1 301.4 L414.7 301.6 L414.2 301.7 L413.8 301.8 L413.3 301.9 L412.8 302.0 L412.3 302.0 L411.9 301.9 L411.4 301.9 L410.9 301.8 L410.4 301.7" fill="none" stroke="#fff" stroke-width="0.7000000000000002" stroke-linecap="round"/>
<circle cx="408.4" cy="299.4" r="0.9" fill="#fff" stroke="#151515" stroke-width="1.1"/>
<circle cx="410.6" cy="300.4" r="0.9" fill="#fff" stroke="#151515" stroke-width="1.1"/>
</g>
<g id="p8">
<path d="M400.9 303.3 L401.0 303.9 L404.4 304.6 L404.7 306.0 L401.9 307.7 L402.0 308.4 L402.1 309.0 L405.4 310.4 L405.6 311.7 L402.5 312.9 L402.6 313.5 L402.6 314.1 L405.8 316.1 L405.8 317.5 L402.5 317.9 L402.5 318.5 L402.5 319.1 L405.5 321.7 L405.3 323.0 L402.0 322.7 L401.8 323.3 L401.7 323.9 L404.5 327.0 L404.2 328.2 L400.8 327.3 L400.6 327.8 L400.4 328.3 L402.8 331.9 L402.3 333.0 L399.0 331.3 L398.8 331.8 L398.5 332.3 L400.6 336.2 L399.9 337.2 L396.8 334.9 L396.5 335.3 L396.2 335.7 L397.7 339.9 L397.0 340.7 L394.0 337.9 L393.7 338.2 L393.3 338.5 L394.4 342.9 L393.6 343.5 L390.9 340.1 L390.5 340.3 L390.1 340.6 L390.7 345.0 L389.8 345.4 L387.5 341.6 L387.0 341.8 L386.6 341.9 L386.7 346.3 L385.7 346.5 L383.8 342.4 L383.3 342.4 L382.9 342.4 L382.4 346.7 L381.4 346.6 L380.0 342.3 L379.5 342.2 L379.0 342.2 L378.0 346.1 L377.0 345.9 L376.1 341.4 L375.6 341.3 L375.2 341.1 L373.7 344.7 L372.6 344.2 L372.2 339.8 L371.8 339.5 L371.3 339.3 L369.4 342.4 L368.4 341.8 L368.6 337.4 L368.1 337.1 L367.7 336.7 L365.3 339.3 L364.4 338.5 L365.1 334.4 L364.7 333.9 L364.3 333.5 L361.6 335.5 L360.8 334.5 L361.9 330.7 L361.6 330.2 L361.2 329.7 L358.3 331.1 L357.5 330.0 L359.2 326.5 L358.9 326.0 L358.6 325.5 L355.4 326.1 L354.8 324.9 L356.9 321.9 L356.6 321.4 L356.4 320.8 L353.1 320.8 L352.6 319.4 L355.1 317.1 L354.9 316.5 L354.8 315.9 L351.4 315.2 L351.1 313.8 L353.9 312.0 L353.8 311.4 L353.7 310.8 L350.3 309.4 L350.2 308.0 L353.3 306.9 L353.2 306.3 L353.2 305.7 L350.0 303.6 L350.0 302.3 L353.2 301.9 L353.3 301.3 L353.3 300.7 L350.3 298.0 L350.5 296.7 L353.8 297.0 L353.9 296.5 L354.1 295.9 L351.3 292.7 L351.6 291.5 L355.0 292.5 L355.2 292.0 L355.4 291.5 L353.0 287.9 L353.4 286.8 L356.8 288.4 L357.0 287.9 L357.3 287.5 L355.2 283.5 L355.9 282.6 L359.0 284.8 L359.3 284.4 L359.6 284.1 L358.1 279.8 L358.8 279.1 L361.7 281.9 L362.1 281.6 L362.5 281.3 L361.4 276.9 L362.2 276.3 L364.9 279.6 L365.3 279.4 L365.7 279.2 L365.1 274.7 L366.0 274.4 L368.3 278.1 L368.8 278.0 L369.2 277.9 L369.1 273.5 L370.1 273.3 L372.0 277.4 L372.5 277.3 L372.9 277.3 L373.4 273.1 L374.4 273.1 L375.8 277.4 L376.3 277.5 L376.8 277.6 L377.8 273.6 L378.8 273.9 L379.7 278.3 L380.2 278.5 L380.6 278.6 L382.1 275.0 L383.2 275.5 L383.5 280.0 L384.0 280.2 L384.4 280.5 L386.4 277.3 L387.4 278.0 L387.2 282.3 L387.7 282.7 L388.1 283.0 L390.4 280.4 L391.4 281.3 L390.7 285.4 L391.1 285.8 L391.5 286.2 L394.2 284.2 L395.0 285.2 L393.9 289.1 L394.2 289.5 L394.6 290.0 L397.5 288.6 L398.3 289.8 L396.6 293.2 L396.9 293.8 L397.2 294.3 L400.4 293.6 L401.0 294.9 L398.9 297.8 L399.1 298.4 L399.4 299.0 L402.7 299.0 L403.2 300.3 L400.7 302.7Z" fill="#fff" stroke="#151515" stroke-width="1.6" />
<path d="M384.5 343.9 L383.1 344.6 L381.6 345.2 L380.1 345.6 L378.6 346.0 L377.0 346.1 L375.4 346.2 L373.8 346.1 L372.2 345.9 L370.6 345.5 L369.0 345.0 L367.4 344.3 L365.8 343.6 L364.2 342.7 L362.7 341.6 L361.2 340.5 L359.8 339.2 L358.4 337.9 L357.0 336.4 L355.7 334.8 L354.5 333.2 L353.4 331.4 L352.3 329.6 L351.3 327.7 L350.4 325.7 L349.6 323.7 L348.9 321.7 L348.3 319.6 L347.8 317.5 L347.3 315.4 L347.0 313.3 L346.8 311.1 L346.7 309.0 L346.7 306.9 L346.8 304.8 L347.0 302.8 L347.3 300.8 L347.8 298.9 L348.3 297.0 L348.9 295.2 L349.6 293.5 L350.4 291.9 L351.3 290.3 L352.3 288.9 L353.4 287.6 L354.5 286.3 L355.7 285.2 L357.0 284.3 L358.3 283.4 L364.8 279.6 L366.2 278.9 L367.7 278.3 L369.2 277.9 L370.7 277.5 L372.3 277.4 L373.9 277.3 L375.5 277.4 L377.1 277.6 L378.7 278.0 L380.3 278.5 L381.9 279.2 L383.5 279.9 L385.1 280.8 L386.6 281.9 L388.1 283.0 L389.5 284.3 L390.9 285.6 L392.3 287.1 L393.6 288.7 L394.8 290.3 L395.9 292.1 L397.0 293.9 L398.0 295.8 L398.9 297.8 L399.7 299.8 L400.4 301.8 L401.0 303.9 L401.5 306.0 L402.0 308.1 L402.3 310.2 L402.5 312.4 L402.6 314.5 L402.6 316.6 L402.5 318.7 L402.3 320.7 L402.0 322.7 L401.5 324.6 L401.0 326.5 L400.4 328.3 L399.7 330.0 L398.9 331.6 L398.0 333.2 L397.0 334.6 L395.9 335.9 L394.8 337.2 L393.6 338.3 L392.3 339.2 L391.0 340.1Z" fill="#1a1a1a" stroke="none" stroke-width="0" />
<path d="M397.7 307.3 L398.4 310.5 L404.9 306.7 L404.1 303.6Z" fill="#fff" stroke="none" stroke-width="0" />
<path d="M398.8 313.1 L399.2 316.2 L405.7 312.5 L405.3 309.3Z" fill="#fff" stroke="none" stroke-width="0" />
<path d="M399.3 318.8 L399.3 322.0 L405.8 318.2 L405.8 315.1Z" fill="#fff" stroke="none" stroke-width="0" />
<path d="M399.1 324.5 L398.7 327.5 L405.2 323.7 L405.6 320.7Z" fill="#fff" stroke="none" stroke-width="0" />
<path d="M398.2 329.8 L397.5 332.6 L404.0 328.9 L404.7 326.1Z" fill="#fff" stroke="none" stroke-width="0" />
<path d="M396.7 334.8 L395.6 337.3 L402.1 333.6 L403.2 331.0Z" fill="#fff" stroke="none" stroke-width="0" />
<path d="M394.5 339.2 L393.1 341.4 L399.6 337.7 L401.0 335.5Z" fill="#fff" stroke="none" stroke-width="0" />
<path d="M391.8 343.1 L390.1 344.8 L396.6 341.1 L398.3 339.3Z" fill="#fff" stroke="none" stroke-width="0" />
<path d="M388.6 346.1 L386.6 347.5 L393.1 343.8 L395.1 342.4Z" fill="#fff" stroke="none" stroke-width="0" />
<path d="M357.9 278.8 L360.1 277.9 L366.6 274.2 L364.4 275.1Z" fill="#fff" stroke="none" stroke-width="0" />
<path d="M361.9 277.4 L364.2 277.0 L370.7 273.2 L368.4 273.6Z" fill="#fff" stroke="none" stroke-width="0" />
<path d="M366.1 276.8 L368.5 276.9 L375.0 273.2 L372.6 273.1Z" fill="#fff" stroke="none" stroke-width="0" />
<path d="M370.5 277.2 L372.9 277.8 L379.4 274.0 L377.0 273.5Z" fill="#fff" stroke="none" stroke-width="0" />
<path d="M374.8 278.5 L377.2 279.5 L383.7 275.8 L381.3 274.7Z" fill="#fff" stroke="none" stroke-width="0" />
<path d="M379.1 280.6 L381.4 282.1 L387.9 278.4 L385.6 276.9Z" fill="#fff" stroke="none" stroke-width="0" />
<path d="M383.2 283.5 L385.4 285.5 L391.9 281.7 L389.7 279.8Z" fill="#fff" stroke="none" stroke-width="0" />
<path d="M387.1 287.2 L389.0 289.5 L395.5 285.8 L393.5 283.5Z" fill="#fff" stroke="none" stroke-width="0" />
<path d="M390.5 291.6 L392.2 294.2 L398.7 290.4 L397.0 287.8Z" fill="#fff" stroke="none" stroke-width="0" />
<path d="M393.4 296.4 L394.8 299.3 L401.3 295.6 L399.9 292.7Z" fill="#fff" stroke="none" stroke-width="0" />
<path d="M395.8 301.7 L396.9 304.8 L403.4 301.0 L402.3 298.0Z" fill="#fff" stroke="none" stroke-width="0" />
<path d="M400.9 303.3 L401.0 303.9 L404.4 304.6 L404.7 306.0 L401.9 307.7 L402.0 308.4 L402.0 308.4 L402.1 309.0 L405.4 310.4 L405.6 311.7 L402.5 312.9 L402.6 313.5 L402.6 313.5 L402.6 314.1 L405.8 316.1 L405.8 317.5 L402.5 317.9 L402.5 318.5 L402.5 318.5 L402.5 319.1 L405.5 321.7 L405.3 323.0 L402.0 322.7 L401.8 323.3 L401.8 323.3 L401.7 323.9 L404.5 327.0 L404.2 328.2 L400.8 327.3 L400.6 327.8 L400.6 327.8 L400.4 328.3 L402.8 331.9 L402.3 333.0 L399.0 331.3 L398.8 331.8 L398.8 331.8 L398.5 332.3 L400.6 336.2 L399.9 337.2 L396.8 334.9 L396.5 335.3 L396.5 335.3 L396.2 335.7 L397.7 339.9 L397.0 340.7 L394.0 337.9 L393.7 338.2 L393.7 338.2 L393.3 338.5 L394.4 342.9 L393.6 343.5 L390.9 340.1 L390.5 340.3" fill="none" stroke="#151515" stroke-width="1.2800000000000002" stroke-linejoin="round"/>
<path d="M365.3 279.4 L365.7 279.2 L365.1 274.7 L366.0 274.4 L368.3 278.1 L368.8 278.0 L368.8 278.0 L369.2 277.9 L369.1 273.5 L370.1 273.3 L372.0 277.4 L372.5 277.3 L372.5 277.3 L372.9 277.3 L373.4 273.1 L374.4 273.1 L375.8 277.4 L376.3 277.5 L376.3 277.5 L376.8 277.6 L377.8 273.6 L378.8 273.9 L379.7 278.3 L380.2 278.5 L380.2 278.5 L380.6 278.6 L382.1 275.0 L383.2 275.5 L383.5 280.0 L384.0 280.2 L384.0 280.2 L384.4 280.5 L386.4 277.3 L387.4 278.0 L387.2 282.3 L387.7 282.7 L387.7 282.7 L388.1 283.0 L390.4 280.4 L391.4 281.3 L390.7 285.4 L391.1 285.8 L391.1 285.8 L391.5 286.2 L394.2 284.2 L395.0 285.2 L393.9 289.1 L394.2 289.5 L394.2 289.5 L394.6 290.0 L397.5 288.6 L398.3 289.8 L396.6 293.2 L396.9 293.8 L396.9 293.8 L397.2 294.3 L400.4 293.6 L401.0 294.9 L398.9 297.8 L399.1 298.4 L399.1 298.4 L399.4 299.0 L402.7 299.0 L403.2 300.3 L400.7 302.7 L400.9 303.3 L400.9 303.3 L401.0 303.9 L404.4 304.6 L404.7 306.0 L401.9 307.7 L402.0 308.4" fill="none" stroke="#151515" stroke-width="1.2800000000000002" stroke-linejoin="round"/>
<line x1="356.7" y1="279.5" x2="363.1" y2="275.7" stroke="#151515" stroke-width="1.2800000000000002" />
<line x1="386.2" y1="347.8" x2="392.6" y2="344.0" stroke="#151515" stroke-width="1.2800000000000002" />
<path d="M394.4 307.0 L394.5 307.6 L397.9 308.3 L398.2 309.7 L395.4 311.5 L395.5 312.1 L395.6 312.7 L399.0 314.1 L399.1 315.5 L396.0 316.6 L396.1 317.2 L396.1 317.8 L399.3 319.9 L399.3 321.2 L396.1 321.6 L396.0 322.2 L396.0 322.8 L399.0 325.5 L398.8 326.8 L395.5 326.5 L395.4 327.0 L395.2 327.6 L398.0 330.8 L397.7 332.0 L394.3 331.0 L394.1 331.5 L393.9 332.0 L396.3 335.6 L395.9 336.7 L392.5 335.1 L392.3 335.6 L392.0 336.0 L394.1 340.0 L393.4 340.9 L390.3 338.7 L390.0 339.1 L389.7 339.4 L391.2 343.7 L390.5 344.4 L387.6 341.6 L387.2 341.9 L386.8 342.2 L387.9 346.6 L387.1 347.2 L384.4 343.9 L384.0 344.1 L383.6 344.3 L384.2 348.8 L383.3 349.1 L381.0 345.4 L380.5 345.5 L380.1 345.6 L380.2 350.0 L379.2 350.2 L377.3 346.1 L376.8 346.2 L376.4 346.2 L375.9 350.4 L374.9 350.4 L373.5 346.1 L373.0 346.0 L372.5 345.9 L371.5 349.9 L370.5 349.6 L369.6 345.2 L369.1 345.0 L368.7 344.9 L367.2 348.5 L366.1 348.0 L365.8 343.5 L365.3 343.3 L364.9 343.0 L362.9 346.2 L361.9 345.5 L362.1 341.2 L361.6 340.8 L361.2 340.5 L358.9 343.1 L357.9 342.2 L358.6 338.1 L358.2 337.7 L357.8 337.3 L355.1 339.3 L354.3 338.3 L355.4 334.4 L355.1 334.0 L354.7 333.5 L351.8 334.9 L351.0 333.7 L352.7 330.3 L352.4 329.7 L352.1 329.2 L348.9 329.9 L348.3 328.6 L350.4 325.7 L350.2 325.1 L349.9 324.5 L346.6 324.5 L346.1 323.2 L348.6 320.8 L348.4 320.2 L348.3 319.6 L344.9 318.9 L344.6 317.5 L347.4 315.8 L347.3 315.1 L347.2 314.5 L343.9 313.1 L343.7 311.8 L346.8 310.6 L346.7 310.0 L346.7 309.4 L343.5 307.4 L343.5 306.0 L346.8 305.6 L346.8 305.0 L346.8 304.4 L343.8 301.8 L344.0 300.5 L347.3 300.8 L347.5 300.2 L347.6 299.6 L344.8 296.5 L345.1 295.3 L348.5 296.2 L348.7 295.7 L348.9 295.2 L346.5 291.6 L347.0 290.5 L350.3 292.2 L350.5 291.7 L350.8 291.2 L348.7 287.3 L349.4 286.3 L352.5 288.6 L352.8 288.2 L353.1 287.8 L351.6 283.6 L352.3 282.8 L355.3 285.6 L355.6 285.3 L356.0 285.0 L354.9 280.6 L355.7 280.0 L358.4 283.4 L358.8 283.2 L359.2 282.9 L358.6 278.5 L359.5 278.1 L361.8 281.9 L362.3 281.7 L362.7 281.6 L362.6 277.2 L363.6 277.0 L365.5 281.1 L366.0 281.1 L366.4 281.1 L366.9 276.8 L367.9 276.9 L369.3 281.2 L369.8 281.3 L370.3 281.3 L371.3 277.4 L372.3 277.6 L373.2 282.1 L373.7 282.2 L374.1 282.4 L375.6 278.8 L376.7 279.3 L377.1 283.7 L377.5 284.0 L378.0 284.2 L379.9 281.1 L380.9 281.7 L380.7 286.1 L381.2 286.4 L381.6 286.8 L384.0 284.2 L384.9 285.0 L384.2 289.1 L384.6 289.6 L385.0 290.0 L387.7 288.0 L388.5 289.0 L387.4 292.8 L387.7 293.3 L388.1 293.8 L391.0 292.4 L391.8 293.5 L390.1 297.0 L390.4 297.5 L390.7 298.0 L393.9 297.4 L394.5 298.6 L392.4 301.6 L392.7 302.1 L392.9 302.7 L396.2 302.7 L396.7 304.1 L394.2 306.4Z" fill="#fff" stroke="none" stroke-width="0" />
<path d="M394.4 307.0 L394.5 307.6 L397.9 308.3 L398.2 309.7 L395.4 311.5 L395.5 312.1 L395.6 312.7 L399.0 314.1 L399.1 315.5 L396.0 316.6 L396.1 317.2 L396.1 317.8 L399.3 319.9 L399.3 321.2 L396.1 321.6 L396.0 322.2 L396.0 322.8 L399.0 325.5 L398.8 326.8 L395.5 326.5 L395.4 327.0 L395.2 327.6 L398.0 330.8 L397.7 332.0 L394.3 331.0 L394.1 331.5 L393.9 332.0 L396.3 335.6 L395.9 336.7 L392.5 335.1 L392.3 335.6 L392.0 336.0 L394.1 340.0 L393.4 340.9 L390.3 338.7 L390.0 339.1 L389.7 339.4 L391.2 343.7 L390.5 344.4 L387.6 341.6 L387.2 341.9 L386.8 342.2 L387.9 346.6 L387.1 347.2 L384.4 343.9 L384.0 344.1" fill="none" stroke="#333" stroke-width="0.7" stroke-linejoin="round"/>
<path d="M384.0 344.1 L383.6 344.3 L384.2 348.8 L383.3 349.1 L381.0 345.4 L380.5 345.5 L380.1 345.6 L380.2 350.0 L379.2 350.2 L377.3 346.1 L376.8 346.2 L376.4 346.2 L375.9 350.4 L374.9 350.4 L373.5 346.1 L373.0 346.0 L372.5 345.9 L371.5 349.9 L370.5 349.6 L369.6 345.2 L369.1 345.0 L368.7 344.9 L367.2 348.5 L366.1 348.0 L365.8 343.5 L365.3 343.3 L364.9 343.0 L362.9 346.2 L361.9 345.5 L362.1 341.2 L361.6 340.8 L361.2 340.5 L358.9 343.1 L357.9 342.2 L358.6 338.1 L358.2 337.7 L357.8 337.3 L355.1 339.3 L354.3 338.3 L355.4 334.4 L355.1 334.0 L354.7 333.5 L351.8 334.9 L351.0 333.7 L352.7 330.3 L352.4 329.7 L352.1 329.2 L348.9 329.9 L348.3 328.6 L350.4 325.7 L350.2 325.1 L349.9 324.5 L346.6 324.5 L346.1 323.2 L348.6 320.8 L348.4 320.2 L348.3 319.6 L344.9 318.9 L344.6 317.5 L347.4 315.8 L347.3 315.1 L347.2 314.5 L343.9 313.1 L343.7 311.8 L346.8 310.6 L346.7 310.0 L346.7 309.4 L343.5 307.4 L343.5 306.0 L346.8 305.6 L346.8 305.0 L346.8 304.4 L343.8 301.8 L344.0 300.5 L347.3 300.8 L347.5 300.2 L347.6 299.6 L344.8 296.5 L345.1 295.3 L348.5 296.2 L348.7 295.7 L348.9 295.2 L346.5 291.6 L347.0 290.5 L350.3 292.2 L350.5 291.7 L350.8 291.2 L348.7 287.3 L349.4 286.3 L352.5 288.6 L352.8 288.2 L353.1 287.8 L351.6 283.6 L352.3 282.8 L355.3 285.6 L355.6 285.3 L356.0 285.0 L354.9 280.6 L355.7 280.0 L358.4 283.4 L358.8 283.2" fill="none" stroke="#151515" stroke-width="1.6" stroke-linejoin="round"/>
<path d="M358.8 283.2 L359.2 282.9 L358.6 278.5 L359.5 278.1 L361.8 281.9 L362.3 281.7 L362.7 281.6 L362.6 277.2 L363.6 277.0 L365.5 281.1 L366.0 281.1 L366.4 281.1 L366.9 276.8 L367.9 276.9 L369.3 281.2 L369.8 281.3 L370.3 281.3 L371.3 277.4 L372.3 277.6 L373.2 282.1 L373.7 282.2 L374.1 282.4 L375.6 278.8 L376.7 279.3 L377.1 283.7 L377.5 284.0 L378.0 284.2 L379.9 281.1 L380.9 281.7 L380.7 286.1 L381.2 286.4 L381.6 286.8 L384.0 284.2 L384.9 285.0 L384.2 289.1 L384.6 289.6 L385.0 290.0 L387.7 288.0 L388.5 289.0 L387.4 292.8 L387.7 293.3 L388.1 293.8 L391.0 292.4 L391.8 293.5 L390.1 297.0 L390.4 297.5 L390.7 298.0 L393.9 297.4 L394.5 298.6 L392.4 301.6 L392.7 302.1 L392.9 302.7 L396.2 302.7 L396.7 304.1 L394.2 306.4 L394.4 307.0" fill="none" stroke="#333" stroke-width="0.7" stroke-linejoin="round"/>
<ellipse cx="371.4" cy="313.6" rx="21.6" ry="30.0" transform="rotate(-16 371.4 313.6)" fill="none" stroke="#8a8a8a" stroke-width="0.6" />
<ellipse cx="371.4" cy="313.6" rx="15.1" ry="21.0" transform="rotate(-16 371.4 313.6)" fill="none" stroke="#777" stroke-width="0.7" />
<ellipse cx="371.4" cy="313.6" rx="13.6" ry="18.9" transform="rotate(-16 371.4 313.6)" fill="none" stroke="#999" stroke-width="0.6" />
<ellipse cx="371.4" cy="313.6" rx="11.3" ry="15.7" transform="rotate(-16 371.4 313.6)" fill="#e4e4e4" stroke="#222" stroke-width="1.0" />
<clipPath id="ce8"><ellipse cx="371.4" cy="313.6" rx="11.3" ry="15.7" transform="rotate(-16 371.4 313.6)"/></clipPath>
<ellipse cx="377.9" cy="309.9" rx="11.3" ry="15.7" transform="rotate(-16 377.9 309.9)" fill="#fff" stroke="#222" stroke-width="1.1" clip-path="url(#ce8)"/>
<ellipse cx="374.3" cy="311.9" rx="11.3" ry="15.7" transform="rotate(-16 374.3 311.9)" fill="none" stroke="#666" stroke-width="0.7" clip-path="url(#ce8)"/>
<ellipse cx="374.3" cy="311.9" rx="10.5" ry="14.6" transform="rotate(-16 374.3 311.9)" fill="none" stroke="#999" stroke-width="0.6" clip-path="url(#ce8)"/>
<line x1="366.7" y1="316.3" x2="374.5" y2="311.8" stroke="#666" stroke-width="0.6" />
<line x1="370.1" y1="310.5" x2="372.8" y2="316.8" stroke="#666" stroke-width="0.6" />
</g>
<g id="p7">
<path d="M339.0 343.6 L338.6 343.8 L338.2 344.0 L337.7 344.1 L337.3 344.2 L336.9 344.3 L336.4 344.3 L336.0 344.2 L335.5 344.1 L335.0 344.0 L334.6 343.8 L334.2 343.6 L333.7 343.4 L333.3 343.1 L332.9 342.8 L332.4 342.4 L332.0 342.0 L331.7 341.6 L331.3 341.2 L330.9 340.7 L330.6 340.2 L330.3 339.6 L330.0 339.1 L329.8 338.5 L329.5 337.9 L329.3 337.3 L329.1 336.7 L329.0 336.0 L328.8 335.4 L328.7 334.8 L328.7 334.1 L328.6 333.5 L328.6 332.8 L328.6 332.2 L328.7 331.6 L328.7 331.0 L328.8 330.4 L329.0 329.8 L329.1 329.3 L329.3 328.7 L329.5 328.2 L329.8 327.7 L330.0 327.3 L330.3 326.8 L330.6 326.5 L331.0 326.1 L331.3 325.8 L331.7 325.5 L332.1 325.2 L339.8 320.8 L340.2 320.6 L340.6 320.4 L341.1 320.3 L341.5 320.2 L341.9 320.1 L342.4 320.1 L342.8 320.2 L343.3 320.3 L343.8 320.4 L344.2 320.6 L344.6 320.8 L345.1 321.0 L345.5 321.3 L345.9 321.6 L346.4 322.0 L346.8 322.4 L347.1 322.8 L347.5 323.2 L347.9 323.7 L348.2 324.2 L348.5 324.8 L348.8 325.3 L349.0 325.9 L349.3 326.5 L349.5 327.1 L349.7 327.7 L349.8 328.4 L350.0 329.0 L350.1 329.6 L350.1 330.3 L350.2 330.9 L350.2 331.6 L350.2 332.2 L350.1 332.8 L350.1 333.4 L350.0 334.0 L349.8 334.6 L349.7 335.1 L349.5 335.7 L349.3 336.2 L349.0 336.7 L348.8 337.1 L348.5 337.6 L348.2 337.9 L347.8 338.3 L347.5 338.6 L347.1 338.9 L346.7 339.2Z" fill="#fff" stroke="#151515" stroke-width="1.4" />
<line x1="342.1" y1="333.0" x2="349.9" y2="328.6" stroke="#333" stroke-width="0.9" />
<line x1="342.4" y1="334.3" x2="350.1" y2="329.8" stroke="#888" stroke-width="0.5" />
<line x1="342.4" y1="335.6" x2="350.2" y2="331.1" stroke="#333" stroke-width="0.9" />
<line x1="342.4" y1="336.9" x2="350.2" y2="332.4" stroke="#888" stroke-width="0.5" />
<line x1="342.3" y1="338.1" x2="350.0" y2="333.6" stroke="#333" stroke-width="0.9" />
<line x1="342.0" y1="339.2" x2="349.8" y2="334.8" stroke="#888" stroke-width="0.5" />
<line x1="341.7" y1="340.3" x2="349.4" y2="335.8" stroke="#333" stroke-width="0.9" />
<line x1="341.2" y1="341.3" x2="348.9" y2="336.8" stroke="#888" stroke-width="0.5" />
<line x1="340.6" y1="342.2" x2="348.4" y2="337.7" stroke="#333" stroke-width="0.9" />
<line x1="340.0" y1="342.9" x2="347.7" y2="338.4" stroke="#888" stroke-width="0.5" />
<line x1="339.2" y1="343.5" x2="347.0" y2="339.0" stroke="#333" stroke-width="0.9" />
<line x1="338.4" y1="343.9" x2="346.2" y2="339.4" stroke="#888" stroke-width="0.5" />
<line x1="333.5" y1="324.7" x2="341.2" y2="320.2" stroke="#333" stroke-width="0.9" />
<line x1="334.3" y1="324.6" x2="342.1" y2="320.1" stroke="#888" stroke-width="0.5" />
<line x1="335.2" y1="324.7" x2="343.0" y2="320.2" stroke="#333" stroke-width="0.9" />
<line x1="336.1" y1="324.9" x2="343.9" y2="320.4" stroke="#888" stroke-width="0.5" />
<line x1="337.0" y1="325.3" x2="344.8" y2="320.8" stroke="#333" stroke-width="0.9" />
<line x1="337.9" y1="325.9" x2="345.7" y2="321.4" stroke="#888" stroke-width="0.5" />
<line x1="338.7" y1="326.6" x2="346.5" y2="322.1" stroke="#333" stroke-width="0.9" />
<line x1="339.5" y1="327.4" x2="347.3" y2="322.9" stroke="#888" stroke-width="0.5" />
<line x1="340.2" y1="328.4" x2="348.0" y2="323.9" stroke="#333" stroke-width="0.9" />
<line x1="340.8" y1="329.4" x2="348.6" y2="324.9" stroke="#888" stroke-width="0.5" />
<line x1="341.4" y1="330.6" x2="349.1" y2="326.1" stroke="#333" stroke-width="0.9" />
<line x1="341.8" y1="331.8" x2="349.6" y2="327.3" stroke="#888" stroke-width="0.5" />
<ellipse cx="335.5" cy="334.4" rx="6.8" ry="9.9" transform="rotate(-12.0 335.5 334.4)" fill="#fff" stroke="#151515" stroke-width="1.3" />
<ellipse cx="335.5" cy="334.4" rx="4.9" ry="7.2" transform="rotate(-12.0 335.5 334.4)" fill="#b8b8b8" stroke="#222" stroke-width="0.9" />
<line x1="337.0" y1="341.2" x2="344.7" y2="336.8" stroke="#333" stroke-width="0.8" clip-path="url(#clip139964345171840)"/>
<line x1="335.7" y1="341.3" x2="343.5" y2="336.8" stroke="#333" stroke-width="0.8" clip-path="url(#clip139964345171840)"/>
<line x1="334.5" y1="340.8" x2="342.2" y2="336.3" stroke="#333" stroke-width="0.8" clip-path="url(#clip139964345171840)"/>
<line x1="333.3" y1="339.9" x2="341.0" y2="335.5" stroke="#333" stroke-width="0.8" clip-path="url(#clip139964345171840)"/>
<line x1="332.2" y1="338.7" x2="340.0" y2="334.2" stroke="#333" stroke-width="0.8" clip-path="url(#clip139964345171840)"/>
<line x1="331.4" y1="337.1" x2="339.2" y2="332.7" stroke="#333" stroke-width="0.8" clip-path="url(#clip139964345171840)"/>
<line x1="330.9" y1="335.4" x2="338.7" y2="330.9" stroke="#333" stroke-width="0.8" clip-path="url(#clip139964345171840)"/>
<line x1="330.7" y1="333.6" x2="338.4" y2="329.2" stroke="#333" stroke-width="0.8" clip-path="url(#clip139964345171840)"/>
<line x1="330.8" y1="331.9" x2="338.6" y2="327.4" stroke="#333" stroke-width="0.8" clip-path="url(#clip139964345171840)"/>
<line x1="331.2" y1="330.3" x2="339.0" y2="325.9" stroke="#333" stroke-width="0.8" clip-path="url(#clip139964345171840)"/>
<line x1="332.0" y1="329.0" x2="339.7" y2="324.6" stroke="#333" stroke-width="0.8" clip-path="url(#clip139964345171840)"/>
<line x1="332.9" y1="328.1" x2="340.7" y2="323.7" stroke="#333" stroke-width="0.8" clip-path="url(#clip139964345171840)"/>
<clipPath id="clip139964345171840"><ellipse cx="335.5" cy="334.4" rx="4.9" ry="7.2" transform="rotate(-12.0 335.5 334.4)"/></clipPath>
</g>
<g id="p4r">
<path d="M321.3 360.7 L320.6 361.0 L319.9 361.3 L319.1 361.6 L318.4 361.7 L317.6 361.9 L316.8 361.9 L316.0 361.9 L315.1 361.8 L314.3 361.7 L313.5 361.5 L312.7 361.2 L311.8 360.9 L311.0 360.5 L310.2 360.0 L309.5 359.5 L308.7 358.9 L308.0 358.3 L307.3 357.7 L306.6 357.0 L306.0 356.2 L305.4 355.4 L304.8 354.6 L304.3 353.7 L303.8 352.8 L303.3 351.9 L302.9 351.0 L302.6 350.0 L302.3 349.0 L302.0 348.1 L301.8 347.1 L301.7 346.1 L301.6 345.1 L301.6 344.1 L301.6 343.1 L301.7 342.2 L301.8 341.3 L302.0 340.4 L302.2 339.5 L302.5 338.6 L302.8 337.8 L303.2 337.0 L303.6 336.3 L304.1 335.6 L304.6 335.0 L305.2 334.4 L305.8 333.9 L306.4 333.4 L307.1 332.9 L309.3 331.7 L310.0 331.3 L310.7 331.0 L311.4 330.8 L312.2 330.6 L313.0 330.5 L313.8 330.4 L314.6 330.5 L315.4 330.5 L316.3 330.7 L317.1 330.9 L317.9 331.2 L318.7 331.5 L319.5 331.9 L320.3 332.3 L321.1 332.8 L321.8 333.4 L322.6 334.0 L323.3 334.7 L324.0 335.4 L324.6 336.1 L325.2 336.9 L325.8 337.8 L326.3 338.6 L326.8 339.5 L327.2 340.4 L327.6 341.4 L328.0 342.3 L328.3 343.3 L328.5 344.3 L328.7 345.3 L328.9 346.3 L329.0 347.3 L329.0 348.2 L329.0 349.2 L328.9 350.2 L328.8 351.1 L328.6 352.0 L328.4 352.9 L328.1 353.7 L327.7 354.5 L327.4 355.3 L326.9 356.0 L326.5 356.7 L325.9 357.4 L325.4 358.0 L324.8 358.5 L324.1 359.0 L323.5 359.4Z" fill="#fff" stroke="#151515" stroke-width="1.6" />
<ellipse cx="314.2" cy="346.8" rx="12.0" ry="15.6" transform="rotate(-23 314.2 346.8)" fill="#fff" stroke="#151515" stroke-width="1.0" />
<ellipse cx="314.2" cy="346.8" rx="11.2" ry="14.5" transform="rotate(-23 314.2 346.8)" fill="none" stroke="#999" stroke-width="0.6" />
<ellipse cx="323.7" cy="344.9" rx="0.9" ry="1.2" transform="rotate(-23 323.7 344.9)" fill="none" stroke="#b8b8b8" stroke-width="0.6"/>
<ellipse cx="324.1" cy="351.1" rx="0.9" ry="1.2" transform="rotate(-23 324.1 351.1)" fill="none" stroke="#b8b8b8" stroke-width="0.6"/>
<ellipse cx="321.9" cy="356.2" rx="0.9" ry="1.2" transform="rotate(-23 321.9 356.2)" fill="none" stroke="#b8b8b8" stroke-width="0.6"/>
<ellipse cx="317.6" cy="358.7" rx="0.9" ry="1.2" transform="rotate(-23 317.6 358.7)" fill="none" stroke="#b8b8b8" stroke-width="0.6"/>
<ellipse cx="312.4" cy="358.1" rx="0.9" ry="1.2" transform="rotate(-23 312.4 358.1)" fill="none" stroke="#b8b8b8" stroke-width="0.6"/>
<ellipse cx="307.7" cy="354.4" rx="0.9" ry="1.2" transform="rotate(-23 307.7 354.4)" fill="none" stroke="#b8b8b8" stroke-width="0.6"/>
<ellipse cx="304.7" cy="348.7" rx="0.9" ry="1.2" transform="rotate(-23 304.7 348.7)" fill="none" stroke="#b8b8b8" stroke-width="0.6"/>
<ellipse cx="304.3" cy="342.5" rx="0.9" ry="1.2" transform="rotate(-23 304.3 342.5)" fill="none" stroke="#b8b8b8" stroke-width="0.6"/>
<ellipse cx="306.5" cy="337.4" rx="0.9" ry="1.2" transform="rotate(-23 306.5 337.4)" fill="none" stroke="#b8b8b8" stroke-width="0.6"/>
<ellipse cx="310.8" cy="334.9" rx="0.9" ry="1.2" transform="rotate(-23 310.8 334.9)" fill="none" stroke="#b8b8b8" stroke-width="0.6"/>
<ellipse cx="316.0" cy="335.5" rx="0.9" ry="1.2" transform="rotate(-23 316.0 335.5)" fill="none" stroke="#b8b8b8" stroke-width="0.6"/>
<ellipse cx="320.7" cy="339.2" rx="0.9" ry="1.2" transform="rotate(-23 320.7 339.2)" fill="none" stroke="#b8b8b8" stroke-width="0.6"/>
<ellipse cx="314.2" cy="346.8" rx="8.4" ry="10.9" transform="rotate(-23 314.2 346.8)" fill="none" stroke="#999" stroke-width="0.6" />
<ellipse cx="313.5" cy="347.2" rx="7.4" ry="9.7" transform="rotate(-23 313.5 347.2)" fill="#fff" stroke="#222" stroke-width="0.9" />
<clipPath id="ce9"><ellipse cx="313.5" cy="347.2" rx="7.4" ry="9.7" transform="rotate(-23 313.5 347.2)"/></clipPath>
<path d="M323.0 342.8 L323.4 344.0 L323.7 345.2 L323.9 346.4 L323.9 347.6 L323.8 348.8 L323.6 349.9 L323.3 351.0 L322.8 352.0 L322.2 352.8 L321.5 353.5 L320.7 354.1 L319.9 354.6 L319.0 354.9 L318.0 355.1 L317.0 355.0 L316.0 354.9 L314.9 354.5 L313.9 354.1 L313.0 353.4 L312.1 352.7 L311.2 351.8 L310.5 350.8 L309.8 349.7 L309.2 348.6 L308.8 347.4 L308.5 346.2 L308.3 345.0 L308.3 343.8 L308.4 342.6 L308.6 341.5 L308.9 340.4 L309.4 339.4 L310.0 338.6 L310.7 337.9 L311.5 337.3 L312.3 336.8 L313.3 336.5 L314.2 336.3 L315.2 336.4 L316.3 336.5 L317.3 336.9 L318.3 337.3 L319.2 338.0 L320.2 338.7 L321.0 339.6 L321.7 340.6 L322.4 341.7 L323.0 342.8" fill="none" stroke="#777" stroke-width="0.6" clip-path="url(#ce9)"/>
<line x1="310.0" y1="349.2" x2="315.9" y2="345.8" stroke="#666" stroke-width="0.6" />
<line x1="312.5" y1="344.8" x2="314.5" y2="349.6" stroke="#666" stroke-width="0.6" />
</g>
<g id="p6">
<path d="M284.1 371.9 L283.8 372.1 L283.4 372.2 L283.0 372.4 L282.6 372.4 L282.2 372.5 L281.8 372.5 L281.4 372.5 L281.0 372.4 L280.5 372.3 L280.1 372.2 L279.7 372.0 L279.3 371.8 L278.9 371.6 L278.5 371.3 L278.2 371.0 L277.8 370.7 L277.5 370.3 L277.1 370.0 L276.8 369.5 L276.5 369.1 L276.2 368.6 L276.0 368.2 L275.7 367.7 L275.5 367.2 L275.3 366.6 L275.1 366.1 L275.0 365.6 L274.9 365.0 L274.8 364.5 L274.7 363.9 L274.7 363.3 L274.7 362.8 L274.7 362.2 L274.7 361.7 L274.8 361.2 L274.9 360.7 L275.0 360.2 L275.2 359.7 L275.4 359.2 L275.6 358.7 L275.8 358.3 L276.0 357.9 L276.3 357.5 L276.6 357.2 L276.9 356.9 L277.2 356.6 L277.5 356.3 L277.9 356.1 L294.3 346.6 L294.7 346.4 L295.1 346.3 L295.5 346.1 L295.9 346.1 L296.3 346.0 L296.7 346.0 L297.1 346.0 L297.5 346.1 L297.9 346.2 L298.3 346.3 L298.7 346.5 L299.1 346.7 L299.5 346.9 L299.9 347.2 L300.3 347.5 L300.6 347.8 L301.0 348.2 L301.3 348.5 L301.7 349.0 L301.9 349.4 L302.2 349.9 L302.5 350.3 L302.7 350.8 L302.9 351.3 L303.1 351.9 L303.3 352.4 L303.4 352.9 L303.6 353.5 L303.7 354.0 L303.7 354.6 L303.8 355.2 L303.8 355.7 L303.8 356.3 L303.7 356.8 L303.6 357.3 L303.5 357.8 L303.4 358.3 L303.3 358.8 L303.1 359.3 L302.9 359.8 L302.7 360.2 L302.4 360.6 L302.2 361.0 L301.9 361.3 L301.6 361.6 L301.3 361.9 L300.9 362.2 L300.6 362.4Z" fill="#fff" stroke="#151515" stroke-width="1.3" />
<path d="M283.6 376.3 L283.1 376.5 L282.6 376.7 L282.2 376.8 L281.7 376.9 L281.1 377.0 L280.6 377.0 L280.1 377.0 L279.6 376.9 L279.1 376.8 L278.5 376.6 L278.0 376.4 L277.5 376.2 L277.0 375.9 L276.5 375.5 L276.0 375.2 L275.6 374.8 L275.1 374.3 L274.7 373.8 L274.3 373.3 L273.9 372.8 L273.5 372.2 L273.2 371.6 L272.8 371.0 L272.6 370.4 L272.3 369.7 L272.1 369.0 L271.9 368.4 L271.7 367.7 L271.6 367.0 L271.5 366.3 L271.4 365.6 L271.4 364.9 L271.4 364.2 L271.4 363.5 L271.5 362.9 L271.6 362.2 L271.8 361.6 L271.9 361.0 L272.1 360.4 L272.4 359.8 L272.6 359.3 L272.9 358.8 L273.3 358.3 L273.6 357.9 L274.0 357.5 L274.4 357.1 L274.8 356.8 L275.2 356.5 L277.0 355.5 L277.4 355.3 L277.9 355.1 L278.4 355.0 L278.9 354.9 L279.4 354.8 L279.9 354.8 L280.4 354.8 L280.9 354.9 L281.5 355.0 L282.0 355.2 L282.5 355.4 L283.0 355.6 L283.5 355.9 L284.0 356.3 L284.5 356.6 L285.0 357.0 L285.4 357.5 L285.9 358.0 L286.3 358.5 L286.7 359.0 L287.0 359.6 L287.4 360.2 L287.7 360.8 L288.0 361.4 L288.2 362.1 L288.5 362.8 L288.7 363.4 L288.8 364.1 L289.0 364.8 L289.1 365.5 L289.1 366.2 L289.1 366.9 L289.1 367.6 L289.1 368.3 L289.0 368.9 L288.9 369.6 L288.8 370.2 L288.6 370.8 L288.4 371.4 L288.2 372.0 L287.9 372.5 L287.6 373.0 L287.3 373.5 L286.9 373.9 L286.6 374.3 L286.2 374.7 L285.7 375.0 L285.3 375.3Z" fill="#fff" stroke="#151515" stroke-width="1.4" />
<ellipse cx="279.4" cy="366.4" rx="7.8" ry="10.8" transform="rotate(-15 279.4 366.4)" fill="#fff" stroke="#151515" stroke-width="1.0" />
<ellipse cx="279.4" cy="366.4" rx="5.8" ry="8.0" transform="rotate(-15 279.4 366.4)" fill="#fff" stroke="#151515" stroke-width="1.0" />
<clipPath id="ce10"><ellipse cx="279.4" cy="366.4" rx="5.8" ry="8.0" transform="rotate(-15 279.4 366.4)"/></clipPath>
<path d="M286.7 363.9 L286.9 364.9 L287.0 366.0 L287.1 367.0 L287.0 368.0 L286.8 368.9 L286.5 369.8 L286.2 370.6 L285.7 371.3 L285.2 372.0 L284.6 372.5 L283.9 372.9 L283.2 373.1 L282.5 373.2 L281.7 373.2 L280.9 373.1 L280.1 372.8 L279.4 372.4 L278.7 371.9 L278.0 371.3 L277.4 370.5 L276.8 369.7 L276.3 368.8 L275.9 367.9 L275.6 366.9 L275.4 365.9 L275.2 364.8 L275.2 363.8 L275.3 362.8 L275.5 361.9 L275.7 361.0 L276.1 360.2 L276.6 359.5 L277.1 358.8 L277.7 358.3 L278.4 357.9 L279.1 357.7 L279.8 357.6 L280.6 357.6 L281.3 357.7 L282.1 358.0 L282.9 358.4 L283.6 358.9 L284.3 359.5 L284.9 360.3 L285.5 361.1 L286.0 362.0 L286.4 362.9 L286.7 363.9" fill="none" stroke="#444" stroke-width="0.7" clip-path="url(#ce10)"/>
<line x1="276.1" y1="368.3" x2="281.6" y2="365.1" stroke="#888" stroke-width="0.6" />
<line x1="278.4" y1="364.2" x2="280.4" y2="368.6" stroke="#888" stroke-width="0.6" />
</g>
<g id="p5">
<path d="M254.4 390.3 L253.9 389.9 L253.4 389.5 L252.9 389.1 L252.4 388.6 L251.9 388.1 L251.4 387.6 L251.0 387.1 L250.6 386.5 L250.2 386.0 L249.8 385.4 L249.5 384.8 L249.1 384.1 L248.8 383.5 L248.5 382.8 L248.3 382.1 L248.0 381.5 L247.8 380.8 L247.6 380.1 L247.5 379.4 L247.3 378.6 L247.2 377.9 L247.2 377.2 L247.1 376.5 L247.1 375.8 L247.1 375.1 L247.1 374.3 L247.2 373.6 L247.3 373.0 L247.4 372.3 L247.6 371.6 L247.7 371.0 L247.9 370.3 L248.2 369.7 L248.4 369.1 L248.7 368.5 L249.0 367.9 L249.3 367.4 L249.6 366.9 L250.0 366.4 L250.4 365.9 L250.8 365.5 L251.2 365.1 L251.7 364.7 L252.1 364.4 L252.6 364.0 L253.1 363.8 L253.6 363.5 L254.1 363.3 L254.7 363.1 L255.2 362.9 L255.8 362.8 L256.3 362.7 L256.9 362.7 L257.4 362.7 L258.0 362.7 L258.6 362.8 L259.1 362.9 L259.7 363.0 L260.3 363.1 L260.8 363.3 L261.4 363.6 L262.0 363.8 L262.5 364.1 L263.0 364.4 L263.6 364.8 L264.1 365.2 L264.6 365.6 L265.1 366.0 L265.6 366.5 L266.0 367.0 L266.5 367.5 L266.9 368.1 L267.3 368.7 L267.7 369.2 L268.0 369.9 L268.4 370.5 L268.7 371.1 L269.0 371.8 L269.3 372.4 L269.5 373.1 L269.7 373.8 L269.9 374.5 L270.1 375.2 L270.2 376.0 L270.3 376.7 L270.4 377.4 L270.5 378.1 L270.5 378.8 L270.5 379.5 L270.5 380.2 L270.4 380.9 L270.3 381.6 L270.2 382.3 L270.1 383.0 L269.9 383.7 L269.7 384.3 L269.5 384.9 L269.3 385.5 L269.0 386.1 L268.7 386.7 L268.4 387.2 L268.1 387.8 L267.7 388.3 L267.3 388.7 L266.9 389.2 L266.5 389.6 L266.1 390.0 L265.6 390.3 L265.1 390.7 L264.6 391.0 L264.1 391.2 L263.6 391.5 L263.1 391.7 L262.6 391.8 L262.0 391.9 L261.5 392.0 L260.9 392.1 L260.3 392.1 L259.8 392.1 L259.2 392.1" fill="none" stroke="#151515" stroke-width="3.7" stroke-linecap="round"/>
<path d="M254.4 390.3 L253.9 389.9 L253.4 389.5 L252.9 389.1 L252.4 388.6 L251.9 388.1 L251.4 387.6 L251.0 387.1 L250.6 386.5 L250.2 386.0 L249.8 385.4 L249.5 384.8 L249.1 384.1 L248.8 383.5 L248.5 382.8 L248.3 382.1 L248.0 381.5 L247.8 380.8 L247.6 380.1 L247.5 379.4 L247.3 378.6 L247.2 377.9 L247.2 377.2 L247.1 376.5 L247.1 375.8 L247.1 375.1 L247.1 374.3 L247.2 373.6 L247.3 373.0 L247.4 372.3 L247.6 371.6 L247.7 371.0 L247.9 370.3 L248.2 369.7 L248.4 369.1 L248.7 368.5 L249.0 367.9 L249.3 367.4 L249.6 366.9 L250.0 366.4 L250.4 365.9 L250.8 365.5 L251.2 365.1 L251.7 364.7 L252.1 364.4 L252.6 364.0 L253.1 363.8 L253.6 363.5 L254.1 363.3 L254.7 363.1 L255.2 362.9 L255.8 362.8 L256.3 362.7 L256.9 362.7 L257.4 362.7 L258.0 362.7 L258.6 362.8 L259.1 362.9 L259.7 363.0 L260.3 363.1 L260.8 363.3 L261.4 363.6 L262.0 363.8 L262.5 364.1 L263.0 364.4 L263.6 364.8 L264.1 365.2 L264.6 365.6 L265.1 366.0 L265.6 366.5 L266.0 367.0 L266.5 367.5 L266.9 368.1 L267.3 368.7 L267.7 369.2 L268.0 369.9 L268.4 370.5 L268.7 371.1 L269.0 371.8 L269.3 372.4 L269.5 373.1 L269.7 373.8 L269.9 374.5 L270.1 375.2 L270.2 376.0 L270.3 376.7 L270.4 377.4 L270.5 378.1 L270.5 378.8 L270.5 379.5 L270.5 380.2 L270.4 380.9 L270.3 381.6 L270.2 382.3 L270.1 383.0 L269.9 383.7 L269.7 384.3 L269.5 384.9 L269.3 385.5 L269.0 386.1 L268.7 386.7 L268.4 387.2 L268.1 387.8 L267.7 388.3 L267.3 388.7 L266.9 389.2 L266.5 389.6 L266.1 390.0 L265.6 390.3 L265.1 390.7 L264.6 391.0 L264.1 391.2 L263.6 391.5 L263.1 391.7 L262.6 391.8 L262.0 391.9 L261.5 392.0 L260.9 392.1 L260.3 392.1 L259.8 392.1 L259.2 392.1" fill="none" stroke="#fff" stroke-width="1.1" stroke-linecap="round"/>
<circle cx="254.6" cy="388.9" r="1.5" fill="#fff" stroke="#151515" stroke-width="1.1"/>
<circle cx="259.4" cy="390.7" r="1.5" fill="#fff" stroke="#151515" stroke-width="1.1"/>
</g>
<g id="p4l">
<path d="M242.6 405.3 L241.9 405.6 L241.2 405.9 L240.5 406.2 L239.7 406.3 L238.9 406.5 L238.1 406.5 L237.3 406.5 L236.5 406.4 L235.7 406.3 L234.9 406.1 L234.1 405.8 L233.3 405.5 L232.5 405.1 L231.7 404.6 L230.9 404.1 L230.2 403.6 L229.5 403.0 L228.8 402.3 L228.1 401.6 L227.5 400.9 L226.9 400.1 L226.3 399.3 L225.8 398.4 L225.3 397.5 L224.9 396.6 L224.5 395.7 L224.1 394.8 L223.8 393.8 L223.6 392.8 L223.4 391.9 L223.3 390.9 L223.2 389.9 L223.1 388.9 L223.2 388.0 L223.2 387.1 L223.4 386.1 L223.5 385.2 L223.8 384.4 L224.0 383.5 L224.4 382.7 L224.7 382.0 L225.2 381.2 L225.6 380.6 L226.2 379.9 L226.7 379.3 L227.3 378.8 L227.9 378.3 L228.6 377.9 L230.7 376.7 L231.4 376.3 L232.2 376.0 L232.9 375.8 L233.7 375.6 L234.4 375.5 L235.2 375.4 L236.0 375.5 L236.8 375.5 L237.7 375.7 L238.5 375.9 L239.3 376.1 L240.1 376.5 L240.9 376.9 L241.7 377.3 L242.4 377.8 L243.2 378.4 L243.9 379.0 L244.6 379.6 L245.3 380.3 L245.9 381.1 L246.5 381.8 L247.1 382.7 L247.6 383.5 L248.1 384.4 L248.5 385.3 L248.9 386.2 L249.2 387.2 L249.5 388.1 L249.8 389.1 L250.0 390.1 L250.1 391.1 L250.2 392.0 L250.2 393.0 L250.2 394.0 L250.1 394.9 L250.0 395.8 L249.8 396.7 L249.6 397.6 L249.3 398.4 L249.0 399.2 L248.6 400.0 L248.2 400.7 L247.7 401.4 L247.2 402.0 L246.7 402.6 L246.1 403.1 L245.4 403.6 L244.8 404.0Z" fill="#fff" stroke="#151515" stroke-width="1.6" />
<ellipse cx="235.6" cy="391.6" rx="11.9" ry="15.4" transform="rotate(-23 235.6 391.6)" fill="#fff" stroke="#151515" stroke-width="1.0" />
<ellipse cx="235.6" cy="391.6" rx="11.0" ry="14.3" transform="rotate(-23 235.6 391.6)" fill="none" stroke="#999" stroke-width="0.6" />
<ellipse cx="245.0" cy="389.7" rx="0.9" ry="1.2" transform="rotate(-23 245.0 389.7)" fill="none" stroke="#b8b8b8" stroke-width="0.6"/>
<ellipse cx="245.4" cy="395.9" rx="0.9" ry="1.2" transform="rotate(-23 245.4 395.9)" fill="none" stroke="#b8b8b8" stroke-width="0.6"/>
<ellipse cx="243.2" cy="400.9" rx="0.9" ry="1.2" transform="rotate(-23 243.2 400.9)" fill="none" stroke="#b8b8b8" stroke-width="0.6"/>
<ellipse cx="239.0" cy="403.4" rx="0.9" ry="1.2" transform="rotate(-23 239.0 403.4)" fill="none" stroke="#b8b8b8" stroke-width="0.6"/>
<ellipse cx="233.8" cy="402.7" rx="0.9" ry="1.2" transform="rotate(-23 233.8 402.7)" fill="none" stroke="#b8b8b8" stroke-width="0.6"/>
<ellipse cx="229.2" cy="399.1" rx="0.9" ry="1.2" transform="rotate(-23 229.2 399.1)" fill="none" stroke="#b8b8b8" stroke-width="0.6"/>
<ellipse cx="226.2" cy="393.5" rx="0.9" ry="1.2" transform="rotate(-23 226.2 393.5)" fill="none" stroke="#b8b8b8" stroke-width="0.6"/>
<ellipse cx="225.8" cy="387.3" rx="0.9" ry="1.2" transform="rotate(-23 225.8 387.3)" fill="none" stroke="#b8b8b8" stroke-width="0.6"/>
<ellipse cx="228.0" cy="382.3" rx="0.9" ry="1.2" transform="rotate(-23 228.0 382.3)" fill="none" stroke="#b8b8b8" stroke-width="0.6"/>
<ellipse cx="232.2" cy="379.8" rx="0.9" ry="1.2" transform="rotate(-23 232.2 379.8)" fill="none" stroke="#b8b8b8" stroke-width="0.6"/>
<ellipse cx="237.4" cy="380.5" rx="0.9" ry="1.2" transform="rotate(-23 237.4 380.5)" fill="none" stroke="#b8b8b8" stroke-width="0.6"/>
<ellipse cx="242.0" cy="384.1" rx="0.9" ry="1.2" transform="rotate(-23 242.0 384.1)" fill="none" stroke="#b8b8b8" stroke-width="0.6"/>
<ellipse cx="235.6" cy="391.6" rx="8.3" ry="10.8" transform="rotate(-23 235.6 391.6)" fill="none" stroke="#999" stroke-width="0.6" />
<ellipse cx="234.9" cy="392.0" rx="7.4" ry="9.5" transform="rotate(-23 234.9 392.0)" fill="#fff" stroke="#222" stroke-width="0.9" />
<clipPath id="ce11"><ellipse cx="234.9" cy="392.0" rx="7.4" ry="9.5" transform="rotate(-23 234.9 392.0)"/></clipPath>
<path d="M244.3 387.6 L244.7 388.8 L245.0 390.0 L245.2 391.2 L245.2 392.4 L245.1 393.6 L244.9 394.7 L244.6 395.7 L244.1 396.7 L243.5 397.5 L242.9 398.2 L242.1 398.8 L241.2 399.3 L240.3 399.6 L239.4 399.7 L238.4 399.7 L237.4 399.5 L236.3 399.2 L235.4 398.7 L234.4 398.1 L233.5 397.4 L232.7 396.5 L231.9 395.5 L231.3 394.5 L230.7 393.4 L230.3 392.2 L230.0 391.0 L229.8 389.8 L229.8 388.6 L229.9 387.4 L230.1 386.3 L230.4 385.3 L230.9 384.3 L231.5 383.5 L232.2 382.8 L232.9 382.2 L233.8 381.7 L234.7 381.4 L235.7 381.3 L236.6 381.3 L237.7 381.5 L238.7 381.8 L239.7 382.3 L240.6 382.9 L241.5 383.6 L242.3 384.5 L243.1 385.5 L243.7 386.5 L244.3 387.6" fill="none" stroke="#777" stroke-width="0.6" clip-path="url(#ce11)"/>
<line x1="231.4" y1="394.0" x2="237.2" y2="390.7" stroke="#666" stroke-width="0.6" />
<line x1="233.9" y1="389.7" x2="235.9" y2="394.3" stroke="#666" stroke-width="0.6" />
</g>
<g id="p3">
<path d="M216.2 415.4 L215.8 415.6 L215.3 415.8 L214.8 416.0 L214.3 416.1 L213.8 416.2 L213.3 416.2 L212.8 416.2 L212.3 416.1 L211.8 416.0 L211.2 415.8 L210.7 415.6 L210.2 415.4 L209.7 415.1 L209.2 414.8 L208.8 414.4 L208.3 414.0 L207.8 413.6 L207.4 413.2 L207.0 412.7 L206.6 412.2 L206.3 411.6 L205.9 411.0 L205.6 410.4 L205.3 409.8 L205.1 409.2 L204.8 408.6 L204.7 407.9 L204.5 407.2 L204.4 406.6 L204.3 405.9 L204.2 405.2 L204.2 404.5 L204.2 403.9 L204.2 403.2 L204.3 402.6 L204.4 402.0 L204.6 401.3 L204.7 400.8 L204.9 400.2 L205.2 399.6 L205.4 399.1 L205.7 398.6 L206.1 398.2 L206.4 397.7 L206.8 397.3 L207.2 397.0 L207.6 396.7 L208.0 396.4 L210.3 395.1 L210.7 394.9 L211.2 394.7 L211.7 394.5 L212.2 394.4 L212.7 394.3 L213.2 394.3 L213.7 394.3 L214.2 394.4 L214.7 394.5 L215.3 394.7 L215.8 394.9 L216.3 395.1 L216.8 395.4 L217.3 395.7 L217.7 396.1 L218.2 396.5 L218.7 396.9 L219.1 397.3 L219.5 397.8 L219.9 398.3 L220.2 398.9 L220.6 399.5 L220.9 400.1 L221.2 400.7 L221.4 401.3 L221.7 401.9 L221.8 402.6 L222.0 403.3 L222.1 403.9 L222.2 404.6 L222.3 405.3 L222.3 406.0 L222.3 406.6 L222.3 407.3 L222.2 407.9 L222.1 408.5 L221.9 409.2 L221.8 409.7 L221.6 410.3 L221.3 410.9 L221.1 411.4 L220.8 411.9 L220.4 412.3 L220.1 412.8 L219.7 413.2 L219.3 413.5 L218.9 413.8 L218.5 414.1Z" fill="#fff" stroke="#151515" stroke-width="1.4" />
<ellipse cx="212.1" cy="405.9" rx="7.7" ry="10.4" transform="rotate(-15 212.1 405.9)" fill="#fff" stroke="#151515" stroke-width="1.0" />
<ellipse cx="212.1" cy="405.9" rx="5.7" ry="7.7" transform="rotate(-15 212.1 405.9)" fill="#fff" stroke="#151515" stroke-width="1.0" />
<clipPath id="ce12"><ellipse cx="212.1" cy="405.9" rx="5.7" ry="7.7" transform="rotate(-15 212.1 405.9)"/></clipPath>
<path d="M219.9 403.1 L220.1 404.1 L220.2 405.1 L220.2 406.1 L220.2 407.0 L220.0 408.0 L219.7 408.8 L219.3 409.6 L218.9 410.3 L218.3 410.9 L217.7 411.4 L217.1 411.8 L216.4 412.1 L215.6 412.2 L214.9 412.2 L214.1 412.1 L213.4 411.8 L212.6 411.4 L211.9 410.9 L211.2 410.3 L210.6 409.6 L210.0 408.8 L209.6 408.0 L209.2 407.0 L208.9 406.1 L208.6 405.1 L208.5 404.1 L208.5 403.1 L208.6 402.1 L208.8 401.2 L209.1 400.4 L209.4 399.6 L209.9 398.9 L210.4 398.3 L211.0 397.8 L211.7 397.4 L212.4 397.1 L213.1 397.0 L213.9 397.0 L214.6 397.1 L215.4 397.4 L216.2 397.8 L216.9 398.3 L217.5 398.9 L218.2 399.6 L218.7 400.4 L219.2 401.2 L219.6 402.2 L219.9 403.1" fill="none" stroke="#444" stroke-width="0.7" clip-path="url(#ce12)"/>
<line x1="208.9" y1="407.8" x2="214.3" y2="404.7" stroke="#888" stroke-width="0.6" />
<line x1="211.2" y1="403.7" x2="213.0" y2="408.1" stroke="#888" stroke-width="0.6" />
</g>
<g id="p2">
<path d="M189.9 437.1 L189.2 437.5 L188.5 437.8 L187.7 438.1 L186.9 438.2 L186.1 438.3 L185.3 438.4 L184.4 438.3 L183.6 438.2 L182.8 438.0 L182.0 437.7 L181.1 437.4 L180.3 437.0 L179.6 436.5 L178.8 436.0 L178.0 435.4 L177.3 434.7 L176.6 434.0 L175.9 433.2 L175.3 432.4 L174.7 431.6 L174.1 430.6 L173.6 429.7 L173.1 428.7 L172.7 427.7 L172.3 426.6 L172.0 425.6 L171.7 424.5 L171.5 423.4 L171.3 422.3 L171.2 421.1 L171.1 420.0 L171.1 418.9 L171.1 417.8 L171.2 416.7 L171.3 415.7 L171.5 414.6 L171.8 413.6 L172.1 412.7 L172.4 411.7 L172.8 410.8 L173.2 410.0 L173.7 409.2 L174.3 408.4 L174.8 407.7 L175.4 407.1 L176.1 406.5 L176.7 406.0 L177.5 405.5 L184.2 401.7 L184.9 401.3 L185.6 401.0 L186.4 400.7 L187.2 400.6 L188.0 400.5 L188.8 400.4 L189.7 400.5 L190.5 400.6 L191.3 400.8 L192.1 401.1 L193.0 401.4 L193.8 401.8 L194.5 402.3 L195.3 402.8 L196.1 403.4 L196.8 404.1 L197.5 404.8 L198.2 405.6 L198.8 406.4 L199.4 407.2 L200.0 408.2 L200.5 409.1 L201.0 410.1 L201.4 411.1 L201.8 412.2 L202.1 413.2 L202.4 414.3 L202.6 415.4 L202.8 416.5 L202.9 417.7 L203.0 418.8 L203.0 419.9 L203.0 421.0 L202.9 422.1 L202.8 423.1 L202.6 424.2 L202.3 425.2 L202.0 426.1 L201.7 427.1 L201.3 428.0 L200.9 428.8 L200.4 429.6 L199.8 430.4 L199.3 431.1 L198.7 431.7 L198.0 432.3 L197.4 432.8 L196.6 433.3Z" fill="#fff" stroke="#151515" stroke-width="1.7" />
<path d="M179.7 404.8 L180.4 404.5 L181.1 404.2 L181.8 403.9 L182.6 403.8 L183.4 403.7 L184.2 403.7 L185.0 403.7 L185.8 403.8 L186.6 404.0 L187.4 404.3 L188.2 404.6 L189.0 405.0 L189.7 405.4 L190.5 406.0 L191.2 406.5 L191.9 407.2 L192.6 407.9 L193.2 408.6 L193.9 409.4 L194.4 410.3 L195.0 411.1 L195.5 412.1 L195.9 413.0 L196.4 414.0 L196.7 415.0 L197.1 416.1 L197.3 417.1 L197.6 418.2 L197.7 419.3 L197.9 420.4 L197.9 421.4 L198.0 422.5 L197.9 423.6 L197.9 424.6 L197.7 425.7 L197.5 426.7 L197.3 427.6 L197.0 428.6 L196.7 429.5 L196.3 430.4 L195.9 431.2 L195.4 432.0 L194.9 432.7 L194.3 433.4 L193.7 434.0 L193.1 434.6 L192.5 435.1 L191.8 435.5" fill="none" stroke="#aaa" stroke-width="0.6" />
<ellipse cx="183.7" cy="421.3" rx="12.4" ry="17.2" transform="rotate(-12.0 183.7 421.3)" fill="#fff" stroke="#444" stroke-width="0.8" />
<ellipse cx="183.7" cy="421.3" rx="11.2" ry="15.5" transform="rotate(-12.0 183.7 421.3)" fill="none" stroke="#a8a8a8" stroke-width="0.6" />
<ellipse cx="183.7" cy="421.3" rx="10.4" ry="14.5" transform="rotate(-12.0 183.7 421.3)" fill="none" stroke="#c0c0c0" stroke-width="0.5" />
<ellipse cx="192.8" cy="421.8" rx="1.2" ry="1.5" transform="rotate(-12.0 192.8 421.8)" fill="none" stroke="#c0c0c0" stroke-width="0.6"/>
<ellipse cx="191.5" cy="428.9" rx="1.2" ry="1.5" transform="rotate(-12.0 191.5 428.9)" fill="none" stroke="#c0c0c0" stroke-width="0.6"/>
<ellipse cx="187.3" cy="433.1" rx="1.2" ry="1.5" transform="rotate(-12.0 187.3 433.1)" fill="none" stroke="#c0c0c0" stroke-width="0.6"/>
<ellipse cx="181.7" cy="432.9" rx="1.2" ry="1.5" transform="rotate(-12.0 181.7 432.9)" fill="none" stroke="#c0c0c0" stroke-width="0.6"/>
<ellipse cx="176.9" cy="428.2" rx="1.2" ry="1.5" transform="rotate(-12.0 176.9 428.2)" fill="none" stroke="#c0c0c0" stroke-width="0.6"/>
<ellipse cx="174.6" cy="420.9" rx="1.2" ry="1.5" transform="rotate(-12.0 174.6 420.9)" fill="none" stroke="#c0c0c0" stroke-width="0.6"/>
<ellipse cx="175.8" cy="413.8" rx="1.2" ry="1.5" transform="rotate(-12.0 175.8 413.8)" fill="none" stroke="#c0c0c0" stroke-width="0.6"/>
<ellipse cx="180.0" cy="409.5" rx="1.2" ry="1.5" transform="rotate(-12.0 180.0 409.5)" fill="none" stroke="#c0c0c0" stroke-width="0.6"/>
<ellipse cx="185.6" cy="409.8" rx="1.2" ry="1.5" transform="rotate(-12.0 185.6 409.8)" fill="none" stroke="#c0c0c0" stroke-width="0.6"/>
<ellipse cx="190.5" cy="414.5" rx="1.2" ry="1.5" transform="rotate(-12.0 190.5 414.5)" fill="none" stroke="#c0c0c0" stroke-width="0.6"/>
<ellipse cx="183.7" cy="421.3" rx="7.4" ry="10.3" transform="rotate(-12.0 183.7 421.3)" fill="none" stroke="#b0b0b0" stroke-width="0.6" />
<ellipse cx="185.0" cy="420.6" rx="6.7" ry="9.3" transform="rotate(-12.0 185.0 420.6)" fill="#fff" stroke="#777" stroke-width="0.6" />
<ellipse cx="185.0" cy="420.6" rx="5.7" ry="7.9" transform="rotate(-12.0 185.0 420.6)" fill="#fff" stroke="#222" stroke-width="0.9" />
<clipPath id="ce13"><ellipse cx="185.0" cy="420.6" rx="5.7" ry="7.9" transform="rotate(-12.0 185.0 420.6)"/></clipPath>
<path d="M194.6 417.1 L194.8 418.1 L194.8 419.1 L194.8 420.1 L194.7 421.1 L194.4 422.0 L194.1 422.9 L193.7 423.7 L193.2 424.4 L192.7 425.0 L192.1 425.4 L191.4 425.8 L190.7 426.0 L189.9 426.1 L189.2 426.1 L188.4 425.9 L187.7 425.6 L186.9 425.1 L186.2 424.6 L185.6 423.9 L185.0 423.2 L184.5 422.3 L184.1 421.4 L183.7 420.4 L183.4 419.4 L183.3 418.4 L183.2 417.4 L183.2 416.4 L183.4 415.4 L183.6 414.5 L183.9 413.6 L184.3 412.8 L184.8 412.1 L185.4 411.6 L186.0 411.1 L186.7 410.7 L187.4 410.5 L188.1 410.4 L188.9 410.5 L189.6 410.7 L190.4 411.0 L191.1 411.4 L191.8 411.9 L192.4 412.6 L193.0 413.4 L193.5 414.2 L194.0 415.1 L194.3 416.1 L194.6 417.1" fill="none" stroke="#777" stroke-width="0.6" clip-path="url(#ce13)"/>
<line x1="181.7" y1="422.5" x2="187.2" y2="419.3" stroke="#666" stroke-width="0.6" />
<line x1="184.0" y1="418.4" x2="185.9" y2="422.8" stroke="#666" stroke-width="0.6" />
</g>
<g id="p24">
<path d="M603.0 367.7 L606.2 363.8 L610.5 361.3 L615.0 363.6 L616.3 369.8 L613.1 373.7 L608.8 376.2 L604.3 373.9Z" fill="#fff" stroke="#151515" stroke-width="1.1" />
<path d="M612.0 372.3 L608.8 376.2 L613.1 373.7 L616.3 369.8Z" fill="#fff" stroke="#151515" stroke-width="0.8" stroke-linejoin="round"/>
<path d="M606.2 363.8 L610.7 366.1 L615.0 363.6 L610.5 361.3Z" fill="#fff" stroke="#151515" stroke-width="0.8" stroke-linejoin="round"/>
<path d="M610.7 366.1 L612.0 372.3 L616.3 369.8 L615.0 363.6Z" fill="#fff" stroke="#151515" stroke-width="0.8" stroke-linejoin="round"/>
<path d="M612.0 372.3 L608.8 376.2 L604.3 373.9 L603.0 367.7 L606.2 363.8 L610.7 366.1Z" fill="#fff" stroke="#151515" stroke-width="1.1" stroke-linejoin="round"/>
<path d="M595.1 380.4 L595.0 380.5 L594.9 380.5 L594.7 380.6 L594.6 380.6 L594.5 380.6 L594.3 380.6 L594.2 380.6 L594.1 380.6 L593.9 380.6 L593.8 380.5 L593.6 380.5 L593.5 380.4 L593.4 380.3 L593.2 380.2 L593.1 380.1 L593.0 380.0 L592.9 379.9 L592.8 379.8 L592.7 379.6 L592.6 379.5 L592.5 379.3 L592.4 379.2 L592.3 379.0 L592.2 378.8 L592.2 378.6 L592.1 378.5 L592.1 378.3 L592.0 378.1 L592.0 377.9 L592.0 377.7 L592.0 377.5 L591.9 377.3 L592.0 377.2 L592.0 377.0 L592.0 376.8 L592.0 376.6 L592.1 376.5 L592.1 376.3 L592.2 376.1 L592.2 376.0 L592.3 375.8 L592.4 375.7 L592.5 375.6 L592.6 375.5 L592.7 375.3 L592.8 375.2 L592.9 375.2 L593.0 375.1 L606.4 367.3 L606.6 367.3 L606.7 367.2 L606.8 367.2 L607.0 367.2 L607.1 367.1 L607.2 367.1 L607.4 367.1 L607.5 367.2 L607.7 367.2 L607.8 367.2 L607.9 367.3 L608.1 367.4 L608.2 367.4 L608.3 367.5 L608.5 367.6 L608.6 367.7 L608.7 367.9 L608.8 368.0 L608.9 368.1 L609.0 368.3 L609.1 368.4 L609.2 368.6 L609.3 368.8 L609.4 368.9 L609.4 369.1 L609.5 369.3 L609.5 369.5 L609.6 369.7 L609.6 369.8 L609.6 370.0 L609.6 370.2 L609.6 370.4 L609.6 370.6 L609.6 370.8 L609.6 371.0 L609.6 371.1 L609.5 371.3 L609.5 371.5 L609.4 371.6 L609.3 371.8 L609.3 371.9 L609.2 372.1 L609.1 372.2 L609.0 372.3 L608.9 372.4 L608.8 372.5 L608.7 372.6 L608.6 372.7Z" fill="#fff" stroke="#151515" stroke-width="1.1" />
<path d="M596.7 379.3 L596.3 379.7 L595.8 379.8 L595.3 379.8 L594.8 379.6 L594.3 379.2 L593.9 378.7 L593.6 378.1 L593.4 377.4 L593.3 376.7 L593.3 376.0 L593.5 375.4 L593.8 374.8" fill="none" stroke="#222" stroke-width="0.9" />
<path d="M597.9 378.7 L597.5 379.0 L597.0 379.1 L596.5 379.1 L596.0 378.9 L595.5 378.5 L595.1 378.0 L594.8 377.4 L594.6 376.7 L594.5 376.0 L594.5 375.3 L594.7 374.7 L595.0 374.1" fill="none" stroke="#222" stroke-width="0.9" />
<path d="M599.2 378.0 L598.7 378.3 L598.2 378.4 L597.7 378.4 L597.2 378.2 L596.7 377.8 L596.3 377.3 L596.0 376.7 L595.8 376.0 L595.7 375.3 L595.8 374.6 L595.9 374.0 L596.2 373.5" fill="none" stroke="#222" stroke-width="0.9" />
<path d="M600.4 377.3 L599.9 377.6 L599.4 377.7 L598.9 377.7 L598.4 377.5 L597.9 377.1 L597.5 376.6 L597.2 376.0 L597.0 375.3 L596.9 374.6 L597.0 373.9 L597.1 373.3 L597.4 372.8" fill="none" stroke="#222" stroke-width="0.9" />
<path d="M601.6 376.6 L601.1 376.9 L600.6 377.0 L600.1 377.0 L599.6 376.8 L599.1 376.4 L598.7 375.9 L598.4 375.3 L598.2 374.6 L598.1 373.9 L598.2 373.2 L598.3 372.6 L598.6 372.1" fill="none" stroke="#222" stroke-width="0.9" />
<path d="M602.8 375.9 L602.3 376.2 L601.8 376.3 L601.3 376.3 L600.8 376.1 L600.3 375.7 L599.9 375.2 L599.6 374.6 L599.4 373.9 L599.3 373.2 L599.4 372.5 L599.5 371.9 L599.8 371.4" fill="none" stroke="#222" stroke-width="0.9" />
<path d="M604.0 375.2 L603.5 375.5 L603.0 375.6 L602.5 375.6 L602.0 375.4 L601.5 375.0 L601.1 374.5 L600.8 373.9 L600.6 373.2 L600.5 372.5 L600.6 371.8 L600.7 371.2 L601.1 370.7" fill="none" stroke="#222" stroke-width="0.9" />
<path d="M605.2 374.5 L604.7 374.8 L604.2 374.9 L603.7 374.9 L603.2 374.7 L602.7 374.3 L602.3 373.8 L602.0 373.2 L601.8 372.5 L601.7 371.8 L601.8 371.1 L602.0 370.5 L602.3 370.0" fill="none" stroke="#222" stroke-width="0.9" />
<path d="M606.4 373.8 L605.9 374.1 L605.4 374.2 L604.9 374.2 L604.4 374.0 L603.9 373.6 L603.5 373.1 L603.2 372.5 L603.0 371.8 L602.9 371.1 L603.0 370.4 L603.2 369.8 L603.5 369.3" fill="none" stroke="#222" stroke-width="0.9" />
<path d="M607.6 373.1 L607.1 373.4 L606.6 373.6 L606.1 373.5 L605.6 373.3 L605.1 372.9 L604.7 372.4 L604.4 371.8 L604.2 371.1 L604.1 370.4 L604.2 369.7 L604.4 369.1 L604.7 368.6" fill="none" stroke="#222" stroke-width="0.9" />
<ellipse cx="594.1" cy="377.8" rx="2.1" ry="2.9" transform="rotate(-12 594.1 377.8)" fill="#fff" stroke="#151515" stroke-width="1.0" />
<path d="M619.5 403.2 L622.7 399.3 L627.0 396.8 L631.5 399.1 L632.8 405.3 L629.6 409.2 L625.3 411.7 L620.8 409.4Z" fill="#fff" stroke="#151515" stroke-width="1.1" />
<path d="M628.5 407.8 L625.3 411.7 L629.6 409.2 L632.8 405.3Z" fill="#fff" stroke="#151515" stroke-width="0.8" stroke-linejoin="round"/>
<path d="M622.7 399.3 L627.2 401.6 L631.5 399.1 L627.0 396.8Z" fill="#fff" stroke="#151515" stroke-width="0.8" stroke-linejoin="round"/>
<path d="M627.2 401.6 L628.5 407.8 L632.8 405.3 L631.5 399.1Z" fill="#fff" stroke="#151515" stroke-width="0.8" stroke-linejoin="round"/>
<path d="M628.5 407.8 L625.3 411.7 L620.8 409.4 L619.5 403.2 L622.7 399.3 L627.2 401.6Z" fill="#fff" stroke="#151515" stroke-width="1.1" stroke-linejoin="round"/>
<path d="M611.6 415.9 L611.5 416.0 L611.4 416.0 L611.2 416.1 L611.1 416.1 L611.0 416.1 L610.8 416.1 L610.7 416.1 L610.6 416.1 L610.4 416.1 L610.3 416.0 L610.1 416.0 L610.0 415.9 L609.9 415.8 L609.7 415.7 L609.6 415.6 L609.5 415.5 L609.4 415.4 L609.3 415.3 L609.2 415.1 L609.1 415.0 L609.0 414.8 L608.9 414.7 L608.8 414.5 L608.7 414.3 L608.7 414.1 L608.6 414.0 L608.6 413.8 L608.5 413.6 L608.5 413.4 L608.5 413.2 L608.5 413.0 L608.4 412.8 L608.5 412.7 L608.5 412.5 L608.5 412.3 L608.5 412.1 L608.6 412.0 L608.6 411.8 L608.7 411.6 L608.7 411.5 L608.8 411.3 L608.9 411.2 L609.0 411.1 L609.1 411.0 L609.2 410.8 L609.3 410.7 L609.4 410.7 L609.5 410.6 L622.9 402.8 L623.1 402.8 L623.2 402.7 L623.3 402.7 L623.5 402.7 L623.6 402.6 L623.7 402.6 L623.9 402.6 L624.0 402.7 L624.2 402.7 L624.3 402.7 L624.4 402.8 L624.6 402.9 L624.7 402.9 L624.8 403.0 L625.0 403.1 L625.1 403.2 L625.2 403.4 L625.3 403.5 L625.4 403.6 L625.5 403.8 L625.6 403.9 L625.7 404.1 L625.8 404.3 L625.9 404.4 L625.9 404.6 L626.0 404.8 L626.0 405.0 L626.1 405.2 L626.1 405.3 L626.1 405.5 L626.1 405.7 L626.1 405.9 L626.1 406.1 L626.1 406.3 L626.1 406.5 L626.1 406.6 L626.0 406.8 L626.0 407.0 L625.9 407.1 L625.8 407.3 L625.8 407.4 L625.7 407.6 L625.6 407.7 L625.5 407.8 L625.4 407.9 L625.3 408.0 L625.2 408.1 L625.1 408.2Z" fill="#fff" stroke="#151515" stroke-width="1.1" />
<path d="M613.2 414.8 L612.8 415.2 L612.3 415.3 L611.8 415.3 L611.3 415.1 L610.8 414.7 L610.4 414.2 L610.1 413.6 L609.9 412.9 L609.8 412.2 L609.8 411.5 L610.0 410.9 L610.3 410.3" fill="none" stroke="#222" stroke-width="0.9" />
<path d="M614.4 414.2 L614.0 414.5 L613.5 414.6 L613.0 414.6 L612.5 414.4 L612.0 414.0 L611.6 413.5 L611.3 412.9 L611.1 412.2 L611.0 411.5 L611.0 410.8 L611.2 410.2 L611.5 409.6" fill="none" stroke="#222" stroke-width="0.9" />
<path d="M615.7 413.5 L615.2 413.8 L614.7 413.9 L614.2 413.9 L613.7 413.7 L613.2 413.3 L612.8 412.8 L612.5 412.2 L612.3 411.5 L612.2 410.8 L612.3 410.1 L612.4 409.5 L612.7 409.0" fill="none" stroke="#222" stroke-width="0.9" />
<path d="M616.9 412.8 L616.4 413.1 L615.9 413.2 L615.4 413.2 L614.9 413.0 L614.4 412.6 L614.0 412.1 L613.7 411.5 L613.5 410.8 L613.4 410.1 L613.5 409.4 L613.6 408.8 L613.9 408.3" fill="none" stroke="#222" stroke-width="0.9" />
<path d="M618.1 412.1 L617.6 412.4 L617.1 412.5 L616.6 412.5 L616.1 412.3 L615.6 411.9 L615.2 411.4 L614.9 410.8 L614.7 410.1 L614.6 409.4 L614.7 408.7 L614.8 408.1 L615.1 407.6" fill="none" stroke="#222" stroke-width="0.9" />
<path d="M619.3 411.4 L618.8 411.7 L618.3 411.8 L617.8 411.8 L617.3 411.6 L616.8 411.2 L616.4 410.7 L616.1 410.1 L615.9 409.4 L615.8 408.7 L615.9 408.0 L616.0 407.4 L616.3 406.9" fill="none" stroke="#222" stroke-width="0.9" />
<path d="M620.5 410.7 L620.0 411.0 L619.5 411.1 L619.0 411.1 L618.5 410.9 L618.0 410.5 L617.6 410.0 L617.3 409.4 L617.1 408.7 L617.0 408.0 L617.1 407.3 L617.2 406.7 L617.6 406.2" fill="none" stroke="#222" stroke-width="0.9" />
<path d="M621.7 410.0 L621.2 410.3 L620.7 410.4 L620.2 410.4 L619.7 410.2 L619.2 409.8 L618.8 409.3 L618.5 408.7 L618.3 408.0 L618.2 407.3 L618.3 406.6 L618.5 406.0 L618.8 405.5" fill="none" stroke="#222" stroke-width="0.9" />
<path d="M622.9 409.3 L622.4 409.6 L621.9 409.7 L621.4 409.7 L620.9 409.5 L620.4 409.1 L620.0 408.6 L619.7 408.0 L619.5 407.3 L619.4 406.6 L619.5 405.9 L619.7 405.3 L620.0 404.8" fill="none" stroke="#222" stroke-width="0.9" />
<path d="M624.1 408.6 L623.6 408.9 L623.1 409.1 L622.6 409.0 L622.1 408.8 L621.6 408.4 L621.2 407.9 L620.9 407.3 L620.7 406.6 L620.6 405.9 L620.7 405.2 L620.9 404.6 L621.2 404.1" fill="none" stroke="#222" stroke-width="0.9" />
<ellipse cx="610.6" cy="413.2" rx="2.1" ry="2.9" transform="rotate(-12 610.6 413.2)" fill="#fff" stroke="#151515" stroke-width="1.0" />
</g>
<g id="p23">
<path d="M555.1 393.4 L555.1 392.6 L555.3 391.8 L555.7 390.9 L556.2 390.2 L556.9 389.5 L557.7 388.9 L560.7 387.1 L561.6 386.7 L562.5 386.4 L563.4 386.3 L564.2 386.4 L565.0 386.6 L570.4 388.5 L571.0 388.7 L571.6 389.0 L572.2 389.3 L572.8 389.6 L573.5 389.9 L574.1 390.3 L574.7 390.7 L575.3 391.1 L576.0 391.6 L576.6 392.1 L577.3 392.6 L577.9 393.2 L578.6 393.8 L579.2 394.4 L579.9 395.0 L580.5 395.7 L581.2 396.4 L581.9 397.2 L582.5 397.9 L583.2 398.7 L583.9 399.6 L584.6 400.5 L585.4 401.5 L586.2 402.7 L587.1 403.9 L587.8 404.9 L588.5 405.9 L589.1 406.8 L589.6 407.7 L590.2 408.6 L590.6 409.4 L591.1 410.3 L591.6 411.1 L592.0 411.9 L592.4 412.7 L592.7 413.5 L593.0 414.3 L593.3 415.1 L593.6 415.9 L593.9 416.6 L594.1 417.4 L594.3 418.1 L594.4 418.8 L594.6 419.5 L594.7 420.2 L594.8 420.8 L594.8 421.5 L594.9 422.1 L595.0 427.8 L594.9 428.7 L594.7 429.5 L594.4 430.3 L593.8 431.1 L593.1 431.8 L592.3 432.4 L589.3 434.1 L588.5 434.5 L587.5 434.8 L586.6 434.9 L585.8 434.9 L585.0 434.6 L579.6 432.8 L579.0 432.5 L578.4 432.3 L577.8 432.0 L577.2 431.7 L576.6 431.3 L575.9 431.0 L575.3 430.5 L574.7 430.1 L574.0 429.6 L573.4 429.1 L572.8 428.6 L572.1 428.1 L571.5 427.5 L570.8 426.9 L570.2 426.2 L569.5 425.5 L568.8 424.8 L568.2 424.1 L567.5 423.3 L566.8 422.5 L566.1 421.7 L565.4 420.7 L564.7 419.8 L563.8 418.6 L562.9 417.3 L562.2 416.3 L561.6 415.4 L561.0 414.4 L560.4 413.6 L559.9 412.7 L559.4 411.8 L558.9 411.0 L558.5 410.1 L558.1 409.3 L557.7 408.5 L557.3 407.7 L557.0 406.9 L556.7 406.1 L556.4 405.4 L556.2 404.6 L555.9 403.9 L555.8 403.2 L555.6 402.5 L555.4 401.8 L555.3 401.1 L555.2 400.4 L555.2 399.8 L555.2 399.1Z" fill="#fff" stroke="#151515" stroke-width="1.7" />
<path d="M566.8 416.8 L565.9 415.6 L565.2 414.6 L564.6 413.6 L564.0 412.7 L563.4 411.8 L562.9 410.9 L562.4 410.1 L561.9 409.2 L561.5 408.4 L561.1 407.6 L560.7 406.8 L560.4 406.0 L560.0 405.2 L559.7 404.4 L559.4 403.6 L559.2 402.9 L559.0 402.1 L558.8 401.4 L558.6 400.7 L558.5 400.0 L558.4 399.3 L558.3 398.7 L558.2 398.0 L558.2 397.4 L558.1 391.7 L558.1 390.8 L558.3 390.0 L558.7 389.2 L559.2 388.4 L559.9 387.7 L560.7 387.1 L561.6 386.7 L562.5 386.4 L563.4 386.3 L564.2 386.4 L565.0 386.6 L570.4 388.5 L571.0 388.7 L571.6 389.0 L572.2 389.3 L572.8 389.6 L573.5 389.9 L574.1 390.3 L574.7 390.7 L575.3 391.1 L576.0 391.6 L576.6 392.1 L577.3 392.6 L577.9 393.2 L578.6 393.8 L579.2 394.4 L579.9 395.0 L580.5 395.7 L581.2 396.4 L581.9 397.2 L582.5 397.9 L583.2 398.7 L583.9 399.6 L584.6 400.5 L585.4 401.5 L586.2 402.7 L587.1 403.9 L587.8 404.9 L588.5 405.9 L589.1 406.8 L589.6 407.7 L590.2 408.6 L590.6 409.4 L591.1 410.3 L591.6 411.1 L592.0 411.9 L592.4 412.7 L592.7 413.5 L593.0 414.3 L593.3 415.1 L593.6 415.9 L593.9 416.6 L594.1 417.4 L594.3 418.1 L594.4 418.8 L594.6 419.5 L594.7 420.2 L594.8 420.8 L594.8 421.5 L594.9 422.1 L595.0 427.8 L594.9 428.7 L594.7 429.5 L594.4 430.3 L593.8 431.1 L593.1 431.8 L592.3 432.4 L591.5 432.8 L590.6 433.1 L589.7 433.2 L588.8 433.1 L588.0 432.9 L582.6 431.0 L582.0 430.8 L581.4 430.5 L580.8 430.2 L580.2 429.9 L579.6 429.6 L579.0 429.2 L578.3 428.8 L577.7 428.4 L577.1 427.9 L576.4 427.4 L575.8 426.9 L575.1 426.3 L574.5 425.7 L573.8 425.1 L573.2 424.5 L572.5 423.8 L571.9 423.1 L571.2 422.3 L570.5 421.6 L569.9 420.8 L569.2 419.9 L568.5 419.0 L567.7 418.0Z" fill="none" stroke="#444" stroke-width="0.7" />
<path d="M563.8 418.6 L562.9 417.3 L562.2 416.3 L561.6 415.4 L561.0 414.4 L560.4 413.6 L559.9 412.7 L559.4 411.8 L558.9 411.0 L558.5 410.1 L558.1 409.3 L557.7 408.5 L557.3 407.7 L557.0 406.9 L556.7 406.1 L556.4 405.4 L556.2 404.6 L555.9 403.9 L555.8 403.2 L555.6 402.5 L555.4 401.8 L555.3 401.1 L555.2 400.4 L555.2 399.8 L555.2 399.1 L555.1 393.4 L555.1 392.6 L555.3 391.8 L555.7 390.9 L556.2 390.2 L556.9 389.5 L557.7 388.9 L558.6 388.5 L559.5 388.2 L560.4 388.1 L561.2 388.1 L562.0 388.4 L567.4 390.2 L568.0 390.5 L568.6 390.7 L569.2 391.0 L569.8 391.3 L570.4 391.7 L571.1 392.0 L571.7 392.5 L572.3 392.9 L573.0 393.4 L573.6 393.9 L574.2 394.4 L574.9 394.9 L575.5 395.5 L576.2 396.1 L576.8 396.8 L577.5 397.5 L578.2 398.2 L578.8 398.9 L579.5 399.7 L580.2 400.5 L580.9 401.3 L581.6 402.3 L582.3 403.2 L583.2 404.4 L584.1 405.7 L584.8 406.7 L585.4 407.6 L586.0 408.6 L586.6 409.4 L587.1 410.3 L587.6 411.2 L588.1 412.0 L588.5 412.9 L588.9 413.7 L589.3 414.5 L589.7 415.3 L590.0 416.1 L590.3 416.9 L590.6 417.6 L590.8 418.4 L591.1 419.1 L591.2 419.8 L591.4 420.5 L591.6 421.2 L591.7 421.9 L591.8 422.6 L591.8 423.2 L591.8 423.9 L591.9 429.6 L591.9 430.4 L591.7 431.2 L591.3 432.1 L590.8 432.8 L590.1 433.5 L589.3 434.1 L588.4 434.5 L587.5 434.8 L586.6 434.9 L585.8 434.9 L585.0 434.6 L579.6 432.8 L579.0 432.5 L578.4 432.3 L577.8 432.0 L577.2 431.7 L576.6 431.3 L575.9 431.0 L575.3 430.5 L574.7 430.1 L574.0 429.6 L573.4 429.1 L572.8 428.6 L572.1 428.1 L571.5 427.5 L570.8 426.9 L570.2 426.2 L569.5 425.5 L568.8 424.8 L568.2 424.1 L567.5 423.3 L566.8 422.5 L566.1 421.7 L565.4 420.7 L564.7 419.8Z" fill="#fff" stroke="#151515" stroke-width="1.2" />
<ellipse cx="560.9" cy="394.1" rx="1.6" ry="2.2" transform="rotate(-20 560.9 394.1)" fill="none" stroke="#444" stroke-width="0.8"/>
<ellipse cx="586.1" cy="428.9" rx="1.6" ry="2.2" transform="rotate(-20 586.1 428.9)" fill="none" stroke="#444" stroke-width="0.8"/>
<ellipse cx="571" cy="413" rx="12" ry="18.5" transform="rotate(-26 571.5 412.5)" fill="none" stroke="#666" stroke-width="2.4"/>
<ellipse cx="571" cy="413" rx="12" ry="18.5" transform="rotate(-26 571.5 412.5)" fill="none" stroke="#333" stroke-width="0.7"/>
<ellipse cx="570.5" cy="413.5" rx="10" ry="15" transform="rotate(-22 570.5 413.5)" fill="none" stroke="#999" stroke-width="0.7"/>
<ellipse cx="572" cy="412" rx="7" ry="11" transform="rotate(-22 572 412)" fill="none" stroke="#aaa" stroke-width="0.7"/>
<line x1="568.4" y1="414.3" x2="573.6" y2="411.3" stroke="#666" stroke-width="0.6" />
<line x1="570.6" y1="410.4" x2="572.4" y2="414.6" stroke="#666" stroke-width="0.6" />
</g>
<g id="p22">
<ellipse cx="543.8" cy="429.5" rx="13.0" ry="18.6" transform="rotate(-20 543.8 429.5)" fill="none" stroke="#151515" stroke-width="2.5" />
</g>
<g id="p21">
<path d="M522.2 460.0 L521.4 460.3 L520.7 460.7 L519.9 460.9 L519.0 461.1 L518.2 461.2 L517.3 461.2 L516.5 461.2 L515.6 461.1 L514.7 460.9 L513.8 460.7 L512.9 460.4 L512.1 460.0 L511.2 459.5 L510.3 459.0 L509.5 458.4 L508.7 457.8 L507.9 457.1 L507.1 456.4 L506.4 455.6 L505.7 454.7 L505.1 453.8 L504.5 452.9 L503.9 451.9 L503.4 450.9 L502.9 449.9 L502.5 448.9 L502.1 447.8 L501.8 446.7 L501.5 445.6 L501.3 444.5 L501.1 443.4 L501.0 442.3 L501.0 441.3 L501.0 440.2 L501.1 439.1 L501.2 438.1 L501.4 437.1 L501.6 436.2 L501.9 435.2 L502.3 434.3 L502.7 433.5 L503.1 432.7 L503.7 431.9 L504.2 431.2 L504.8 430.6 L505.4 430.0 L506.1 429.5 L506.8 429.0 L510.3 427.0 L511.0 426.7 L511.8 426.3 L512.6 426.1 L513.4 425.9 L514.3 425.8 L515.1 425.8 L516.0 425.8 L516.9 425.9 L517.8 426.1 L518.7 426.3 L519.5 426.6 L520.4 427.0 L521.3 427.5 L522.1 428.0 L523.0 428.6 L523.8 429.2 L524.6 429.9 L525.3 430.6 L526.0 431.4 L526.7 432.3 L527.4 433.2 L528.0 434.1 L528.6 435.1 L529.1 436.1 L529.6 437.1 L530.0 438.1 L530.4 439.2 L530.7 440.3 L531.0 441.4 L531.2 442.5 L531.3 443.6 L531.4 444.7 L531.5 445.7 L531.5 446.8 L531.4 447.9 L531.3 448.9 L531.1 449.9 L530.8 450.8 L530.5 451.8 L530.2 452.7 L529.8 453.5 L529.3 454.3 L528.8 455.1 L528.3 455.8 L527.7 456.4 L527.0 457.0 L526.3 457.5 L525.6 458.0Z" fill="#fff" stroke="#151515" stroke-width="1.5" />
<ellipse cx="514.5" cy="444.5" rx="12.8" ry="17.3" transform="rotate(-22 514.5 444.5)" fill="#fff" stroke="#333" stroke-width="0.8" />
<path d="M511.4 429.6 L512.0 429.5 L512.6 429.5 L513.2 429.5 L513.8 429.6 L514.5 429.7 L515.1 429.9 L515.7 430.1 L516.4 430.3 L517.0 430.6 L517.6 430.9 L518.2 431.2 L518.8 431.6 L519.4 432.0 L520.0 432.5 L520.5 433.0 L521.1 433.5 L521.6 434.0 L522.1 434.6 L522.6 435.2 L523.1 435.9 L523.5 436.5 L524.0 437.2 L524.4 437.9 L524.7 438.6 L525.1 439.3 L525.4 440.1 L525.7 440.8 L525.9 441.6 L526.2 442.3 L526.4 443.1 L526.5 443.9 L526.6 444.7 L526.7 445.5 L526.8 446.2 L526.8 447.0 L526.8 447.8 L526.8 448.5 L526.7 449.3 L526.6 450.0 L526.5 450.7 L526.3 451.4 L526.1 452.1 L525.9 452.7 L525.6 453.3 L525.3 453.9 L525.0 454.5 L524.7 455.1 L524.3 455.6" fill="none" stroke="#888" stroke-width="0.6" />
<ellipse cx="514.5" cy="444.5" rx="7.0" ry="9.5" transform="rotate(-22 514.5 444.5)" fill="none" stroke="#999" stroke-width="0.7" />
<ellipse cx="514.5" cy="444.5" rx="6.0" ry="8.1" transform="rotate(-22 514.5 444.5)" fill="none" stroke="#bbb" stroke-width="0.6" />
<line x1="510.3" y1="446.9" x2="517.3" y2="442.9" stroke="#666" stroke-width="0.6" />
<line x1="513.3" y1="441.7" x2="515.7" y2="447.3" stroke="#666" stroke-width="0.6" />
</g>
<g id="p20">
<path d="M494.5 469.8 L494.1 470.0 L493.6 470.2 L493.1 470.3 L492.6 470.4 L492.1 470.5 L491.6 470.5 L491.1 470.5 L490.6 470.4 L490.1 470.3 L489.6 470.2 L489.1 470.0 L488.6 469.7 L488.1 469.5 L487.6 469.2 L487.1 468.8 L486.7 468.4 L486.2 468.0 L485.8 467.5 L485.4 467.0 L485.0 466.5 L484.7 466.0 L484.3 465.4 L484.0 464.8 L483.7 464.2 L483.5 463.6 L483.3 463.0 L483.1 462.3 L482.9 461.7 L482.8 461.0 L482.7 460.3 L482.6 459.7 L482.6 459.0 L482.6 458.3 L482.7 457.7 L482.7 457.1 L482.8 456.4 L483.0 455.8 L483.1 455.2 L483.3 454.7 L483.6 454.1 L483.8 453.6 L484.1 453.1 L484.5 452.7 L484.8 452.3 L485.2 451.9 L485.6 451.5 L486.0 451.2 L486.4 450.9 L490.9 448.3 L491.3 448.1 L491.8 447.9 L492.3 447.8 L492.8 447.7 L493.3 447.6 L493.8 447.6 L494.3 447.6 L494.8 447.7 L495.3 447.8 L495.8 447.9 L496.3 448.1 L496.8 448.4 L497.3 448.6 L497.8 448.9 L498.3 449.3 L498.7 449.7 L499.2 450.1 L499.6 450.6 L500.0 451.1 L500.4 451.6 L500.7 452.1 L501.1 452.7 L501.4 453.3 L501.7 453.9 L501.9 454.5 L502.1 455.1 L502.3 455.8 L502.5 456.4 L502.6 457.1 L502.7 457.8 L502.8 458.4 L502.8 459.1 L502.8 459.8 L502.7 460.4 L502.7 461.0 L502.6 461.7 L502.4 462.3 L502.3 462.9 L502.1 463.4 L501.8 464.0 L501.6 464.5 L501.3 465.0 L500.9 465.4 L500.6 465.8 L500.2 466.2 L499.8 466.6 L499.4 466.9 L499.0 467.2Z" fill="#fff" stroke="#151515" stroke-width="1.4" />
<ellipse cx="490.5" cy="460.3" rx="7.6" ry="10.3" transform="rotate(-15 490.5 460.3)" fill="#fff" stroke="#151515" stroke-width="1.0" />
<ellipse cx="490.5" cy="460.3" rx="6.1" ry="8.3" transform="rotate(-15 490.5 460.3)" fill="#fff" stroke="#151515" stroke-width="1.0" />
<clipPath id="ce14"><ellipse cx="490.5" cy="460.3" rx="6.1" ry="8.3" transform="rotate(-15 490.5 460.3)"/></clipPath>
<path d="M500.8 456.2 L501.1 457.2 L501.2 458.3 L501.2 459.4 L501.1 460.4 L500.9 461.4 L500.6 462.3 L500.2 463.1 L499.7 463.9 L499.2 464.5 L498.5 465.1 L497.8 465.5 L497.1 465.7 L496.3 465.9 L495.5 465.9 L494.7 465.7 L493.8 465.5 L493.0 465.1 L492.3 464.5 L491.6 463.9 L490.9 463.1 L490.3 462.3 L489.8 461.4 L489.4 460.4 L489.0 459.3 L488.8 458.3 L488.7 457.2 L488.7 456.2 L488.7 455.1 L488.9 454.2 L489.2 453.2 L489.6 452.4 L490.1 451.6 L490.7 451.0 L491.3 450.5 L492.0 450.0 L492.8 449.8 L493.6 449.6 L494.4 449.6 L495.2 449.8 L496.0 450.0 L496.8 450.5 L497.6 451.0 L498.3 451.6 L499.0 452.4 L499.6 453.2 L500.1 454.2 L500.5 455.1 L500.8 456.2" fill="none" stroke="#444" stroke-width="0.7" clip-path="url(#ce14)"/>
<line x1="487.0" y1="462.3" x2="492.8" y2="459.0" stroke="#888" stroke-width="0.6" />
<line x1="489.5" y1="458.0" x2="491.5" y2="462.7" stroke="#888" stroke-width="0.6" />
</g>
<g id="p19">
<path d="M460.8 492.0 L460.1 491.5 L459.4 491.0 L458.8 490.4 L458.2 489.8 L457.5 489.2 L456.9 488.5 L456.4 487.8 L455.8 487.1 L455.3 486.3 L454.8 485.5 L454.3 484.7 L453.9 483.9 L453.5 483.0 L453.1 482.1 L452.8 481.2 L452.5 480.3 L452.2 479.4 L451.9 478.5 L451.7 477.5 L451.6 476.6 L451.4 475.6 L451.3 474.7 L451.2 473.7 L451.2 472.8 L451.2 471.8 L451.3 470.9 L451.3 470.0 L451.5 469.1 L451.6 468.2 L451.8 467.3 L452.0 466.4 L452.3 465.6 L452.6 464.8 L452.9 464.0 L453.2 463.2 L453.6 462.5 L454.0 461.8 L454.5 461.1 L455.0 460.4 L455.5 459.8 L456.0 459.2 L456.6 458.7 L457.1 458.2 L457.7 457.7 L458.4 457.3 L459.0 456.9 L459.7 456.6 L460.3 456.3 L461.0 456.1 L461.7 455.9 L462.5 455.7 L463.2 455.6 L463.9 455.6 L464.7 455.5 L465.4 455.6 L466.1 455.7 L466.9 455.8 L467.6 455.9 L468.4 456.2 L469.1 456.4 L469.9 456.7 L470.6 457.1 L471.3 457.5 L472.0 457.9 L472.7 458.4 L473.4 458.9 L474.0 459.4 L474.7 460.0 L475.3 460.7 L475.9 461.3 L476.5 462.0 L477.0 462.7 L477.5 463.5 L478.0 464.3 L478.5 465.1 L479.0 465.9 L479.4 466.7 L479.8 467.6 L480.1 468.5 L480.5 469.4 L480.7 470.3 L481.0 471.3 L481.2 472.2 L481.4 473.1 L481.5 474.1 L481.7 475.0 L481.7 476.0 L481.8 476.9 L481.8 477.9 L481.8 478.8 L481.7 479.7 L481.6 480.6 L481.4 481.6 L481.3 482.4 L481.1 483.3 L480.8 484.2 L480.5 485.0 L480.2 485.8 L479.9 486.6 L479.5 487.3 L479.1 488.0 L478.6 488.7 L478.2 489.4 L477.7 490.0 L477.2 490.6 L476.6 491.1 L476.0 491.7 L475.4 492.1 L474.8 492.6 L474.2 492.9 L473.5 493.3 L472.9 493.6 L472.2 493.8 L471.5 494.1 L470.8 494.2 L470.0 494.4 L469.3 494.4 L468.6 494.5 L467.8 494.4 L467.1 494.4" fill="none" stroke="#151515" stroke-width="3.7" stroke-linecap="round"/>
<path d="M460.8 492.0 L460.1 491.5 L459.4 491.0 L458.8 490.4 L458.2 489.8 L457.5 489.2 L456.9 488.5 L456.4 487.8 L455.8 487.1 L455.3 486.3 L454.8 485.5 L454.3 484.7 L453.9 483.9 L453.5 483.0 L453.1 482.1 L452.8 481.2 L452.5 480.3 L452.2 479.4 L451.9 478.5 L451.7 477.5 L451.6 476.6 L451.4 475.6 L451.3 474.7 L451.2 473.7 L451.2 472.8 L451.2 471.8 L451.3 470.9 L451.3 470.0 L451.5 469.1 L451.6 468.2 L451.8 467.3 L452.0 466.4 L452.3 465.6 L452.6 464.8 L452.9 464.0 L453.2 463.2 L453.6 462.5 L454.0 461.8 L454.5 461.1 L455.0 460.4 L455.5 459.8 L456.0 459.2 L456.6 458.7 L457.1 458.2 L457.7 457.7 L458.4 457.3 L459.0 456.9 L459.7 456.6 L460.3 456.3 L461.0 456.1 L461.7 455.9 L462.5 455.7 L463.2 455.6 L463.9 455.6 L464.7 455.5 L465.4 455.6 L466.1 455.7 L466.9 455.8 L467.6 455.9 L468.4 456.2 L469.1 456.4 L469.9 456.7 L470.6 457.1 L471.3 457.5 L472.0 457.9 L472.7 458.4 L473.4 458.9 L474.0 459.4 L474.7 460.0 L475.3 460.7 L475.9 461.3 L476.5 462.0 L477.0 462.7 L477.5 463.5 L478.0 464.3 L478.5 465.1 L479.0 465.9 L479.4 466.7 L479.8 467.6 L480.1 468.5 L480.5 469.4 L480.7 470.3 L481.0 471.3 L481.2 472.2 L481.4 473.1 L481.5 474.1 L481.7 475.0 L481.7 476.0 L481.8 476.9 L481.8 477.9 L481.8 478.8 L481.7 479.7 L481.6 480.6 L481.4 481.6 L481.3 482.4 L481.1 483.3 L480.8 484.2 L480.5 485.0 L480.2 485.8 L479.9 486.6 L479.5 487.3 L479.1 488.0 L478.6 488.7 L478.2 489.4 L477.7 490.0 L477.2 490.6 L476.6 491.1 L476.0 491.7 L475.4 492.1 L474.8 492.6 L474.2 492.9 L473.5 493.3 L472.9 493.6 L472.2 493.8 L471.5 494.1 L470.8 494.2 L470.0 494.4 L469.3 494.4 L468.6 494.5 L467.8 494.4 L467.1 494.4" fill="none" stroke="#fff" stroke-width="1.1" stroke-linecap="round"/>
<circle cx="460.9" cy="490.6" r="1.5" fill="#fff" stroke="#151515" stroke-width="1.1"/>
<circle cx="467.3" cy="493.0" r="1.5" fill="#fff" stroke="#151515" stroke-width="1.1"/>
</g>
<g id="p31">
<path d="M440.8 512.1 L439.9 512.6 L438.9 513.0 L437.9 513.3 L436.9 513.5 L435.9 513.6 L434.8 513.7 L433.8 513.7 L432.7 513.5 L431.6 513.3 L430.5 513.0 L429.4 512.7 L428.3 512.2 L427.3 511.7 L426.2 511.0 L425.2 510.3 L424.2 509.6 L423.2 508.8 L422.3 507.8 L421.4 506.9 L420.5 505.9 L419.7 504.8 L419.0 503.7 L418.3 502.5 L417.6 501.3 L417.0 500.1 L416.5 498.8 L416.0 497.5 L415.6 496.2 L415.3 494.9 L415.0 493.5 L414.8 492.2 L414.7 490.9 L414.6 489.6 L414.7 488.3 L414.7 487.0 L414.9 485.8 L415.1 484.6 L415.4 483.4 L415.8 482.3 L416.2 481.2 L416.7 480.1 L417.3 479.2 L417.9 478.2 L418.6 477.4 L419.3 476.6 L420.1 475.9 L420.9 475.3 L421.8 474.7 L427.0 471.7 L427.9 471.2 L428.9 470.8 L429.8 470.5 L430.9 470.3 L431.9 470.2 L433.0 470.1 L434.0 470.1 L435.1 470.3 L436.2 470.5 L437.3 470.8 L438.4 471.1 L439.5 471.6 L440.5 472.1 L441.6 472.8 L442.6 473.5 L443.6 474.2 L444.6 475.0 L445.5 476.0 L446.4 476.9 L447.3 477.9 L448.1 479.0 L448.8 480.1 L449.5 481.3 L450.2 482.5 L450.8 483.7 L451.3 485.0 L451.8 486.3 L452.2 487.6 L452.5 488.9 L452.8 490.3 L453.0 491.6 L453.1 492.9 L453.2 494.2 L453.1 495.5 L453.0 496.8 L452.9 498.0 L452.7 499.2 L452.4 500.4 L452.0 501.5 L451.6 502.6 L451.1 503.7 L450.5 504.6 L449.9 505.6 L449.2 506.4 L448.5 507.2 L447.7 507.9 L446.9 508.5 L446.0 509.1Z" fill="#fff" stroke="#151515" stroke-width="1.3" />
<path d="M424.7 473.1 L425.6 472.6 L426.5 472.2 L427.5 471.9 L428.5 471.7 L429.6 471.5 L430.6 471.5 L431.7 471.5 L432.8 471.6 L433.9 471.8 L435.0 472.1 L436.0 472.5 L437.1 473.0 L438.2 473.5 L439.2 474.1 L440.3 474.8 L441.3 475.6 L442.2 476.4 L443.2 477.3 L444.1 478.3 L444.9 479.3 L445.7 480.4 L446.5 481.5 L447.2 482.6 L447.8 483.8 L448.4 485.1 L449.0 486.4 L449.4 487.6 L449.8 489.0 L450.2 490.3 L450.4 491.6 L450.6 492.9 L450.8 494.3 L450.8 495.6 L450.8 496.9 L450.7 498.1 L450.6 499.4 L450.3 500.6 L450.0 501.8 L449.7 502.9 L449.2 504.0 L448.7 505.0 L448.2 506.0 L447.6 506.9 L446.9 507.8 L446.1 508.5 L445.4 509.2 L444.5 509.9 L443.7 510.4" fill="none" stroke="#151515" stroke-width="1.0" />
<path d="M425.4 472.6 L426.4 472.1 L427.3 471.7 L428.3 471.4 L429.3 471.2 L430.3 471.1 L431.4 471.0 L432.5 471.0 L433.6 471.2 L434.6 471.4 L435.7 471.7 L436.8 472.0 L437.9 472.5 L439.0 473.0 L440.0 473.7 L441.0 474.4 L442.0 475.1 L443.0 475.9 L443.9 476.9 L444.8 477.8 L445.7 478.8 L446.5 479.9 L447.3 481.0 L448.0 482.2 L448.6 483.4 L449.2 484.6 L449.7 485.9 L450.2 487.2 L450.6 488.5 L450.9 489.8 L451.2 491.2 L451.4 492.5 L451.5 493.8 L451.6 495.1 L451.6 496.4 L451.5 497.7 L451.3 498.9 L451.1 500.1 L450.8 501.3 L450.4 502.4 L450.0 503.5 L449.5 504.6 L449.0 505.5 L448.3 506.5 L447.7 507.3 L446.9 508.1 L446.1 508.8 L445.3 509.4 L444.4 510.0" fill="none" stroke="#555" stroke-width="0.6" />
<ellipse cx="431.3" cy="493.4" rx="15.8" ry="21.0" transform="rotate(-23 431.3 493.4)" fill="#fff" stroke="#151515" stroke-width="1.2" />
<ellipse cx="431.3" cy="493.4" rx="15.0" ry="19.9" transform="rotate(-23 431.3 493.4)" fill="none" stroke="#555" stroke-width="0.6" />
<ellipse cx="431.3" cy="493.4" rx="13.5" ry="18.1" transform="rotate(-23 431.3 493.4)" fill="#fff" stroke="#151515" stroke-width="1.2" />
<clipPath id="ce15"><ellipse cx="431.3" cy="493.4" rx="13.5" ry="18.1" transform="rotate(-23 431.3 493.4)"/></clipPath>
<path d="M448.2 485.5 L449.0 487.7 L449.6 489.9 L449.9 492.1 L450.0 494.4 L449.9 496.5 L449.5 498.6 L448.9 500.5 L448.1 502.2 L447.0 503.8 L445.8 505.1 L444.4 506.2 L442.9 507.0 L441.2 507.5 L439.5 507.8 L437.7 507.7 L435.9 507.4 L434.0 506.8 L432.2 505.9 L430.5 504.7 L428.9 503.3 L427.3 501.7 L426.0 499.9 L424.8 498.0 L423.8 495.9 L423.0 493.7 L422.4 491.5 L422.0 489.3 L421.9 487.0 L422.1 484.9 L422.4 482.8 L423.1 480.9 L423.9 479.2 L424.9 477.6 L426.1 476.3 L427.5 475.2 L429.1 474.4 L430.7 473.9 L432.5 473.6 L434.3 473.7 L436.1 474.0 L437.9 474.6 L439.7 475.5 L441.5 476.7 L443.1 478.1 L444.6 479.7 L446.0 481.5 L447.2 483.4 L448.2 485.5" fill="none" stroke="#151515" stroke-width="1.4" clip-path="url(#ce15)"/>
<path d="M445.9 486.9 L446.7 489.0 L447.2 491.3 L447.6 493.5 L447.7 495.7 L447.5 497.9 L447.2 499.9 L446.6 501.8 L445.7 503.6 L444.7 505.1 L443.5 506.4 L442.1 507.5 L440.6 508.3 L438.9 508.9 L437.2 509.1 L435.4 509.1 L433.5 508.8 L431.7 508.1 L429.9 507.2 L428.2 506.1 L426.5 504.7 L425.0 503.1 L423.6 501.3 L422.4 499.3 L421.4 497.2 L420.6 495.1 L420.0 492.8 L419.7 490.6 L419.6 488.4 L419.7 486.2 L420.1 484.2 L420.7 482.3 L421.5 480.5 L422.6 479.0 L423.8 477.7 L425.2 476.6 L426.7 475.8 L428.4 475.2 L430.1 475.0 L431.9 475.0 L433.8 475.3 L435.6 476.0 L437.4 476.9 L439.1 478.0 L440.8 479.4 L442.3 481.0 L443.7 482.8 L444.8 484.8 L445.9 486.9" fill="none" stroke="#555" stroke-width="0.7" clip-path="url(#ce15)"/>
<line x1="426.6" y1="496.1" x2="434.4" y2="491.6" stroke="#666" stroke-width="0.6" />
<line x1="429.9" y1="490.2" x2="432.7" y2="496.5" stroke="#666" stroke-width="0.6" />
</g>
<g id="p18">
<path d="M405.5 531.6 L404.7 532.0 L403.9 532.3 L403.0 532.6 L402.1 532.8 L401.2 532.9 L400.3 532.9 L399.4 532.9 L398.5 532.7 L397.6 532.5 L396.7 532.2 L395.8 531.9 L394.9 531.4 L394.0 530.9 L393.1 530.3 L392.3 529.6 L391.5 528.9 L390.7 528.1 L390.0 527.2 L389.3 526.3 L388.6 525.4 L388.0 524.4 L387.4 523.3 L386.9 522.2 L386.4 521.1 L386.0 519.9 L385.6 518.7 L385.3 517.5 L385.0 516.3 L384.8 515.1 L384.7 513.8 L384.6 512.6 L384.6 511.4 L384.6 510.2 L384.7 509.0 L384.9 507.8 L385.1 506.6 L385.3 505.5 L385.7 504.4 L386.1 503.4 L386.5 502.4 L387.0 501.4 L387.5 500.6 L388.1 499.7 L388.7 498.9 L389.4 498.2 L390.1 497.6 L390.9 497.0 L391.7 496.5 L399.1 492.2 L399.9 491.8 L400.7 491.5 L401.6 491.2 L402.5 491.0 L403.4 490.9 L404.3 490.9 L405.2 490.9 L406.1 491.1 L407.0 491.3 L407.9 491.6 L408.8 491.9 L409.7 492.4 L410.6 492.9 L411.5 493.5 L412.3 494.2 L413.1 494.9 L413.9 495.7 L414.6 496.6 L415.3 497.5 L416.0 498.4 L416.6 499.4 L417.2 500.5 L417.7 501.6 L418.2 502.7 L418.6 503.9 L419.0 505.1 L419.3 506.3 L419.6 507.5 L419.8 508.7 L419.9 510.0 L420.0 511.2 L420.0 512.4 L420.0 513.6 L419.9 514.8 L419.7 516.0 L419.5 517.2 L419.3 518.3 L418.9 519.4 L418.5 520.4 L418.1 521.4 L417.6 522.4 L417.1 523.2 L416.5 524.1 L415.9 524.9 L415.2 525.6 L414.5 526.2 L413.7 526.8 L412.9 527.3Z" fill="#fff" stroke="#151515" stroke-width="1.7" />
<path d="M394.1 495.8 L394.9 495.4 L395.7 495.0 L396.5 494.8 L397.4 494.6 L398.3 494.5 L399.1 494.4 L400.0 494.5 L400.9 494.6 L401.8 494.8 L402.7 495.1 L403.6 495.5 L404.4 495.9 L405.3 496.4 L406.1 497.0 L406.9 497.6 L407.7 498.4 L408.4 499.1 L409.2 500.0 L409.8 500.8 L410.5 501.8 L411.1 502.8 L411.6 503.8 L412.2 504.8 L412.6 505.9 L413.0 507.1 L413.4 508.2 L413.7 509.4 L414.0 510.6 L414.2 511.8 L414.3 513.0 L414.4 514.2 L414.4 515.3 L414.4 516.5 L414.3 517.7 L414.1 518.8 L413.9 520.0 L413.7 521.0 L413.3 522.1 L413.0 523.1 L412.5 524.1 L412.1 525.0 L411.5 525.8 L411.0 526.7 L410.4 527.4 L409.7 528.1 L409.0 528.7 L408.3 529.3 L407.5 529.8" fill="none" stroke="#aaa" stroke-width="0.6" />
<ellipse cx="398.6" cy="514.0" rx="13.7" ry="19.1" transform="rotate(-12.0 398.6 514.0)" fill="#fff" stroke="#444" stroke-width="0.8" />
<ellipse cx="398.6" cy="514.0" rx="12.4" ry="17.2" transform="rotate(-12.0 398.6 514.0)" fill="none" stroke="#a8a8a8" stroke-width="0.6" />
<ellipse cx="398.6" cy="514.0" rx="11.5" ry="16.0" transform="rotate(-12.0 398.6 514.0)" fill="none" stroke="#c0c0c0" stroke-width="0.5" />
<ellipse cx="408.6" cy="514.5" rx="1.4" ry="1.7" transform="rotate(-12.0 408.6 514.5)" fill="none" stroke="#c0c0c0" stroke-width="0.6"/>
<ellipse cx="407.3" cy="522.4" rx="1.4" ry="1.7" transform="rotate(-12.0 407.3 522.4)" fill="none" stroke="#c0c0c0" stroke-width="0.6"/>
<ellipse cx="402.6" cy="527.1" rx="1.4" ry="1.7" transform="rotate(-12.0 402.6 527.1)" fill="none" stroke="#c0c0c0" stroke-width="0.6"/>
<ellipse cx="396.4" cy="526.8" rx="1.4" ry="1.7" transform="rotate(-12.0 396.4 526.8)" fill="none" stroke="#c0c0c0" stroke-width="0.6"/>
<ellipse cx="391.0" cy="521.6" rx="1.4" ry="1.7" transform="rotate(-12.0 391.0 521.6)" fill="none" stroke="#c0c0c0" stroke-width="0.6"/>
<ellipse cx="388.5" cy="513.5" rx="1.4" ry="1.7" transform="rotate(-12.0 388.5 513.5)" fill="none" stroke="#c0c0c0" stroke-width="0.6"/>
<ellipse cx="389.9" cy="505.7" rx="1.4" ry="1.7" transform="rotate(-12.0 389.9 505.7)" fill="none" stroke="#c0c0c0" stroke-width="0.6"/>
<ellipse cx="394.5" cy="501.0" rx="1.4" ry="1.7" transform="rotate(-12.0 394.5 501.0)" fill="none" stroke="#c0c0c0" stroke-width="0.6"/>
<ellipse cx="400.7" cy="501.3" rx="1.4" ry="1.7" transform="rotate(-12.0 400.7 501.3)" fill="none" stroke="#c0c0c0" stroke-width="0.6"/>
<ellipse cx="406.1" cy="506.5" rx="1.4" ry="1.7" transform="rotate(-12.0 406.1 506.5)" fill="none" stroke="#c0c0c0" stroke-width="0.6"/>
<ellipse cx="398.6" cy="514.0" rx="8.2" ry="11.4" transform="rotate(-12.0 398.6 514.0)" fill="none" stroke="#b0b0b0" stroke-width="0.6" />
<ellipse cx="399.9" cy="513.3" rx="7.5" ry="10.4" transform="rotate(-12.0 399.9 513.3)" fill="#fff" stroke="#777" stroke-width="0.6" />
<ellipse cx="399.9" cy="513.3" rx="6.3" ry="8.8" transform="rotate(-12.0 399.9 513.3)" fill="#fff" stroke="#222" stroke-width="0.9" />
<clipPath id="ce16"><ellipse cx="399.9" cy="513.3" rx="6.3" ry="8.8" transform="rotate(-12.0 399.9 513.3)"/></clipPath>
<path d="M410.5 509.4 L410.7 510.5 L410.8 511.7 L410.8 512.8 L410.6 513.9 L410.4 514.9 L410.0 515.9 L409.6 516.7 L409.0 517.5 L408.4 518.1 L407.7 518.7 L407.0 519.1 L406.2 519.3 L405.3 519.4 L404.5 519.4 L403.7 519.2 L402.8 518.8 L402.0 518.3 L401.3 517.7 L400.5 517.0 L399.9 516.2 L399.3 515.2 L398.8 514.2 L398.5 513.1 L398.2 512.0 L398.0 510.9 L397.9 509.8 L397.9 508.6 L398.1 507.6 L398.3 506.5 L398.7 505.6 L399.1 504.7 L399.7 503.9 L400.3 503.3 L401.0 502.8 L401.7 502.4 L402.5 502.1 L403.3 502.0 L404.2 502.1 L405.0 502.3 L405.9 502.6 L406.7 503.1 L407.4 503.7 L408.1 504.5 L408.8 505.3 L409.4 506.2 L409.8 507.2 L410.2 508.3 L410.5 509.4" fill="none" stroke="#777" stroke-width="0.6" clip-path="url(#ce16)"/>
<line x1="396.2" y1="515.4" x2="402.3" y2="511.9" stroke="#666" stroke-width="0.6" />
<line x1="398.8" y1="510.8" x2="400.9" y2="515.8" stroke="#666" stroke-width="0.6" />
</g>
<g id="p1">
<path d="M379.6 525.2 L379.7 525.6 L380.9 526.4 L380.9 527.3 L379.8 527.9 L379.8 528.3 L379.7 528.7 L380.6 530.1 L380.3 530.9 L379.1 530.7 L378.9 531.0 L378.7 531.3 L379.1 533.0 L378.6 533.5 L377.4 532.6 L377.2 532.8 L376.9 532.9 L376.7 534.6 L376.1 534.7 L375.2 533.3 L375.0 533.3 L374.7 533.2 L373.9 534.5 L373.3 534.2 L372.9 532.5 L372.7 532.3 L372.4 532.1 L371.3 532.8 L370.7 532.2 L371.0 530.5 L370.8 530.2 L370.6 529.9 L369.3 529.8 L369.0 528.9 L369.7 527.7 L369.6 527.3 L369.6 526.9 L368.4 526.1 L368.3 525.2 L369.4 524.6 L369.5 524.2 L369.5 523.8 L368.7 522.4 L368.9 521.6 L370.2 521.8 L370.4 521.5 L370.5 521.2 L370.1 519.5 L370.6 519.0 L371.8 519.9 L372.1 519.7 L372.3 519.6 L372.5 517.9 L373.2 517.8 L374.0 519.2 L374.3 519.2 L374.6 519.3 L375.3 518.0 L376.0 518.3 L376.3 520.0 L376.6 520.2 L376.8 520.4 L378.0 519.7 L378.5 520.3 L378.3 522.0 L378.5 522.3 L378.7 522.6 L380.0 522.7 L380.3 523.6 L379.5 524.8Z" fill="#fff" stroke="#151515" stroke-width="1.1" />
<path d="M351.7 547.5 L351.4 547.7 L351.0 547.8 L350.7 547.9 L350.4 548.0 L350.1 548.0 L349.7 548.0 L349.4 548.0 L349.0 548.0 L348.7 547.9 L348.4 547.8 L348.0 547.6 L347.7 547.5 L347.4 547.3 L347.0 547.0 L346.7 546.8 L346.4 546.5 L346.2 546.2 L345.9 545.9 L345.6 545.6 L345.4 545.2 L345.1 544.8 L344.9 544.4 L344.7 544.0 L344.5 543.6 L344.4 543.2 L344.2 542.7 L344.1 542.3 L344.0 541.8 L344.0 541.4 L343.9 540.9 L343.9 540.5 L343.9 540.0 L343.9 539.6 L343.9 539.1 L344.0 538.7 L344.0 538.2 L344.2 537.8 L344.3 537.4 L344.4 537.0 L344.6 536.7 L344.8 536.3 L345.0 536.0 L345.2 535.7 L345.4 535.4 L345.7 535.1 L345.9 534.9 L346.2 534.7 L346.5 534.5 L372.0 519.7 L372.3 519.6 L372.7 519.4 L373.0 519.3 L373.3 519.3 L373.6 519.2 L374.0 519.2 L374.3 519.2 L374.7 519.3 L375.0 519.4 L375.3 519.5 L375.7 519.6 L376.0 519.8 L376.3 520.0 L376.7 520.2 L377.0 520.5 L377.3 520.7 L377.5 521.0 L377.8 521.3 L378.1 521.7 L378.3 522.0 L378.6 522.4 L378.8 522.8 L379.0 523.2 L379.2 523.6 L379.3 524.1 L379.5 524.5 L379.6 525.0 L379.7 525.4 L379.7 525.9 L379.8 526.3 L379.8 526.8 L379.8 527.2 L379.8 527.7 L379.8 528.1 L379.7 528.6 L379.7 529.0 L379.5 529.4 L379.4 529.8 L379.3 530.2 L379.1 530.6 L378.9 530.9 L378.7 531.3 L378.5 531.6 L378.3 531.9 L378.0 532.1 L377.8 532.4 L377.5 532.6 L377.2 532.8Z" fill="#1a1a1a" stroke="none" stroke-width="0" />
<path d="M355.2 540.2 L355.4 542.8 L380.9 528.1 L380.8 525.4Z" fill="#fff" stroke="none" stroke-width="0" />
<path d="M355.2 543.9 L354.5 546.3 L380.1 531.5 L380.8 529.2Z" fill="#fff" stroke="none" stroke-width="0" />
<path d="M354.0 547.1 L352.6 548.6 L378.1 533.9 L379.6 532.4Z" fill="#fff" stroke="none" stroke-width="0" />
<path d="M346.3 532.9 L348.2 532.5 L373.7 517.7 L371.8 518.2Z" fill="#fff" stroke="none" stroke-width="0" />
<path d="M349.0 532.6 L351.0 533.3 L376.5 518.6 L374.6 517.8Z" fill="#fff" stroke="none" stroke-width="0" />
<path d="M351.8 533.9 L353.4 535.6 L378.9 520.9 L377.3 519.1Z" fill="#fff" stroke="none" stroke-width="0" />
<path d="M354.0 536.6 L355.0 539.0 L380.5 524.3 L379.5 521.8Z" fill="#fff" stroke="none" stroke-width="0" />
<path d="M379.6 525.2 L379.7 525.6 L380.9 526.4 L380.9 527.3 L379.8 527.9 L379.8 528.3 L379.8 528.3 L379.7 528.7 L380.6 530.1 L380.3 530.9 L379.1 530.7 L378.9 531.0 L378.9 531.0 L378.7 531.3 L379.1 533.0 L378.6 533.5 L377.4 532.6 L377.2 532.8" fill="none" stroke="#151515" stroke-width="0.8800000000000001" stroke-linejoin="round"/>
<path d="M372.1 519.7 L372.3 519.6 L372.5 517.9 L373.2 517.8 L374.0 519.2 L374.3 519.2 L374.3 519.2 L374.6 519.3 L375.3 518.0 L376.0 518.3 L376.3 520.0 L376.6 520.2 L376.6 520.2 L376.8 520.4 L378.0 519.7 L378.5 520.3 L378.3 522.0 L378.5 522.3 L378.5 522.3 L378.7 522.6 L380.0 522.7 L380.3 523.6 L379.5 524.8 L379.6 525.2 L379.6 525.2 L379.7 525.6 L380.9 526.4 L380.9 527.3 L379.8 527.9 L379.8 528.3" fill="none" stroke="#151515" stroke-width="0.8800000000000001" stroke-linejoin="round"/>
<line x1="346.0" y1="533.1" x2="371.5" y2="518.4" stroke="#151515" stroke-width="0.8800000000000001" />
<line x1="352.2" y1="548.9" x2="377.7" y2="534.1" stroke="#151515" stroke-width="0.8800000000000001" />
<path d="M354.1 539.9 L354.1 540.3 L355.3 541.2 L355.4 542.1 L354.3 542.7 L354.2 543.1 L354.2 543.4 L355.0 544.8 L354.8 545.6 L353.5 545.5 L353.3 545.8 L353.2 546.0 L353.6 547.8 L353.1 548.3 L351.9 547.4 L351.6 547.5 L351.4 547.7 L351.2 549.3 L350.5 549.5 L349.7 548.0 L349.4 548.0 L349.1 548.0 L348.4 549.3 L347.7 549.0 L347.4 547.3 L347.1 547.1 L346.9 546.9 L345.7 547.6 L345.2 546.9 L345.4 545.3 L345.2 545.0 L345.0 544.7 L343.7 544.5 L343.4 543.7 L344.2 542.4 L344.1 542.1 L344.0 541.7 L342.8 540.8 L342.8 539.9 L343.9 539.3 L343.9 538.9 L344.0 538.6 L343.1 537.2 L343.4 536.4 L344.6 536.5 L344.8 536.2 L345.0 536.0 L344.6 534.2 L345.1 533.7 L346.3 534.6 L346.5 534.5 L346.8 534.3 L347.0 532.7 L347.6 532.5 L348.5 534.0 L348.7 534.0 L349.0 534.0 L349.8 532.7 L350.4 533.0 L350.8 534.7 L351.0 534.9 L351.3 535.1 L352.4 534.4 L353.0 535.1 L352.7 536.7 L352.9 537.0 L353.1 537.3 L354.4 537.5 L354.7 538.3 L354.0 539.6Z" fill="#fff" stroke="none" stroke-width="0" />
<path d="M354.1 539.9 L354.1 540.3 L355.3 541.2 L355.4 542.1 L354.3 542.7 L354.2 543.1 L354.2 543.4 L355.0 544.8 L354.8 545.6 L353.5 545.5 L353.3 545.8 L353.2 546.0 L353.6 547.8 L353.1 548.3 L351.9 547.4 L351.6 547.5" fill="none" stroke="#333" stroke-width="0.7" stroke-linejoin="round"/>
<path d="M351.6 547.5 L351.4 547.7 L351.2 549.3 L350.5 549.5 L349.7 548.0 L349.4 548.0 L349.1 548.0 L348.4 549.3 L347.7 549.0 L347.4 547.3 L347.1 547.1 L346.9 546.9 L345.7 547.6 L345.2 546.9 L345.4 545.3 L345.2 545.0 L345.0 544.7 L343.7 544.5 L343.4 543.7 L344.2 542.4 L344.1 542.1 L344.0 541.7 L342.8 540.8 L342.8 539.9 L343.9 539.3 L343.9 538.9 L344.0 538.6 L343.1 537.2 L343.4 536.4 L344.6 536.5 L344.8 536.2 L345.0 536.0 L344.6 534.2 L345.1 533.7 L346.3 534.6 L346.5 534.5" fill="none" stroke="#151515" stroke-width="1.1" stroke-linejoin="round"/>
<path d="M346.5 534.5 L346.8 534.3 L347.0 532.7 L347.6 532.5 L348.5 534.0 L348.7 534.0 L349.0 534.0 L349.8 532.7 L350.4 533.0 L350.8 534.7 L351.0 534.9 L351.3 535.1 L352.4 534.4 L353.0 535.1 L352.7 536.7 L352.9 537.0 L353.1 537.3 L354.4 537.5 L354.7 538.3 L354.0 539.6 L354.1 539.9" fill="none" stroke="#333" stroke-width="0.7" stroke-linejoin="round"/>
<path d="M337.4 557.2 L337.0 557.4 L336.7 557.6 L336.3 557.7 L335.9 557.8 L335.5 557.8 L335.1 557.8 L334.7 557.8 L334.3 557.7 L333.9 557.6 L333.5 557.5 L333.1 557.3 L332.7 557.1 L332.3 556.9 L332.0 556.7 L331.6 556.4 L331.2 556.0 L330.9 555.7 L330.6 555.3 L330.3 554.9 L330.0 554.5 L329.7 554.0 L329.4 553.6 L329.2 553.1 L329.0 552.6 L328.8 552.1 L328.6 551.6 L328.5 551.0 L328.4 550.5 L328.3 550.0 L328.2 549.4 L328.2 548.9 L328.2 548.3 L328.2 547.8 L328.2 547.3 L328.3 546.7 L328.4 546.2 L328.5 545.7 L328.7 545.3 L328.8 544.8 L329.0 544.4 L329.2 544.0 L329.5 543.6 L329.7 543.2 L330.0 542.9 L330.3 542.5 L330.6 542.3 L331.0 542.0 L331.3 541.8 L346.0 533.3 L346.4 533.1 L346.8 532.9 L347.1 532.8 L347.5 532.7 L347.9 532.7 L348.3 532.7 L348.7 532.7 L349.1 532.8 L349.5 532.9 L349.9 533.0 L350.3 533.2 L350.7 533.4 L351.1 533.6 L351.5 533.8 L351.8 534.1 L352.2 534.5 L352.5 534.8 L352.9 535.2 L353.2 535.6 L353.5 536.0 L353.7 536.5 L354.0 536.9 L354.2 537.4 L354.4 537.9 L354.6 538.4 L354.8 538.9 L354.9 539.5 L355.0 540.0 L355.1 540.5 L355.2 541.1 L355.2 541.6 L355.2 542.2 L355.2 542.7 L355.2 543.2 L355.1 543.8 L355.0 544.3 L354.9 544.8 L354.8 545.2 L354.6 545.7 L354.4 546.1 L354.2 546.5 L353.9 546.9 L353.7 547.3 L353.4 547.6 L353.1 548.0 L352.8 548.2 L352.5 548.5 L352.1 548.7Z" fill="#fff" stroke="#151515" stroke-width="1.2" />
<path d="M331.3 541.8 L331.7 541.6 L332.0 541.4 L332.4 541.3 L332.8 541.2 L333.2 541.2 L333.6 541.2 L334.0 541.2 L334.4 541.3 L334.8 541.4 L335.2 541.5 L335.6 541.7 L336.0 541.9 L336.4 542.1 L336.8 542.3 L337.1 542.6 L337.5 543.0 L337.8 543.3 L338.1 543.7 L338.5 544.1 L338.7 544.5 L339.0 545.0 L339.3 545.4 L339.5 545.9 L339.7 546.4 L339.9 546.9 L340.1 547.4 L340.2 548.0 L340.3 548.5 L340.4 549.0 L340.5 549.6 L340.5 550.1 L340.5 550.7 L340.5 551.2 L340.5 551.7 L340.4 552.3 L340.3 552.8 L340.2 553.3 L340.0 553.7 L339.9 554.2 L339.7 554.6 L339.5 555.0 L339.2 555.4 L339.0 555.8 L338.7 556.1 L338.4 556.5 L338.1 556.7 L337.7 557.0 L337.4 557.2" fill="none" stroke="#151515" stroke-width="1.0" />
<path d="M330.8 562.0 L330.4 562.2 L330.0 562.4 L329.6 562.5 L329.1 562.6 L328.7 562.7 L328.3 562.7 L327.8 562.7 L327.4 562.6 L326.9 562.5 L326.5 562.4 L326.0 562.2 L325.6 562.0 L325.2 561.7 L324.8 561.4 L324.4 561.1 L324.0 560.7 L323.6 560.4 L323.2 559.9 L322.9 559.5 L322.6 559.0 L322.3 558.5 L322.0 558.0 L321.7 557.5 L321.5 556.9 L321.3 556.4 L321.1 555.8 L320.9 555.2 L320.8 554.6 L320.7 554.0 L320.6 553.4 L320.6 552.8 L320.6 552.2 L320.6 551.6 L320.7 551.0 L320.7 550.4 L320.8 549.9 L321.0 549.3 L321.1 548.8 L321.3 548.3 L321.5 547.8 L321.8 547.4 L322.0 546.9 L322.3 546.5 L322.6 546.1 L323.0 545.8 L323.3 545.5 L323.7 545.2 L324.1 545.0 L331.0 541.0 L331.4 540.8 L331.8 540.6 L332.2 540.5 L332.6 540.4 L333.1 540.3 L333.5 540.3 L334.0 540.3 L334.4 540.4 L334.8 540.5 L335.3 540.6 L335.7 540.8 L336.2 541.0 L336.6 541.3 L337.0 541.6 L337.4 541.9 L337.8 542.3 L338.2 542.6 L338.5 543.1 L338.9 543.5 L339.2 544.0 L339.5 544.5 L339.8 545.0 L340.1 545.5 L340.3 546.1 L340.5 546.6 L340.7 547.2 L340.8 547.8 L341.0 548.4 L341.1 549.0 L341.1 549.6 L341.2 550.2 L341.2 550.8 L341.2 551.4 L341.1 552.0 L341.0 552.6 L340.9 553.1 L340.8 553.7 L340.6 554.2 L340.5 554.7 L340.2 555.2 L340.0 555.6 L339.7 556.1 L339.5 556.5 L339.2 556.9 L338.8 557.2 L338.5 557.5 L338.1 557.8 L337.7 558.0Z" fill="#fff" stroke="#151515" stroke-width="1.2" />
<path d="M324.1 545.0 L324.4 544.8 L324.9 544.6 L325.3 544.5 L325.7 544.4 L326.1 544.3 L326.6 544.3 L327.0 544.3 L327.5 544.4 L327.9 544.5 L328.4 544.6 L328.8 544.8 L329.2 545.0 L329.7 545.3 L330.1 545.6 L330.5 545.9 L330.9 546.3 L331.3 546.6 L331.6 547.1 L332.0 547.5 L332.3 548.0 L332.6 548.5 L332.9 549.0 L333.1 549.5 L333.4 550.1 L333.6 550.6 L333.8 551.2 L333.9 551.8 L334.0 552.4 L334.1 553.0 L334.2 553.6 L334.2 554.2 L334.3 554.8 L334.2 555.4 L334.2 556.0 L334.1 556.6 L334.0 557.1 L333.9 557.7 L333.7 558.2 L333.5 558.7 L333.3 559.2 L333.1 559.6 L332.8 560.1 L332.5 560.5 L332.2 560.9 L331.9 561.2 L331.5 561.5 L331.2 561.8 L330.8 562.0" fill="none" stroke="#151515" stroke-width="1.0" />
<path d="M303.6 576.7 L303.3 576.9 L302.9 577.1 L302.5 577.2 L302.1 577.3 L301.7 577.3 L301.3 577.3 L300.9 577.3 L300.5 577.2 L300.1 577.1 L299.7 577.0 L299.3 576.8 L298.9 576.6 L298.6 576.4 L298.2 576.2 L297.8 575.9 L297.5 575.5 L297.1 575.2 L296.8 574.8 L296.5 574.4 L296.2 574.0 L295.9 573.5 L295.7 573.1 L295.4 572.6 L295.2 572.1 L295.0 571.6 L294.9 571.1 L294.7 570.5 L294.6 570.0 L294.5 569.5 L294.5 568.9 L294.4 568.4 L294.4 567.8 L294.4 567.3 L294.5 566.8 L294.5 566.2 L294.6 565.7 L294.8 565.2 L294.9 564.8 L295.1 564.3 L295.3 563.9 L295.5 563.5 L295.7 563.1 L296.0 562.7 L296.2 562.4 L296.5 562.0 L296.9 561.8 L297.2 561.5 L297.5 561.3 L324.4 545.8 L324.7 545.6 L325.1 545.4 L325.5 545.3 L325.9 545.2 L326.3 545.2 L326.7 545.2 L327.1 545.2 L327.5 545.3 L327.9 545.4 L328.3 545.5 L328.7 545.7 L329.1 545.9 L329.4 546.1 L329.8 546.3 L330.2 546.6 L330.5 547.0 L330.9 547.3 L331.2 547.7 L331.5 548.1 L331.8 548.5 L332.1 549.0 L332.3 549.4 L332.6 549.9 L332.8 550.4 L333.0 550.9 L333.1 551.4 L333.3 552.0 L333.4 552.5 L333.5 553.0 L333.5 553.6 L333.6 554.1 L333.6 554.7 L333.6 555.2 L333.5 555.7 L333.5 556.3 L333.4 556.8 L333.3 557.3 L333.1 557.7 L332.9 558.2 L332.7 558.6 L332.5 559.0 L332.3 559.4 L332.0 559.8 L331.8 560.1 L331.5 560.5 L331.1 560.7 L330.8 561.0 L330.5 561.2Z" fill="#fff" stroke="#151515" stroke-width="1.2" />
<path d="M312.3 552.8 L312.7 552.6 L313.0 552.4 L313.4 552.3 L313.8 552.2 L314.2 552.2 L314.6 552.2 L315.0 552.2 L315.4 552.2 L315.8 552.3 L316.2 552.5 L316.6 552.6 L317.0 552.8 L317.4 553.1 L317.7 553.3 L318.1 553.6 L318.5 553.9 L318.8 554.3 L319.1 554.7 L319.4 555.1 L319.7 555.5 L320.0 555.9 L320.3 556.4 L320.5 556.9 L320.7 557.4 L320.9 557.9 L321.1 558.4 L321.2 558.9 L321.3 559.5 L321.4 560.0 L321.5 560.6 L321.5 561.1 L321.5 561.7 L321.5 562.2 L321.5 562.7 L321.4 563.2 L321.3 563.7 L321.2 564.2 L321.0 564.7 L320.9 565.2 L320.7 565.6 L320.5 566.0 L320.2 566.4 L320.0 566.8 L319.7 567.1 L319.4 567.4 L319.1 567.7 L318.7 568.0 L318.4 568.2" fill="none" stroke="#444" stroke-width="0.8" />
<path d="M314.2 551.7 L314.5 551.5 L314.9 551.3 L315.3 551.2 L315.7 551.1 L316.1 551.1 L316.5 551.1 L316.9 551.1 L317.3 551.2 L317.7 551.3 L318.1 551.4 L318.5 551.5 L318.9 551.7 L319.2 552.0 L319.6 552.2 L320.0 552.5 L320.3 552.9 L320.7 553.2 L321.0 553.6 L321.3 554.0 L321.6 554.4 L321.9 554.8 L322.1 555.3 L322.4 555.8 L322.6 556.3 L322.8 556.8 L322.9 557.3 L323.1 557.9 L323.2 558.4 L323.3 558.9 L323.3 559.5 L323.4 560.0 L323.4 560.6 L323.4 561.1 L323.3 561.6 L323.3 562.1 L323.2 562.7 L323.1 563.1 L322.9 563.6 L322.7 564.1 L322.5 564.5 L322.3 564.9 L322.1 565.3 L321.8 565.7 L321.6 566.0 L321.3 566.4 L320.9 566.6 L320.6 566.9 L320.3 567.1" fill="none" stroke="#888" stroke-width="0.6" />
<path d="M297.5 561.3 L297.9 561.1 L298.3 560.9 L298.6 560.8 L299.0 560.7 L299.4 560.7 L299.8 560.7 L300.2 560.7 L300.6 560.8 L301.0 560.9 L301.4 561.0 L301.8 561.2 L302.2 561.4 L302.6 561.6 L303.0 561.8 L303.3 562.1 L303.7 562.5 L304.0 562.8 L304.4 563.2 L304.7 563.6 L305.0 564.0 L305.2 564.5 L305.5 564.9 L305.7 565.4 L305.9 565.9 L306.1 566.4 L306.3 566.9 L306.4 567.5 L306.5 568.0 L306.6 568.5 L306.7 569.1 L306.7 569.6 L306.7 570.2 L306.7 570.7 L306.7 571.2 L306.6 571.8 L306.5 572.3 L306.4 572.8 L306.3 573.2 L306.1 573.7 L305.9 574.1 L305.7 574.5 L305.4 574.9 L305.2 575.3 L304.9 575.6 L304.6 576.0 L304.3 576.2 L304.0 576.5 L303.6 576.7" fill="none" stroke="#151515" stroke-width="1.0" />
<path d="M296.6 580.3 L296.2 580.5 L295.9 580.7 L295.5 580.8 L295.1 580.9 L294.8 580.9 L294.4 580.9 L294.0 580.9 L293.6 580.8 L293.2 580.7 L292.8 580.6 L292.5 580.5 L292.1 580.3 L291.7 580.1 L291.4 579.8 L291.0 579.5 L290.7 579.2 L290.4 578.9 L290.0 578.5 L289.7 578.2 L289.5 577.7 L289.2 577.3 L289.0 576.9 L288.7 576.4 L288.5 575.9 L288.4 575.5 L288.2 575.0 L288.1 574.5 L288.0 573.9 L287.9 573.4 L287.8 572.9 L287.8 572.4 L287.8 571.9 L287.8 571.4 L287.8 570.9 L287.9 570.4 L288.0 569.9 L288.1 569.4 L288.2 569.0 L288.4 568.5 L288.6 568.1 L288.8 567.7 L289.0 567.3 L289.3 567.0 L289.5 566.7 L289.8 566.4 L290.1 566.1 L290.4 565.9 L290.7 565.7 L297.7 561.7 L298.0 561.5 L298.4 561.3 L298.7 561.2 L299.1 561.1 L299.5 561.1 L299.9 561.1 L300.2 561.1 L300.6 561.2 L301.0 561.3 L301.4 561.4 L301.8 561.5 L302.1 561.7 L302.5 561.9 L302.9 562.2 L303.2 562.5 L303.6 562.8 L303.9 563.1 L304.2 563.5 L304.5 563.8 L304.8 564.3 L305.0 564.7 L305.3 565.1 L305.5 565.6 L305.7 566.1 L305.9 566.5 L306.0 567.0 L306.2 567.5 L306.3 568.1 L306.3 568.6 L306.4 569.1 L306.4 569.6 L306.5 570.1 L306.4 570.6 L306.4 571.1 L306.3 571.6 L306.2 572.1 L306.1 572.6 L306.0 573.0 L305.8 573.5 L305.6 573.9 L305.4 574.3 L305.2 574.7 L305.0 575.0 L304.7 575.3 L304.4 575.6 L304.1 575.9 L303.8 576.1 L303.5 576.3Z" fill="#fff" stroke="#151515" stroke-width="1.2" />
<line x1="299.7" y1="571.6" x2="305.8" y2="568.1" stroke="#222" stroke-width="0.8" />
<line x1="300.0" y1="574.0" x2="306.0" y2="570.5" stroke="#222" stroke-width="0.8" />
<line x1="299.6" y1="576.4" x2="305.7" y2="572.9" stroke="#222" stroke-width="0.8" />
<line x1="298.7" y1="578.4" x2="304.8" y2="574.9" stroke="#222" stroke-width="0.8" />
<line x1="297.4" y1="579.8" x2="303.5" y2="576.3" stroke="#222" stroke-width="0.8" />
<line x1="292.4" y1="564.9" x2="298.5" y2="561.4" stroke="#222" stroke-width="0.8" />
<line x1="294.2" y1="564.9" x2="300.3" y2="561.4" stroke="#222" stroke-width="0.8" />
<line x1="296.0" y1="565.7" x2="302.1" y2="562.2" stroke="#222" stroke-width="0.8" />
<line x1="297.7" y1="567.2" x2="303.7" y2="563.7" stroke="#222" stroke-width="0.8" />
<line x1="298.9" y1="569.2" x2="305.0" y2="565.7" stroke="#222" stroke-width="0.8" />
<path d="M290.7 565.7 L291.1 565.5 L291.4 565.3 L291.8 565.2 L292.2 565.1 L292.5 565.1 L292.9 565.1 L293.3 565.1 L293.7 565.2 L294.1 565.3 L294.5 565.4 L294.8 565.5 L295.2 565.7 L295.6 565.9 L295.9 566.2 L296.3 566.5 L296.6 566.8 L296.9 567.1 L297.3 567.5 L297.6 567.8 L297.8 568.3 L298.1 568.7 L298.3 569.1 L298.6 569.6 L298.8 570.1 L298.9 570.5 L299.1 571.0 L299.2 571.5 L299.3 572.1 L299.4 572.6 L299.5 573.1 L299.5 573.6 L299.5 574.1 L299.5 574.6 L299.5 575.1 L299.4 575.6 L299.3 576.1 L299.2 576.6 L299.1 577.0 L298.9 577.5 L298.7 577.9 L298.5 578.3 L298.3 578.7 L298.0 579.0 L297.8 579.3 L297.5 579.6 L297.2 579.9 L296.9 580.1 L296.6 580.3" fill="none" stroke="#151515" stroke-width="1.0" />
<path d="M274.5 591.9 L274.2 592.1 L273.9 592.2 L273.6 592.3 L273.3 592.4 L273.0 592.4 L272.6 592.4 L272.3 592.4 L272.0 592.4 L271.6 592.3 L271.3 592.2 L271.0 592.0 L270.6 591.9 L270.3 591.7 L270.0 591.5 L269.7 591.2 L269.4 590.9 L269.1 590.7 L268.8 590.3 L268.6 590.0 L268.3 589.7 L268.1 589.3 L267.9 588.9 L267.7 588.5 L267.5 588.1 L267.4 587.7 L267.2 587.2 L267.1 586.8 L267.0 586.3 L267.0 585.9 L266.9 585.4 L266.9 585.0 L266.9 584.5 L266.9 584.1 L266.9 583.6 L267.0 583.2 L267.0 582.8 L267.1 582.4 L267.3 582.0 L267.4 581.6 L267.6 581.2 L267.7 580.9 L267.9 580.5 L268.2 580.2 L268.4 580.0 L268.6 579.7 L268.9 579.5 L269.2 579.3 L269.5 579.1 L291.1 566.6 L291.4 566.4 L291.7 566.3 L292.0 566.2 L292.4 566.1 L292.7 566.1 L293.0 566.1 L293.3 566.1 L293.7 566.1 L294.0 566.2 L294.4 566.3 L294.7 566.5 L295.0 566.6 L295.3 566.8 L295.6 567.0 L296.0 567.3 L296.3 567.6 L296.5 567.8 L296.8 568.2 L297.1 568.5 L297.3 568.8 L297.5 569.2 L297.7 569.6 L297.9 570.0 L298.1 570.4 L298.3 570.8 L298.4 571.3 L298.5 571.7 L298.6 572.2 L298.7 572.6 L298.8 573.1 L298.8 573.5 L298.8 574.0 L298.8 574.4 L298.7 574.9 L298.7 575.3 L298.6 575.7 L298.5 576.1 L298.4 576.5 L298.2 576.9 L298.1 577.3 L297.9 577.6 L297.7 578.0 L297.5 578.3 L297.3 578.5 L297.0 578.8 L296.8 579.0 L296.5 579.2 L296.2 579.4Z" fill="#fff" stroke="#151515" stroke-width="1.2" />
<path d="M281.4 572.2 L281.7 572.0 L282.0 571.9 L282.3 571.8 L282.6 571.7 L282.9 571.7 L283.3 571.7 L283.6 571.7 L283.9 571.8 L284.3 571.8 L284.6 572.0 L284.9 572.1 L285.3 572.3 L285.6 572.4 L285.9 572.7 L286.2 572.9 L286.5 573.2 L286.8 573.5 L287.1 573.8 L287.3 574.1 L287.6 574.5 L287.8 574.8 L288.0 575.2 L288.2 575.6 L288.4 576.0 L288.5 576.5 L288.7 576.9 L288.8 577.3 L288.9 577.8 L289.0 578.2 L289.0 578.7 L289.0 579.2 L289.0 579.6 L289.0 580.1 L289.0 580.5 L288.9 580.9 L288.9 581.3 L288.8 581.8 L288.6 582.2 L288.5 582.5 L288.3 582.9 L288.2 583.2 L288.0 583.6 L287.7 583.9 L287.5 584.2 L287.3 584.4 L287.0 584.7 L286.7 584.9 L286.4 585.1" fill="none" stroke="#444" stroke-width="0.8" />
<path d="M282.9 571.3 L283.2 571.2 L283.5 571.0 L283.8 570.9 L284.1 570.9 L284.5 570.8 L284.8 570.8 L285.1 570.8 L285.5 570.9 L285.8 571.0 L286.1 571.1 L286.5 571.2 L286.8 571.4 L287.1 571.6 L287.4 571.8 L287.7 572.0 L288.0 572.3 L288.3 572.6 L288.6 572.9 L288.8 573.2 L289.1 573.6 L289.3 574.0 L289.5 574.4 L289.7 574.8 L289.9 575.2 L290.0 575.6 L290.2 576.0 L290.3 576.5 L290.4 576.9 L290.5 577.4 L290.5 577.8 L290.6 578.3 L290.6 578.7 L290.6 579.2 L290.5 579.6 L290.5 580.0 L290.4 580.5 L290.3 580.9 L290.2 581.3 L290.0 581.7 L289.9 582.0 L289.7 582.4 L289.5 582.7 L289.3 583.0 L289.0 583.3 L288.8 583.6 L288.5 583.8 L288.3 584.0 L288.0 584.2" fill="none" stroke="#888" stroke-width="0.6" />
<path d="M269.5 579.1 L269.8 578.9 L270.1 578.8 L270.4 578.7 L270.7 578.6 L271.0 578.6 L271.4 578.6 L271.7 578.6 L272.0 578.6 L272.4 578.7 L272.7 578.8 L273.0 579.0 L273.4 579.1 L273.7 579.3 L274.0 579.5 L274.3 579.8 L274.6 580.1 L274.9 580.3 L275.2 580.7 L275.4 581.0 L275.7 581.3 L275.9 581.7 L276.1 582.1 L276.3 582.5 L276.5 582.9 L276.6 583.3 L276.8 583.8 L276.9 584.2 L277.0 584.7 L277.0 585.1 L277.1 585.6 L277.1 586.0 L277.1 586.5 L277.1 586.9 L277.1 587.4 L277.0 587.8 L277.0 588.2 L276.9 588.6 L276.7 589.0 L276.6 589.4 L276.4 589.8 L276.3 590.1 L276.1 590.5 L275.8 590.8 L275.6 591.0 L275.4 591.3 L275.1 591.5 L274.8 591.7 L274.5 591.9" fill="none" stroke="#151515" stroke-width="1.0" />
<ellipse cx="272.0" cy="585.5" rx="5.0" ry="7.0" transform="rotate(-12.0 272.0 585.5)" fill="#fff" stroke="#151515" stroke-width="1.2" />
<ellipse cx="272.0" cy="585.5" rx="3.8" ry="5.2" transform="rotate(-12.0 272.0 585.5)" fill="none" stroke="#999" stroke-width="0.6" />
<ellipse cx="272.0" cy="585.5" rx="0.6" ry="0.8" transform="rotate(-12.0 272.0 585.5)" fill="none" stroke="#444" stroke-width="0.6" />
</g>
<g id="p17">
<path d="M261.5 608.4 L260.9 608.7 L260.3 609.0 L259.6 609.2 L259.0 609.3 L258.3 609.4 L257.6 609.4 L256.9 609.4 L256.2 609.3 L255.5 609.2 L254.8 609.0 L254.1 608.8 L253.5 608.5 L252.8 608.1 L252.1 607.7 L251.5 607.3 L250.8 606.8 L250.2 606.2 L249.6 605.6 L249.1 605.0 L248.5 604.3 L248.0 603.6 L247.5 602.9 L247.1 602.1 L246.7 601.3 L246.3 600.5 L246.0 599.7 L245.7 598.9 L245.5 598.0 L245.3 597.1 L245.1 596.3 L245.0 595.4 L245.0 594.5 L244.9 593.7 L245.0 592.8 L245.0 592.0 L245.2 591.2 L245.3 590.4 L245.5 589.6 L245.8 588.9 L246.1 588.2 L246.4 587.5 L246.8 586.9 L247.2 586.3 L247.6 585.7 L248.1 585.2 L248.6 584.8 L249.2 584.3 L249.7 584.0 L250.4 583.6 L251.0 583.3 L251.6 583.0 L252.3 582.8 L252.9 582.7 L253.6 582.6 L254.3 582.6 L255.0 582.6 L255.7 582.7 L256.4 582.8 L257.1 583.0 L257.7 583.2 L258.4 583.5 L259.1 583.9 L259.8 584.3 L260.4 584.7 L261.1 585.2 L261.7 585.8 L262.3 586.4 L262.8 587.0 L263.4 587.7 L263.9 588.4 L264.3 589.1 L264.8 589.9 L265.2 590.7 L265.5 591.5 L265.9 592.3 L266.2 593.1 L266.4 594.0 L266.6 594.9 L266.8 595.7 L266.9 596.6 L266.9 597.5 L266.9 598.3 L266.9 599.2 L266.8 600.0 L266.7 600.8 L266.6 601.6 L266.4 602.4 L266.1 603.1 L265.8 603.8 L265.5 604.5 L265.1 605.1 L264.7 605.7 L264.3 606.3 L263.8 606.8 L263.3 607.2 L262.7 607.7 L262.2 608.0Z" fill="#fff" stroke="#151515" stroke-width="1.0" />
<ellipse cx="255.6" cy="596.2" rx="10.2" ry="13.6" transform="rotate(-20 255.6 596.2)" fill="#fff" stroke="#151515" stroke-width="0.8" />
<ellipse cx="255.6" cy="596.2" rx="5.9" ry="7.9" transform="rotate(-20 255.6 596.2)" fill="#fff" stroke="#333" stroke-width="0.8" />
<clipPath id="ce17"><ellipse cx="255.6" cy="596.2" rx="5.9" ry="7.9" transform="rotate(-20 255.6 596.2)"/></clipPath>
<path d="M262.5 593.4 L262.8 594.4 L263.1 595.4 L263.2 596.4 L263.1 597.4 L263.0 598.3 L262.8 599.2 L262.5 600.0 L262.1 600.8 L261.6 601.5 L261.0 602.0 L260.4 602.5 L259.7 602.8 L258.9 603.0 L258.2 603.1 L257.4 603.0 L256.5 602.8 L255.7 602.5 L255.0 602.1 L254.2 601.5 L253.5 600.9 L252.9 600.1 L252.3 599.3 L251.8 598.4 L251.4 597.4 L251.1 596.4 L250.9 595.4 L250.8 594.4 L250.8 593.4 L250.9 592.5 L251.1 591.6 L251.5 590.8 L251.9 590.0 L252.4 589.3 L252.9 588.8 L253.6 588.3 L254.3 588.0 L255.0 587.8 L255.8 587.7 L256.6 587.8 L257.4 588.0 L258.2 588.3 L259.0 588.7 L259.8 589.3 L260.5 589.9 L261.1 590.7 L261.7 591.5 L262.1 592.4 L262.5 593.4" fill="none" stroke="#888" stroke-width="0.5" clip-path="url(#ce17)"/>
<line x1="251.9" y1="598.3" x2="258.1" y2="594.8" stroke="#666" stroke-width="0.6" />
<line x1="254.5" y1="593.7" x2="256.7" y2="598.7" stroke="#666" stroke-width="0.6" />
</g>
<g id="p16">
<path d="M233.6 620.8 L233.1 621.0 L232.7 621.2 L232.3 621.3 L231.8 621.4 L231.3 621.5 L230.9 621.5 L230.4 621.4 L229.9 621.3 L229.4 621.2 L229.0 621.0 L228.5 620.8 L228.0 620.6 L227.6 620.3 L227.1 619.9 L226.7 619.6 L226.3 619.1 L225.9 618.7 L225.5 618.2 L225.1 617.7 L224.8 617.2 L224.5 616.6 L224.2 616.0 L223.9 615.4 L223.7 614.8 L223.4 614.2 L223.2 613.5 L223.1 612.9 L222.9 612.2 L222.8 611.5 L222.8 610.9 L222.7 610.2 L222.7 609.5 L222.7 608.9 L222.8 608.2 L222.8 607.6 L222.9 607.0 L223.1 606.4 L223.3 605.8 L223.5 605.2 L223.7 604.7 L223.9 604.2 L224.2 603.7 L224.5 603.2 L224.8 602.8 L225.2 602.5 L225.5 602.1 L225.9 601.8 L226.3 601.6 L234.4 596.9 L234.9 596.7 L235.3 596.5 L235.7 596.4 L236.2 596.3 L236.7 596.2 L237.1 596.2 L237.6 596.3 L238.1 596.4 L238.6 596.5 L239.0 596.7 L239.5 596.9 L240.0 597.1 L240.4 597.4 L240.9 597.8 L241.3 598.1 L241.7 598.6 L242.1 599.0 L242.5 599.5 L242.9 600.0 L243.2 600.5 L243.5 601.1 L243.8 601.7 L244.1 602.3 L244.3 602.9 L244.6 603.5 L244.8 604.2 L244.9 604.8 L245.1 605.5 L245.2 606.2 L245.2 606.8 L245.3 607.5 L245.3 608.2 L245.3 608.8 L245.2 609.5 L245.2 610.1 L245.1 610.7 L244.9 611.3 L244.7 611.9 L244.5 612.5 L244.3 613.0 L244.1 613.5 L243.8 614.0 L243.5 614.5 L243.2 614.9 L242.8 615.2 L242.5 615.6 L242.1 615.9 L241.7 616.1Z" fill="#fff" stroke="#151515" stroke-width="1.4" />
<line x1="236.9" y1="609.7" x2="245.0" y2="605.0" stroke="#444" stroke-width="0.8" />
<line x1="237.1" y1="610.8" x2="245.2" y2="606.1" stroke="#888" stroke-width="0.5" />
<line x1="237.2" y1="611.9" x2="245.3" y2="607.2" stroke="#444" stroke-width="0.8" />
<line x1="237.2" y1="612.9" x2="245.3" y2="608.3" stroke="#888" stroke-width="0.5" />
<line x1="237.1" y1="614.0" x2="245.3" y2="609.3" stroke="#444" stroke-width="0.8" />
<line x1="237.0" y1="615.0" x2="245.1" y2="610.3" stroke="#888" stroke-width="0.5" />
<line x1="236.8" y1="616.0" x2="244.9" y2="611.3" stroke="#444" stroke-width="0.8" />
<line x1="236.5" y1="616.9" x2="244.6" y2="612.2" stroke="#888" stroke-width="0.5" />
<line x1="236.2" y1="617.8" x2="244.3" y2="613.1" stroke="#444" stroke-width="0.8" />
<line x1="235.8" y1="618.6" x2="243.9" y2="613.9" stroke="#888" stroke-width="0.5" />
<line x1="235.3" y1="619.3" x2="243.4" y2="614.6" stroke="#444" stroke-width="0.8" />
<line x1="234.7" y1="619.9" x2="242.8" y2="615.2" stroke="#888" stroke-width="0.5" />
<line x1="234.1" y1="620.4" x2="242.3" y2="615.7" stroke="#444" stroke-width="0.8" />
<line x1="233.5" y1="620.8" x2="241.6" y2="616.2" stroke="#888" stroke-width="0.5" />
<line x1="227.1" y1="601.2" x2="235.2" y2="596.5" stroke="#444" stroke-width="0.8" />
<line x1="227.8" y1="601.0" x2="235.9" y2="596.3" stroke="#888" stroke-width="0.5" />
<line x1="228.5" y1="600.9" x2="236.6" y2="596.2" stroke="#444" stroke-width="0.8" />
<line x1="229.3" y1="600.9" x2="237.4" y2="596.2" stroke="#888" stroke-width="0.5" />
<line x1="230.0" y1="601.1" x2="238.1" y2="596.4" stroke="#444" stroke-width="0.8" />
<line x1="230.8" y1="601.3" x2="238.9" y2="596.6" stroke="#888" stroke-width="0.5" />
<line x1="231.5" y1="601.6" x2="239.6" y2="597.0" stroke="#444" stroke-width="0.8" />
<line x1="232.3" y1="602.1" x2="240.4" y2="597.4" stroke="#888" stroke-width="0.5" />
<line x1="233.0" y1="602.6" x2="241.1" y2="598.0" stroke="#444" stroke-width="0.8" />
<line x1="233.6" y1="603.3" x2="241.8" y2="598.6" stroke="#888" stroke-width="0.5" />
<line x1="234.3" y1="604.0" x2="242.4" y2="599.3" stroke="#444" stroke-width="0.8" />
<line x1="234.9" y1="604.8" x2="243.0" y2="600.1" stroke="#888" stroke-width="0.5" />
<line x1="235.4" y1="605.7" x2="243.5" y2="601.0" stroke="#444" stroke-width="0.8" />
<line x1="235.9" y1="606.6" x2="244.0" y2="602.0" stroke="#888" stroke-width="0.5" />
<line x1="236.3" y1="607.6" x2="244.4" y2="603.0" stroke="#444" stroke-width="0.8" />
<line x1="236.6" y1="608.7" x2="244.7" y2="604.0" stroke="#888" stroke-width="0.5" />
<ellipse cx="229.9" cy="611.2" rx="7.1" ry="10.4" transform="rotate(-12.0 229.9 611.2)" fill="#fff" stroke="#151515" stroke-width="1.3" />
<ellipse cx="229.9" cy="611.2" rx="5.1" ry="7.5" transform="rotate(-12.0 229.9 611.2)" fill="#b8b8b8" stroke="#222" stroke-width="0.9" />
<line x1="232.0" y1="618.2" x2="240.1" y2="613.5" stroke="#333" stroke-width="0.8" clip-path="url(#clip139964345091328)"/>
<line x1="230.9" y1="618.4" x2="239.1" y2="613.7" stroke="#333" stroke-width="0.8" clip-path="url(#clip139964345091328)"/>
<line x1="229.9" y1="618.3" x2="238.0" y2="613.6" stroke="#333" stroke-width="0.8" clip-path="url(#clip139964345091328)"/>
<line x1="228.8" y1="617.9" x2="236.9" y2="613.2" stroke="#333" stroke-width="0.8" clip-path="url(#clip139964345091328)"/>
<line x1="227.8" y1="617.2" x2="235.9" y2="612.5" stroke="#333" stroke-width="0.8" clip-path="url(#clip139964345091328)"/>
<line x1="226.9" y1="616.2" x2="235.0" y2="611.5" stroke="#333" stroke-width="0.8" clip-path="url(#clip139964345091328)"/>
<line x1="226.1" y1="615.0" x2="234.3" y2="610.3" stroke="#333" stroke-width="0.8" clip-path="url(#clip139964345091328)"/>
<line x1="225.5" y1="613.7" x2="233.6" y2="609.0" stroke="#333" stroke-width="0.8" clip-path="url(#clip139964345091328)"/>
<line x1="225.1" y1="612.2" x2="233.2" y2="607.5" stroke="#333" stroke-width="0.8" clip-path="url(#clip139964345091328)"/>
<line x1="224.9" y1="610.7" x2="233.0" y2="606.0" stroke="#333" stroke-width="0.8" clip-path="url(#clip139964345091328)"/>
<line x1="224.9" y1="609.2" x2="233.0" y2="604.6" stroke="#333" stroke-width="0.8" clip-path="url(#clip139964345091328)"/>
<line x1="225.1" y1="607.8" x2="233.3" y2="603.2" stroke="#333" stroke-width="0.8" clip-path="url(#clip139964345091328)"/>
<line x1="225.6" y1="606.6" x2="233.7" y2="601.9" stroke="#333" stroke-width="0.8" clip-path="url(#clip139964345091328)"/>
<line x1="226.2" y1="605.5" x2="234.3" y2="600.9" stroke="#333" stroke-width="0.8" clip-path="url(#clip139964345091328)"/>
<line x1="227.0" y1="604.7" x2="235.1" y2="600.1" stroke="#333" stroke-width="0.8" clip-path="url(#clip139964345091328)"/>
<clipPath id="clip139964345091328"><ellipse cx="229.9" cy="611.2" rx="5.1" ry="7.5" transform="rotate(-12.0 229.9 611.2)"/></clipPath>
</g>
<g id="p15">
<path d="M223.7 624.7 L223.8 625.1 L226.3 625.8 L226.5 626.8 L224.3 628.1 L224.3 628.6 L224.4 629.0 L226.9 630.0 L227.0 631.1 L224.7 632.0 L224.7 632.5 L224.7 633.0 L227.2 634.3 L227.2 635.3 L224.8 635.9 L224.8 636.4 L224.8 636.9 L227.2 638.5 L227.1 639.5 L224.6 639.8 L224.6 640.3 L224.5 640.7 L226.8 642.7 L226.6 643.6 L224.1 643.5 L224.0 644.0 L223.9 644.4 L226.1 646.7 L225.9 647.6 L223.3 647.1 L223.2 647.6 L223.1 648.0 L225.1 650.5 L224.8 651.4 L222.2 650.6 L222.1 651.0 L221.9 651.4 L223.7 654.1 L223.4 654.9 L220.9 653.8 L220.7 654.1 L220.5 654.5 L222.1 657.4 L221.7 658.2 L219.2 656.7 L219.0 657.0 L218.8 657.4 L220.2 660.5 L219.7 661.2 L217.4 659.4 L217.1 659.6 L216.9 659.9 L218.0 663.2 L217.5 663.8 L215.3 661.7 L215.0 661.9 L214.8 662.2 L215.7 665.5 L215.1 666.0 L213.0 663.7 L212.7 663.9 L212.4 664.1 L213.1 667.5 L212.4 667.9 L210.5 665.3 L210.2 665.5 L209.9 665.6 L210.3 669.1 L209.6 669.4 L207.9 666.5 L207.6 666.7 L207.3 666.8 L207.4 670.2 L206.7 670.4 L205.2 667.4 L204.8 667.5 L204.5 667.5 L204.4 670.9 L203.6 671.0 L202.3 667.8 L202.0 667.9 L201.7 667.9 L201.2 671.2 L200.5 671.2 L199.5 667.9 L199.1 667.8 L198.8 667.8 L198.1 671.0 L197.3 670.9 L196.5 667.5 L196.2 667.4 L195.8 667.3 L194.9 670.3 L194.2 670.1 L193.6 666.7 L193.3 666.6 L192.9 666.4 L191.8 669.3 L191.0 668.9 L190.8 665.5 L190.4 665.3 L190.1 665.2 L188.7 667.8 L188.0 667.3 L187.9 663.9 L187.6 663.7 L187.3 663.5 L185.7 665.8 L185.0 665.3 L185.2 662.0 L184.9 661.7 L184.6 661.5 L182.8 663.5 L182.1 662.9 L182.7 659.7 L182.4 659.4 L182.1 659.1 L180.1 660.9 L179.5 660.2 L180.2 657.1 L180.0 656.8 L179.7 656.4 L177.5 657.9 L177.0 657.1 L178.0 654.2 L177.7 653.8 L177.5 653.5 L175.2 654.6 L174.7 653.7 L176.0 651.0 L175.7 650.6 L175.5 650.2 L173.1 651.0 L172.7 650.1 L174.2 647.6 L174.0 647.2 L173.8 646.8 L171.3 647.2 L170.9 646.3 L172.6 644.1 L172.4 643.6 L172.3 643.2 L169.8 643.2 L169.4 642.3 L171.3 640.3 L171.2 639.9 L171.1 639.4 L168.5 639.1 L168.3 638.1 L170.3 636.5 L170.2 636.0 L170.1 635.6 L167.6 634.9 L167.4 633.9 L169.6 632.6 L169.5 632.1 L169.5 631.6 L167.0 630.6 L166.9 629.6 L169.2 628.7 L169.2 628.2 L169.1 627.7 L166.7 626.4 L166.7 625.4 L169.1 624.7 L169.1 624.3 L169.1 623.8 L166.7 622.2 L166.8 621.2 L169.3 620.9 L169.3 620.4 L169.4 620.0 L167.1 618.0 L167.2 617.0 L169.8 617.1 L169.9 616.7 L169.9 616.3 L167.8 614.0 L168.0 613.1 L170.6 613.5 L170.7 613.1 L170.8 612.7 L168.8 610.2 L169.1 609.3 L171.7 610.1 L171.8 609.7 L172.0 609.3 L170.2 606.6 L170.5 605.8 L173.0 606.9 L173.2 606.6 L173.4 606.2 L171.8 603.3 L172.2 602.5 L174.6 604.0 L174.9 603.7 L175.1 603.3 L173.7 600.2 L174.2 599.5 L176.5 601.3 L176.8 601.0 L177.0 600.8 L175.8 597.5 L176.4 596.9 L178.6 599.0 L178.9 598.8 L179.1 598.5 L178.2 595.2 L178.8 594.6 L180.9 597.0 L181.2 596.8 L181.5 596.6 L180.8 593.2 L181.5 592.8 L183.4 595.4 L183.7 595.2 L184.0 595.1 L183.6 591.6 L184.3 591.3 L186.0 594.2 L186.3 594.0 L186.6 593.9 L186.5 590.5 L187.2 590.3 L188.7 593.3 L189.1 593.2 L189.4 593.2 L189.5 589.8 L190.3 589.7 L191.5 592.9 L191.9 592.8 L192.2 592.8 L192.6 589.5 L193.4 589.5 L194.4 592.8 L194.8 592.9 L195.1 592.9 L195.8 589.7 L196.6 589.8 L197.3 593.2 L197.7 593.3 L198.0 593.4 L199.0 590.4 L199.7 590.6 L200.3 594.0 L200.6 594.1 L201.0 594.3 L202.1 591.4 L202.9 591.8 L203.1 595.2 L203.5 595.4 L203.8 595.5 L205.2 592.9 L205.9 593.4 L205.9 596.8 L206.3 597.0 L206.6 597.2 L208.2 594.9 L208.9 595.4 L208.6 598.7 L209.0 599.0 L209.3 599.2 L211.1 597.2 L211.8 597.8 L211.2 601.0 L211.5 601.3 L211.8 601.6 L213.8 599.8 L214.4 600.5 L213.6 603.6 L213.9 603.9 L214.2 604.3 L216.3 602.8 L216.9 603.6 L215.9 606.5 L216.1 606.9 L216.4 607.2 L218.7 606.1 L219.2 606.9 L217.9 609.7 L218.1 610.1 L218.4 610.5 L220.8 609.7 L221.2 610.6 L219.7 613.1 L219.9 613.5 L220.1 613.9 L222.6 613.5 L223.0 614.4 L221.3 616.6 L221.4 617.1 L221.6 617.5 L224.1 617.5 L224.5 618.4 L222.6 620.4 L222.7 620.8 L222.8 621.3 L225.4 621.6 L225.6 622.6 L223.6 624.2Z" fill="#fff" stroke="#151515" stroke-width="1.2" />
<path d="M198.9 672.0 L197.3 672.8 L195.6 673.5 L193.9 674.1 L192.2 674.4 L190.4 674.6 L188.6 674.7 L186.8 674.6 L185.0 674.3 L183.1 673.9 L181.3 673.3 L179.5 672.6 L177.8 671.7 L176.0 670.6 L174.3 669.5 L172.7 668.1 L171.1 666.7 L169.5 665.1 L168.0 663.4 L166.6 661.6 L165.3 659.7 L164.1 657.7 L162.9 655.6 L161.9 653.4 L160.9 651.1 L160.1 648.8 L159.3 646.5 L158.7 644.1 L158.2 641.6 L157.8 639.2 L157.5 636.7 L157.3 634.3 L157.3 631.8 L157.4 629.4 L157.6 627.0 L157.9 624.7 L158.3 622.4 L158.8 620.2 L159.5 618.0 L160.3 615.9 L161.1 614.0 L162.1 612.1 L163.2 610.3 L164.3 608.7 L165.6 607.1 L166.9 605.7 L168.3 604.4 L169.8 603.3 L171.4 602.3 L183.2 595.5 L184.8 594.7 L186.5 594.0 L188.2 593.4 L189.9 593.1 L191.7 592.9 L193.5 592.8 L195.3 592.9 L197.1 593.2 L199.0 593.6 L200.8 594.2 L202.6 594.9 L204.3 595.8 L206.1 596.9 L207.8 598.0 L209.4 599.4 L211.0 600.8 L212.6 602.4 L214.1 604.1 L215.5 605.9 L216.8 607.8 L218.0 609.8 L219.2 611.9 L220.2 614.1 L221.2 616.4 L222.0 618.7 L222.8 621.0 L223.4 623.4 L223.9 625.9 L224.3 628.3 L224.6 630.8 L224.8 633.2 L224.8 635.7 L224.7 638.1 L224.5 640.5 L224.2 642.8 L223.8 645.1 L223.3 647.3 L222.6 649.5 L221.8 651.6 L221.0 653.5 L220.0 655.4 L218.9 657.2 L217.8 658.8 L216.5 660.4 L215.2 661.8 L213.8 663.1 L212.3 664.2 L210.7 665.2Z" fill="#1a1a1a" stroke="none" stroke-width="0" />
<path d="M214.4 631.9 L214.8 634.4 L226.6 627.6 L226.2 625.1Z" fill="#fff" stroke="none" stroke-width="0" />
<path d="M215.1 636.2 L215.3 638.6 L227.1 631.8 L226.8 629.4Z" fill="#fff" stroke="none" stroke-width="0" />
<path d="M215.4 640.4 L215.4 642.9 L227.2 636.1 L227.2 633.6Z" fill="#fff" stroke="none" stroke-width="0" />
<path d="M215.4 644.7 L215.3 647.1 L227.0 640.3 L227.2 637.9Z" fill="#fff" stroke="none" stroke-width="0" />
<path d="M215.1 648.8 L214.7 651.2 L226.5 644.4 L226.9 642.0Z" fill="#fff" stroke="none" stroke-width="0" />
<path d="M214.4 652.8 L213.9 655.1 L225.7 648.3 L226.2 646.0Z" fill="#fff" stroke="none" stroke-width="0" />
<path d="M213.5 656.7 L212.7 658.8 L224.5 652.0 L225.2 649.9Z" fill="#fff" stroke="none" stroke-width="0" />
<path d="M212.2 660.3 L211.3 662.3 L223.1 655.5 L224.0 653.5Z" fill="#fff" stroke="none" stroke-width="0" />
<path d="M210.6 663.7 L209.5 665.6 L221.3 658.7 L222.4 656.9Z" fill="#fff" stroke="none" stroke-width="0" />
<path d="M208.7 666.8 L207.5 668.5 L219.3 661.7 L220.5 660.0Z" fill="#fff" stroke="none" stroke-width="0" />
<path d="M206.6 669.6 L205.3 671.0 L217.1 664.2 L218.4 662.8Z" fill="#fff" stroke="none" stroke-width="0" />
<path d="M204.3 672.0 L202.8 673.2 L214.6 666.4 L216.1 665.2Z" fill="#fff" stroke="none" stroke-width="0" />
<path d="M201.7 674.0 L200.1 675.0 L211.9 668.2 L213.5 667.2Z" fill="#fff" stroke="none" stroke-width="0" />
<path d="M171.3 598.7 L173.0 597.9 L184.8 591.1 L183.1 591.8Z" fill="#fff" stroke="none" stroke-width="0" />
<path d="M174.2 597.4 L176.0 596.9 L187.8 590.1 L186.0 590.6Z" fill="#fff" stroke="none" stroke-width="0" />
<path d="M177.3 596.7 L179.0 596.4 L190.8 589.6 L189.0 589.9Z" fill="#fff" stroke="none" stroke-width="0" />
<path d="M180.4 596.4 L182.2 596.4 L194.0 589.6 L192.1 589.5Z" fill="#fff" stroke="none" stroke-width="0" />
<path d="M183.5 596.5 L185.3 596.7 L197.1 589.9 L195.3 589.7Z" fill="#fff" stroke="none" stroke-width="0" />
<path d="M186.7 597.0 L188.5 597.6 L200.3 590.8 L198.5 590.2Z" fill="#fff" stroke="none" stroke-width="0" />
<path d="M189.8 598.0 L191.6 598.8 L203.4 592.0 L201.6 591.2Z" fill="#fff" stroke="none" stroke-width="0" />
<path d="M192.9 599.5 L194.7 600.5 L206.5 593.7 L204.7 592.7Z" fill="#fff" stroke="none" stroke-width="0" />
<path d="M195.9 601.3 L197.6 602.6 L209.4 595.8 L207.7 594.5Z" fill="#fff" stroke="none" stroke-width="0" />
<path d="M198.8 603.6 L200.5 605.0 L212.2 598.2 L210.6 596.8Z" fill="#fff" stroke="none" stroke-width="0" />
<path d="M201.6 606.2 L203.1 607.8 L214.9 601.0 L213.4 599.4Z" fill="#fff" stroke="none" stroke-width="0" />
<path d="M204.2 609.1 L205.6 611.0 L217.3 604.2 L216.0 602.3Z" fill="#fff" stroke="none" stroke-width="0" />
<path d="M206.5 612.4 L207.8 614.4 L219.6 607.6 L218.3 605.6Z" fill="#fff" stroke="none" stroke-width="0" />
<path d="M208.7 615.9 L209.8 618.1 L221.6 611.2 L220.4 609.1Z" fill="#fff" stroke="none" stroke-width="0" />
<path d="M210.5 619.7 L211.5 621.9 L223.3 615.1 L222.3 612.9Z" fill="#fff" stroke="none" stroke-width="0" />
<path d="M212.1 623.6 L212.9 626.0 L224.7 619.2 L223.9 616.8Z" fill="#fff" stroke="none" stroke-width="0" />
<path d="M213.4 627.7 L214.0 630.1 L225.8 623.3 L225.2 620.9Z" fill="#fff" stroke="none" stroke-width="0" />
<path d="M223.7 624.7 L223.8 625.1 L226.3 625.8 L226.5 626.8 L224.3 628.1 L224.3 628.6 L224.3 628.6 L224.4 629.0 L226.9 630.0 L227.0 631.1 L224.7 632.0 L224.7 632.5 L224.7 632.5 L224.7 633.0 L227.2 634.3 L227.2 635.3 L224.8 635.9 L224.8 636.4 L224.8 636.4 L224.8 636.9 L227.2 638.5 L227.1 639.5 L224.6 639.8 L224.6 640.3 L224.6 640.3 L224.5 640.7 L226.8 642.7 L226.6 643.6 L224.1 643.5 L224.0 644.0 L224.0 644.0 L223.9 644.4 L226.1 646.7 L225.9 647.6 L223.3 647.1 L223.2 647.6 L223.2 647.6 L223.1 648.0 L225.1 650.5 L224.8 651.4 L222.2 650.6 L222.1 651.0 L222.1 651.0 L221.9 651.4 L223.7 654.1 L223.4 654.9 L220.9 653.8 L220.7 654.1 L220.7 654.1 L220.5 654.5 L222.1 657.4 L221.7 658.2 L219.2 656.7 L219.0 657.0 L219.0 657.0 L218.8 657.4 L220.2 660.5 L219.7 661.2 L217.4 659.4 L217.1 659.6 L217.1 659.6 L216.9 659.9 L218.0 663.2 L217.5 663.8 L215.3 661.7 L215.0 661.9 L215.0 661.9 L214.8 662.2 L215.7 665.5 L215.1 666.0 L213.0 663.7 L212.7 663.9 L212.7 663.9 L212.4 664.1 L213.1 667.5 L212.4 667.9 L210.5 665.3 L210.2 665.5" fill="none" stroke="#151515" stroke-width="0.96" stroke-linejoin="round"/>
<path d="M181.2 596.8 L181.5 596.6 L180.8 593.2 L181.5 592.8 L183.4 595.4 L183.7 595.2 L183.7 595.2 L184.0 595.1 L183.6 591.6 L184.3 591.3 L186.0 594.2 L186.3 594.0 L186.3 594.0 L186.6 593.9 L186.5 590.5 L187.2 590.3 L188.7 593.3 L189.1 593.2 L189.1 593.2 L189.4 593.2 L189.5 589.8 L190.3 589.7 L191.5 592.9 L191.9 592.8 L191.9 592.8 L192.2 592.8 L192.6 589.5 L193.4 589.5 L194.4 592.8 L194.8 592.9 L194.8 592.9 L195.1 592.9 L195.8 589.7 L196.6 589.8 L197.3 593.2 L197.7 593.3 L197.7 593.3 L198.0 593.4 L199.0 590.4 L199.7 590.6 L200.3 594.0 L200.6 594.1 L200.6 594.1 L201.0 594.3 L202.1 591.4 L202.9 591.8 L203.1 595.2 L203.5 595.4 L203.5 595.4 L203.8 595.5 L205.2 592.9 L205.9 593.4 L205.9 596.8 L206.3 597.0 L206.3 597.0 L206.6 597.2 L208.2 594.9 L208.9 595.4 L208.6 598.7 L209.0 599.0 L209.0 599.0 L209.3 599.2 L211.1 597.2 L211.8 597.8 L211.2 601.0 L211.5 601.3 L211.5 601.3 L211.8 601.6 L213.8 599.8 L214.4 600.5 L213.6 603.6 L213.9 603.9 L213.9 603.9 L214.2 604.3 L216.3 602.8 L216.9 603.6 L215.9 606.5 L216.1 606.9 L216.1 606.9 L216.4 607.2 L218.7 606.1 L219.2 606.9 L217.9 609.7 L218.1 610.1 L218.1 610.1 L218.4 610.5 L220.8 609.7 L221.2 610.6 L219.7 613.1 L219.9 613.5 L219.9 613.5 L220.1 613.9 L222.6 613.5 L223.0 614.4 L221.3 616.6 L221.4 617.1 L221.4 617.1 L221.6 617.5 L224.1 617.5 L224.5 618.4 L222.6 620.4 L222.7 620.8 L222.7 620.8 L222.8 621.3 L225.4 621.6 L225.6 622.6 L223.6 624.2 L223.7 624.7 L223.7 624.7 L223.8 625.1 L226.3 625.8 L226.5 626.8 L224.3 628.1 L224.3 628.6" fill="none" stroke="#151515" stroke-width="0.96" stroke-linejoin="round"/>
<line x1="170.2" y1="599.3" x2="182.0" y2="592.5" stroke="#151515" stroke-width="0.96" />
<line x1="200.1" y1="675.0" x2="211.9" y2="668.2" stroke="#151515" stroke-width="0.96" />
<path d="M211.9 631.5 L212.0 631.9 L214.5 632.6 L214.7 633.6 L212.5 634.9 L212.6 635.4 L212.6 635.9 L215.1 636.9 L215.2 637.9 L212.9 638.8 L212.9 639.3 L213.0 639.8 L215.4 641.1 L215.4 642.1 L213.0 642.8 L213.0 643.2 L213.0 643.7 L215.4 645.3 L215.3 646.3 L212.8 646.6 L212.8 647.1 L212.7 647.5 L215.0 649.5 L214.9 650.5 L212.3 650.4 L212.2 650.8 L212.2 651.2 L214.3 653.5 L214.1 654.4 L211.5 654.0 L211.4 654.4 L211.3 654.8 L213.3 657.3 L213.0 658.2 L210.4 657.4 L210.3 657.8 L210.1 658.2 L211.9 660.9 L211.6 661.7 L209.1 660.6 L208.9 660.9 L208.7 661.3 L210.3 664.2 L209.9 665.0 L207.5 663.5 L207.2 663.8 L207.0 664.2 L208.4 667.3 L207.9 668.0 L205.6 666.2 L205.3 666.5 L205.1 666.7 L206.3 670.0 L205.7 670.6 L203.5 668.5 L203.2 668.7 L203.0 669.0 L203.9 672.3 L203.3 672.9 L201.2 670.5 L200.9 670.7 L200.6 670.9 L201.3 674.3 L200.6 674.7 L198.7 672.1 L198.4 672.3 L198.1 672.4 L198.5 675.9 L197.8 676.2 L196.1 673.3 L195.8 673.5 L195.5 673.6 L195.6 677.0 L194.9 677.2 L193.4 674.2 L193.0 674.3 L192.7 674.3 L192.6 677.7 L191.8 677.8 L190.6 674.6 L190.2 674.7 L189.9 674.7 L189.5 678.0 L188.7 678.0 L187.7 674.7 L187.3 674.6 L187.0 674.6 L186.3 677.8 L185.5 677.7 L184.8 674.3 L184.4 674.2 L184.1 674.1 L183.1 677.1 L182.4 676.9 L181.8 673.5 L181.5 673.4 L181.1 673.2 L180.0 676.1 L179.2 675.7 L179.0 672.3 L178.6 672.1 L178.3 672.0 L176.9 674.6 L176.2 674.1 L176.2 670.7 L175.8 670.5 L175.5 670.3 L173.9 672.6 L173.2 672.1 L173.5 668.8 L173.1 668.5 L172.8 668.3 L171.0 670.3 L170.3 669.7 L170.9 666.5 L170.6 666.2 L170.3 665.9 L168.3 667.7 L167.7 667.0 L168.5 663.9 L168.2 663.6 L167.9 663.2 L165.8 664.7 L165.2 663.9 L166.2 661.0 L166.0 660.6 L165.7 660.3 L163.4 661.4 L162.9 660.6 L164.2 657.8 L164.0 657.4 L163.7 657.0 L161.3 657.8 L160.9 656.9 L162.4 654.4 L162.2 654.0 L162.0 653.6 L159.5 654.0 L159.1 653.1 L160.8 650.9 L160.7 650.4 L160.5 650.0 L158.0 650.0 L157.6 649.1 L159.5 647.1 L159.4 646.7 L159.3 646.2 L156.7 645.9 L156.5 644.9 L158.5 643.3 L158.4 642.8 L158.3 642.4 L155.8 641.7 L155.6 640.7 L157.8 639.4 L157.8 638.9 L157.7 638.5 L155.2 637.5 L155.1 636.4 L157.4 635.5 L157.4 635.0 L157.4 634.5 L154.9 633.2 L154.9 632.2 L157.3 631.6 L157.3 631.1 L157.3 630.6 L154.9 629.0 L155.0 628.0 L157.5 627.7 L157.5 627.2 L157.6 626.8 L155.3 624.8 L155.5 623.9 L158.0 624.0 L158.1 623.5 L158.2 623.1 L156.0 620.8 L156.2 619.9 L158.8 620.4 L158.9 619.9 L159.0 619.5 L157.0 617.0 L157.3 616.1 L159.9 616.9 L160.0 616.5 L160.2 616.1 L158.4 613.4 L158.7 612.6 L161.2 613.7 L161.4 613.4 L161.6 613.0 L160.0 610.1 L160.4 609.3 L162.9 610.8 L163.1 610.5 L163.3 610.1 L161.9 607.0 L162.4 606.3 L164.7 608.1 L165.0 607.9 L165.2 607.6 L164.1 604.3 L164.6 603.7 L166.8 605.8 L167.1 605.6 L167.3 605.3 L166.4 602.0 L167.0 601.5 L169.1 603.8 L169.4 603.6 L169.7 603.4 L169.0 600.0 L169.7 599.6 L171.6 602.2 L171.9 602.0 L172.2 601.9 L171.8 598.4 L172.5 598.1 L174.2 601.0 L174.5 600.8 L174.8 600.7 L174.7 597.3 L175.4 597.1 L176.9 600.1 L177.3 600.0 L177.6 600.0 L177.7 596.6 L178.5 596.5 L179.8 599.7 L180.1 599.6 L180.4 599.6 L180.9 596.3 L181.6 596.3 L182.6 599.6 L183.0 599.7 L183.3 599.7 L184.0 596.5 L184.8 596.6 L185.6 600.0 L185.9 600.1 L186.3 600.2 L187.2 597.2 L187.9 597.4 L188.5 600.8 L188.8 600.9 L189.2 601.1 L190.3 598.2 L191.1 598.6 L191.3 602.0 L191.7 602.2 L192.0 602.3 L193.4 599.7 L194.1 600.2 L194.2 603.6 L194.5 603.8 L194.8 604.0 L196.4 601.7 L197.1 602.2 L196.9 605.5 L197.2 605.8 L197.5 606.0 L199.3 604.0 L200.0 604.6 L199.4 607.8 L199.7 608.1 L200.0 608.4 L202.0 606.6 L202.6 607.3 L201.9 610.4 L202.1 610.7 L202.4 611.1 L204.6 609.6 L205.1 610.4 L204.1 613.3 L204.4 613.7 L204.6 614.0 L206.9 612.9 L207.4 613.8 L206.1 616.5 L206.4 616.9 L206.6 617.3 L209.0 616.5 L209.4 617.4 L207.9 619.9 L208.1 620.3 L208.3 620.7 L210.8 620.3 L211.2 621.2 L209.5 623.4 L209.7 623.9 L209.8 624.3 L212.3 624.3 L212.7 625.2 L210.8 627.2 L210.9 627.6 L211.0 628.1 L213.6 628.4 L213.8 629.4 L211.8 631.0Z" fill="#fff" stroke="none" stroke-width="0" />
<path d="M211.9 631.5 L212.0 631.9 L214.5 632.6 L214.7 633.6 L212.5 634.9 L212.6 635.4 L212.6 635.9 L215.1 636.9 L215.2 637.9 L212.9 638.8 L212.9 639.3 L213.0 639.8 L215.4 641.1 L215.4 642.1 L213.0 642.8 L213.0 643.2 L213.0 643.7 L215.4 645.3 L215.3 646.3 L212.8 646.6 L212.8 647.1 L212.7 647.5 L215.0 649.5 L214.9 650.5 L212.3 650.4 L212.2 650.8 L212.2 651.2 L214.3 653.5 L214.1 654.4 L211.5 654.0 L211.4 654.4 L211.3 654.8 L213.3 657.3 L213.0 658.2 L210.4 657.4 L210.3 657.8 L210.1 658.2 L211.9 660.9 L211.6 661.7 L209.1 660.6 L208.9 660.9 L208.7 661.3 L210.3 664.2 L209.9 665.0 L207.5 663.5 L207.2 663.8 L207.0 664.2 L208.4 667.3 L207.9 668.0 L205.6 666.2 L205.3 666.5 L205.1 666.7 L206.3 670.0 L205.7 670.6 L203.5 668.5 L203.2 668.7 L203.0 669.0 L203.9 672.3 L203.3 672.9 L201.2 670.5 L200.9 670.7 L200.6 670.9 L201.3 674.3 L200.6 674.7 L198.7 672.1 L198.4 672.3" fill="none" stroke="#333" stroke-width="0.7" stroke-linejoin="round"/>
<path d="M198.4 672.3 L198.1 672.4 L198.5 675.9 L197.8 676.2 L196.1 673.3 L195.8 673.5 L195.5 673.6 L195.6 677.0 L194.9 677.2 L193.4 674.2 L193.0 674.3 L192.7 674.3 L192.6 677.7 L191.8 677.8 L190.6 674.6 L190.2 674.7 L189.9 674.7 L189.5 678.0 L188.7 678.0 L187.7 674.7 L187.3 674.6 L187.0 674.6 L186.3 677.8 L185.5 677.7 L184.8 674.3 L184.4 674.2 L184.1 674.1 L183.1 677.1 L182.4 676.9 L181.8 673.5 L181.5 673.4 L181.1 673.2 L180.0 676.1 L179.2 675.7 L179.0 672.3 L178.6 672.1 L178.3 672.0 L176.9 674.6 L176.2 674.1 L176.2 670.7 L175.8 670.5 L175.5 670.3 L173.9 672.6 L173.2 672.1 L173.5 668.8 L173.1 668.5 L172.8 668.3 L171.0 670.3 L170.3 669.7 L170.9 666.5 L170.6 666.2 L170.3 665.9 L168.3 667.7 L167.7 667.0 L168.5 663.9 L168.2 663.6 L167.9 663.2 L165.8 664.7 L165.2 663.9 L166.2 661.0 L166.0 660.6 L165.7 660.3 L163.4 661.4 L162.9 660.6 L164.2 657.8 L164.0 657.4 L163.7 657.0 L161.3 657.8 L160.9 656.9 L162.4 654.4 L162.2 654.0 L162.0 653.6 L159.5 654.0 L159.1 653.1 L160.8 650.9 L160.7 650.4 L160.5 650.0 L158.0 650.0 L157.6 649.1 L159.5 647.1 L159.4 646.7 L159.3 646.2 L156.7 645.9 L156.5 644.9 L158.5 643.3 L158.4 642.8 L158.3 642.4 L155.8 641.7 L155.6 640.7 L157.8 639.4 L157.8 638.9 L157.7 638.5 L155.2 637.5 L155.1 636.4 L157.4 635.5 L157.4 635.0 L157.4 634.5 L154.9 633.2 L154.9 632.2 L157.3 631.6 L157.3 631.1 L157.3 630.6 L154.9 629.0 L155.0 628.0 L157.5 627.7 L157.5 627.2 L157.6 626.8 L155.3 624.8 L155.5 623.9 L158.0 624.0 L158.1 623.5 L158.2 623.1 L156.0 620.8 L156.2 619.9 L158.8 620.4 L158.9 619.9 L159.0 619.5 L157.0 617.0 L157.3 616.1 L159.9 616.9 L160.0 616.5 L160.2 616.1 L158.4 613.4 L158.7 612.6 L161.2 613.7 L161.4 613.4 L161.6 613.0 L160.0 610.1 L160.4 609.3 L162.9 610.8 L163.1 610.5 L163.3 610.1 L161.9 607.0 L162.4 606.3 L164.7 608.1 L165.0 607.9 L165.2 607.6 L164.1 604.3 L164.6 603.7 L166.8 605.8 L167.1 605.6 L167.3 605.3 L166.4 602.0 L167.0 601.5 L169.1 603.8 L169.4 603.6 L169.7 603.4 L169.0 600.0 L169.7 599.6 L171.6 602.2 L171.9 602.0" fill="none" stroke="#151515" stroke-width="1.2" stroke-linejoin="round"/>
<path d="M171.9 602.0 L172.2 601.9 L171.8 598.4 L172.5 598.1 L174.2 601.0 L174.5 600.8 L174.8 600.7 L174.7 597.3 L175.4 597.1 L176.9 600.1 L177.3 600.0 L177.6 600.0 L177.7 596.6 L178.5 596.5 L179.8 599.7 L180.1 599.6 L180.4 599.6 L180.9 596.3 L181.6 596.3 L182.6 599.6 L183.0 599.7 L183.3 599.7 L184.0 596.5 L184.8 596.6 L185.6 600.0 L185.9 600.1 L186.3 600.2 L187.2 597.2 L187.9 597.4 L188.5 600.8 L188.8 600.9 L189.2 601.1 L190.3 598.2 L191.1 598.6 L191.3 602.0 L191.7 602.2 L192.0 602.3 L193.4 599.7 L194.1 600.2 L194.2 603.6 L194.5 603.8 L194.8 604.0 L196.4 601.7 L197.1 602.2 L196.9 605.5 L197.2 605.8 L197.5 606.0 L199.3 604.0 L200.0 604.6 L199.4 607.8 L199.7 608.1 L200.0 608.4 L202.0 606.6 L202.6 607.3 L201.9 610.4 L202.1 610.7 L202.4 611.1 L204.6 609.6 L205.1 610.4 L204.1 613.3 L204.4 613.7 L204.6 614.0 L206.9 612.9 L207.4 613.8 L206.1 616.5 L206.4 616.9 L206.6 617.3 L209.0 616.5 L209.4 617.4 L207.9 619.9 L208.1 620.3 L208.3 620.7 L210.8 620.3 L211.2 621.2 L209.5 623.4 L209.7 623.9 L209.8 624.3 L212.3 624.3 L212.7 625.2 L210.8 627.2 L210.9 627.6 L211.0 628.1 L213.6 628.4 L213.8 629.4 L211.8 631.0 L211.9 631.5" fill="none" stroke="#333" stroke-width="0.7" stroke-linejoin="round"/>
<ellipse cx="185.2" cy="637.2" rx="24.9" ry="34.6" transform="rotate(-12.0 185.2 637.2)" fill="none" stroke="#8a8a8a" stroke-width="0.6" />
<ellipse cx="185.2" cy="637.2" rx="22.0" ry="30.5" transform="rotate(-12.0 185.2 637.2)" fill="none" stroke="#8a8a8a" stroke-width="0.6" />
<path d="M186.3 657.4 L185.5 657.9 L184.7 658.2 L183.8 658.5 L183.0 658.6 L182.1 658.7 L181.2 658.8 L180.3 658.7 L179.4 658.6 L178.5 658.4 L177.7 658.1 L176.8 657.7 L175.9 657.3 L175.1 656.8 L174.2 656.2 L173.4 655.6 L172.6 654.8 L171.9 654.1 L171.2 653.2 L170.5 652.4 L169.8 651.4 L169.2 650.4 L168.7 649.4 L168.1 648.3 L167.7 647.2 L167.3 646.1 L166.9 645.0 L166.6 643.8 L166.3 642.6 L166.1 641.4 L166.0 640.2 L165.9 639.0 L165.9 637.8 L165.9 636.6 L166.0 635.5 L166.2 634.3 L166.4 633.2 L166.7 632.1 L167.0 631.0 L167.3 630.0 L167.8 629.1 L168.2 628.1 L168.8 627.3 L169.3 626.5 L170.0 625.7 L170.6 625.0 L171.3 624.4 L172.0 623.8 L172.8 623.4 L178.4 620.1 L179.2 619.7 L180.0 619.4 L180.9 619.1 L181.7 618.9 L182.6 618.8 L183.5 618.8 L184.4 618.8 L185.2 619.0 L186.1 619.2 L187.0 619.5 L187.9 619.8 L188.8 620.3 L189.6 620.8 L190.5 621.3 L191.3 622.0 L192.1 622.7 L192.8 623.5 L193.5 624.3 L194.2 625.2 L194.9 626.1 L195.5 627.1 L196.0 628.1 L196.5 629.2 L197.0 630.3 L197.4 631.4 L197.8 632.6 L198.1 633.8 L198.3 635.0 L198.5 636.2 L198.7 637.4 L198.8 638.6 L198.8 639.8 L198.7 640.9 L198.7 642.1 L198.5 643.2 L198.3 644.4 L198.0 645.5 L197.7 646.5 L197.3 647.5 L196.9 648.5 L196.4 649.4 L195.9 650.3 L195.3 651.1 L194.7 651.8 L194.1 652.5 L193.4 653.2 L192.7 653.7 L191.9 654.2Z" fill="#fff" stroke="#666" stroke-width="0.7" />
<ellipse cx="179.5" cy="640.4" rx="13.4" ry="18.6" transform="rotate(-12.0 179.5 640.4)" fill="#fff" stroke="#666" stroke-width="0.7" />
<ellipse cx="179.5" cy="640.4" rx="10.7" ry="14.8" transform="rotate(-12.0 179.5 640.4)" fill="none" stroke="#777" stroke-width="0.6" />
<ellipse cx="179.5" cy="640.4" rx="7.4" ry="10.3" transform="rotate(-12.0 179.5 640.4)" fill="#fff" stroke="#333" stroke-width="0.9" />
<clipPath id="ce18"><ellipse cx="179.5" cy="640.4" rx="7.4" ry="10.3" transform="rotate(-12.0 179.5 640.4)"/></clipPath>
<path d="M191.3 636.3 L191.5 637.6 L191.6 638.9 L191.5 640.3 L191.4 641.5 L191.1 642.7 L190.6 643.9 L190.1 644.9 L189.5 645.8 L188.8 646.6 L187.9 647.2 L187.1 647.6 L186.1 647.9 L185.2 648.0 L184.2 648.0 L183.2 647.7 L182.2 647.3 L181.3 646.8 L180.4 646.0 L179.5 645.2 L178.8 644.2 L178.1 643.1 L177.5 641.9 L177.1 640.7 L176.7 639.4 L176.5 638.0 L176.4 636.7 L176.5 635.4 L176.6 634.1 L176.9 632.9 L177.3 631.8 L177.9 630.8 L178.5 629.9 L179.2 629.1 L180.0 628.5 L180.9 628.0 L181.8 627.7 L182.8 627.6 L183.8 627.7 L184.8 627.9 L185.8 628.3 L186.7 628.9 L187.6 629.6 L188.4 630.5 L189.2 631.4 L189.9 632.5 L190.5 633.7 L190.9 635.0 L191.3 636.3" fill="none" stroke="#666" stroke-width="0.6" clip-path="url(#ce18)"/>
<line x1="174.9" y1="643.1" x2="182.6" y2="638.6" stroke="#666" stroke-width="0.6" />
<line x1="178.2" y1="637.3" x2="180.9" y2="643.6" stroke="#666" stroke-width="0.6" />
</g>
<g id="p14">
<path d="M134.9 679.6 L134.3 679.8 L133.8 680.0 L133.3 680.2 L132.7 680.3 L132.1 680.4 L131.5 680.4 L130.9 680.3 L130.4 680.2 L129.8 680.0 L129.2 679.8 L128.6 679.5 L128.0 679.1 L127.5 678.8 L126.9 678.3 L126.4 677.8 L125.9 677.3 L125.4 676.7 L124.9 676.1 L124.4 675.5 L124.0 674.8 L123.6 674.1 L123.2 673.3 L122.9 672.5 L122.6 671.7 L122.3 670.9 L122.0 670.1 L121.8 669.3 L121.7 668.4 L121.5 667.5 L121.4 666.7 L121.4 665.8 L121.4 665.0 L121.4 664.1 L121.4 663.3 L121.5 662.5 L121.7 661.7 L121.8 660.9 L122.0 660.2 L122.3 659.5 L122.6 658.8 L122.9 658.2 L123.2 657.6 L123.6 657.0 L124.0 656.5 L124.4 656.0 L124.9 655.6 L125.4 655.2 L125.9 654.9 L143.1 644.9 L143.7 644.7 L144.2 644.5 L144.7 644.3 L145.3 644.2 L145.9 644.1 L146.5 644.1 L147.1 644.2 L147.6 644.3 L148.2 644.5 L148.8 644.7 L149.4 645.0 L150.0 645.4 L150.5 645.7 L151.1 646.2 L151.6 646.7 L152.1 647.2 L152.6 647.8 L153.1 648.4 L153.6 649.0 L154.0 649.7 L154.4 650.4 L154.8 651.2 L155.1 652.0 L155.4 652.8 L155.7 653.6 L156.0 654.4 L156.2 655.2 L156.3 656.1 L156.5 657.0 L156.6 657.8 L156.6 658.7 L156.6 659.5 L156.6 660.4 L156.6 661.2 L156.5 662.0 L156.3 662.8 L156.2 663.6 L156.0 664.3 L155.7 665.0 L155.4 665.7 L155.1 666.3 L154.8 666.9 L154.4 667.5 L154.0 668.0 L153.6 668.5 L153.1 668.9 L152.6 669.3 L152.1 669.6Z" fill="#fff" stroke="#151515" stroke-width="1.4" />
<line x1="138.9" y1="665.4" x2="156.2" y2="655.4" stroke="#1a1a1a" stroke-width="1.2" />
<line x1="139.2" y1="667.0" x2="156.5" y2="657.0" stroke="#888" stroke-width="0.5" />
<line x1="139.4" y1="668.6" x2="156.6" y2="658.6" stroke="#1a1a1a" stroke-width="1.2" />
<line x1="139.4" y1="670.1" x2="156.6" y2="660.2" stroke="#888" stroke-width="0.5" />
<line x1="139.2" y1="671.7" x2="156.5" y2="661.7" stroke="#1a1a1a" stroke-width="1.2" />
<line x1="139.0" y1="673.1" x2="156.3" y2="663.2" stroke="#888" stroke-width="0.5" />
<line x1="138.6" y1="674.5" x2="155.9" y2="664.5" stroke="#1a1a1a" stroke-width="1.2" />
<line x1="138.1" y1="675.8" x2="155.4" y2="665.8" stroke="#888" stroke-width="0.5" />
<line x1="137.5" y1="676.9" x2="154.8" y2="666.9" stroke="#1a1a1a" stroke-width="1.2" />
<line x1="136.8" y1="677.9" x2="154.1" y2="667.9" stroke="#888" stroke-width="0.5" />
<line x1="136.0" y1="678.7" x2="153.3" y2="668.8" stroke="#1a1a1a" stroke-width="1.2" />
<line x1="135.1" y1="679.4" x2="152.4" y2="669.5" stroke="#888" stroke-width="0.5" />
<line x1="126.6" y1="654.5" x2="143.9" y2="644.6" stroke="#1a1a1a" stroke-width="1.2" />
<line x1="127.6" y1="654.2" x2="144.9" y2="644.3" stroke="#888" stroke-width="0.5" />
<line x1="128.7" y1="654.1" x2="145.9" y2="644.1" stroke="#1a1a1a" stroke-width="1.2" />
<line x1="129.7" y1="654.2" x2="147.0" y2="644.2" stroke="#888" stroke-width="0.5" />
<line x1="130.8" y1="654.4" x2="148.1" y2="644.5" stroke="#1a1a1a" stroke-width="1.2" />
<line x1="131.9" y1="654.9" x2="149.2" y2="644.9" stroke="#888" stroke-width="0.5" />
<line x1="133.0" y1="655.5" x2="150.2" y2="645.5" stroke="#1a1a1a" stroke-width="1.2" />
<line x1="134.0" y1="656.3" x2="151.3" y2="646.3" stroke="#888" stroke-width="0.5" />
<line x1="135.0" y1="657.2" x2="152.2" y2="647.3" stroke="#1a1a1a" stroke-width="1.2" />
<line x1="135.9" y1="658.3" x2="153.1" y2="648.4" stroke="#888" stroke-width="0.5" />
<line x1="136.7" y1="659.6" x2="153.9" y2="649.6" stroke="#1a1a1a" stroke-width="1.2" />
<line x1="137.4" y1="660.9" x2="154.7" y2="651.0" stroke="#888" stroke-width="0.5" />
<line x1="138.0" y1="662.4" x2="155.3" y2="652.4" stroke="#1a1a1a" stroke-width="1.2" />
<line x1="138.6" y1="663.9" x2="155.8" y2="653.9" stroke="#888" stroke-width="0.5" />
<ellipse cx="130.4" cy="667.2" rx="8.8" ry="13.3" transform="rotate(-12.0 130.4 667.2)" fill="#fff" stroke="#151515" stroke-width="1.3" />
<ellipse cx="130.4" cy="667.2" rx="6.3" ry="9.6" transform="rotate(-12.0 130.4 667.2)" fill="#b8b8b8" stroke="#222" stroke-width="0.9" />
<line x1="133.0" y1="676.1" x2="150.3" y2="666.1" stroke="#333" stroke-width="0.8" clip-path="url(#clip139964345091904)"/>
<line x1="131.6" y1="676.4" x2="148.8" y2="666.4" stroke="#333" stroke-width="0.8" clip-path="url(#clip139964345091904)"/>
<line x1="130.0" y1="676.2" x2="147.3" y2="666.2" stroke="#333" stroke-width="0.8" clip-path="url(#clip139964345091904)"/>
<line x1="128.6" y1="675.4" x2="145.8" y2="665.5" stroke="#333" stroke-width="0.8" clip-path="url(#clip139964345091904)"/>
<line x1="127.2" y1="674.2" x2="144.4" y2="664.2" stroke="#333" stroke-width="0.8" clip-path="url(#clip139964345091904)"/>
<line x1="126.0" y1="672.6" x2="143.2" y2="662.6" stroke="#333" stroke-width="0.8" clip-path="url(#clip139964345091904)"/>
<line x1="125.0" y1="670.6" x2="142.3" y2="660.7" stroke="#333" stroke-width="0.8" clip-path="url(#clip139964345091904)"/>
<line x1="124.4" y1="668.5" x2="141.6" y2="658.5" stroke="#333" stroke-width="0.8" clip-path="url(#clip139964345091904)"/>
<line x1="124.1" y1="666.3" x2="141.4" y2="656.3" stroke="#333" stroke-width="0.8" clip-path="url(#clip139964345091904)"/>
<line x1="124.2" y1="664.1" x2="141.4" y2="654.2" stroke="#333" stroke-width="0.8" clip-path="url(#clip139964345091904)"/>
<line x1="124.6" y1="662.2" x2="141.9" y2="652.2" stroke="#333" stroke-width="0.8" clip-path="url(#clip139964345091904)"/>
<line x1="125.4" y1="660.5" x2="142.6" y2="650.5" stroke="#333" stroke-width="0.8" clip-path="url(#clip139964345091904)"/>
<line x1="126.4" y1="659.2" x2="143.7" y2="649.2" stroke="#333" stroke-width="0.8" clip-path="url(#clip139964345091904)"/>
<clipPath id="clip139964345091904"><ellipse cx="130.4" cy="667.2" rx="6.3" ry="9.6" transform="rotate(-12.0 130.4 667.2)"/></clipPath>
</g>
<g id="p13">
<path d="M102.1 705.3 L101.4 705.7 L100.6 706.0 L99.8 706.2 L99.0 706.4 L98.1 706.5 L97.3 706.6 L96.4 706.5 L95.6 706.4 L94.7 706.2 L93.8 706.0 L93.0 705.6 L92.1 705.2 L91.3 704.8 L90.5 704.2 L89.7 703.7 L88.9 703.0 L88.2 702.3 L87.4 701.5 L86.8 700.7 L86.1 699.8 L85.5 698.9 L84.9 698.0 L84.4 697.0 L84.0 695.9 L83.5 694.9 L83.2 693.8 L82.8 692.7 L82.6 691.6 L82.4 690.5 L82.2 689.4 L82.1 688.3 L82.1 687.1 L82.1 686.0 L82.1 684.9 L82.3 683.9 L82.4 682.8 L82.7 681.8 L83.0 680.8 L83.3 679.8 L83.7 678.9 L84.1 678.1 L84.6 677.2 L85.2 676.5 L85.7 675.8 L86.4 675.1 L87.0 674.5 L87.7 674.0 L88.5 673.5 L96.8 668.7 L97.5 668.3 L98.3 668.0 L99.1 667.8 L99.9 667.6 L100.8 667.5 L101.6 667.4 L102.5 667.5 L103.3 667.6 L104.2 667.8 L105.1 668.0 L105.9 668.4 L106.8 668.8 L107.6 669.2 L108.4 669.8 L109.2 670.3 L110.0 671.0 L110.7 671.7 L111.5 672.5 L112.1 673.3 L112.8 674.2 L113.4 675.1 L114.0 676.0 L114.5 677.0 L114.9 678.1 L115.4 679.1 L115.7 680.2 L116.1 681.3 L116.3 682.4 L116.5 683.5 L116.7 684.6 L116.8 685.7 L116.8 686.9 L116.8 688.0 L116.8 689.1 L116.6 690.1 L116.5 691.2 L116.2 692.2 L115.9 693.2 L115.6 694.2 L115.2 695.1 L114.8 695.9 L114.3 696.8 L113.7 697.5 L113.2 698.2 L112.5 698.9 L111.9 699.5 L111.2 700.0 L110.4 700.5Z" fill="#fff" stroke="#151515" stroke-width="1.6" />
<ellipse cx="95.3" cy="689.4" rx="12.9" ry="17.4" transform="rotate(-15 95.3 689.4)" fill="#fff" stroke="#151515" stroke-width="1.0" />
<ellipse cx="95.3" cy="689.4" rx="9.3" ry="12.5" transform="rotate(-15 95.3 689.4)" fill="#fff" stroke="#151515" stroke-width="1.0" />
<clipPath id="ce19"><ellipse cx="95.3" cy="689.4" rx="9.3" ry="12.5" transform="rotate(-15 95.3 689.4)"/></clipPath>
<path d="M112.6 682.2 L112.9 683.8 L113.1 685.4 L113.1 687.0 L113.0 688.6 L112.7 690.1 L112.2 691.5 L111.6 692.8 L110.9 693.9 L110.0 694.9 L109.1 695.7 L108.0 696.3 L106.8 696.7 L105.6 696.9 L104.4 696.9 L103.2 696.7 L101.9 696.3 L100.7 695.7 L99.6 694.9 L98.5 693.9 L97.5 692.7 L96.6 691.5 L95.8 690.1 L95.1 688.6 L94.6 687.0 L94.3 685.4 L94.1 683.8 L94.1 682.2 L94.2 680.6 L94.5 679.1 L95.0 677.7 L95.6 676.5 L96.3 675.3 L97.2 674.3 L98.1 673.5 L99.2 672.9 L100.4 672.5 L101.6 672.3 L102.8 672.3 L104.0 672.5 L105.3 672.9 L106.5 673.5 L107.6 674.3 L108.7 675.3 L109.7 676.5 L110.6 677.7 L111.4 679.1 L112.1 680.6 L112.6 682.2" fill="none" stroke="#444" stroke-width="0.7" clip-path="url(#ce19)"/>
<line x1="90.6" y1="692.1" x2="98.4" y2="687.6" stroke="#888" stroke-width="0.6" />
<line x1="93.9" y1="686.2" x2="96.6" y2="692.5" stroke="#888" stroke-width="0.6" />
<path d="M93.8 670.6 L94.5 670.3 L95.3 670.1 L96.1 669.9 L96.8 669.9 L97.6 669.8 L98.5 669.9 L99.3 670.0 L100.1 670.2 L100.9 670.4 L101.7 670.7 L102.5 671.1 L103.3 671.5 L104.0 672.0 L104.8 672.5 L105.5 673.1 L106.2 673.8 L106.9 674.4 L107.6 675.2 L108.2 676.0 L108.8 676.8 L109.3 677.7 L109.9 678.6 L110.4 679.5 L110.8 680.5 L111.2 681.4 L111.5 682.4 L111.9 683.5 L112.1 684.5 L112.3 685.5 L112.5 686.6 L112.6 687.6 L112.7 688.7 L112.7 689.7 L112.7 690.8 L112.6 691.8 L112.5 692.8 L112.3 693.8 L112.0 694.7 L111.8 695.6 L111.5 696.5 L111.1 697.4 L110.7 698.2 L110.2 699.0 L109.7 699.7 L109.2 700.4 L108.6 701.0 L108.0 701.6 L107.4 702.1" fill="none" stroke="#151515" stroke-width="1.7" />
<path d="M94.9 669.9 L95.7 669.6 L96.4 669.4 L97.2 669.3 L98.0 669.2 L98.8 669.2 L99.6 669.2 L100.4 669.3 L101.2 669.5 L102.0 669.7 L102.8 670.0 L103.6 670.4 L104.4 670.8 L105.2 671.3 L106.0 671.8 L106.7 672.4 L107.4 673.1 L108.1 673.8 L108.7 674.5 L109.4 675.3 L110.0 676.1 L110.5 677.0 L111.0 677.9 L111.5 678.8 L112.0 679.8 L112.4 680.8 L112.7 681.8 L113.0 682.8 L113.3 683.8 L113.5 684.9 L113.7 685.9 L113.8 687.0 L113.8 688.0 L113.9 689.1 L113.8 690.1 L113.7 691.1 L113.6 692.1 L113.4 693.1 L113.2 694.0 L112.9 695.0 L112.6 695.9 L112.2 696.7 L111.8 697.5 L111.4 698.3 L110.9 699.0 L110.4 699.7 L109.8 700.4 L109.2 700.9 L108.6 701.5" fill="none" stroke="#151515" stroke-width="1.0" />
</g>
<line x1="463.5" y1="32.4" x2="463.5" y2="70.0" stroke="#505048" stroke-width="1.0" />
<line x1="391.5" y1="73.8" x2="391.5" y2="127.7" stroke="#505048" stroke-width="1.0" />
<line x1="322.7" y1="114.0" x2="322.7" y2="160.9" stroke="#505048" stroke-width="1.0" />
<line x1="279.3" y1="138.9" x2="279.3" y2="188.9" stroke="#505048" stroke-width="1.0" />
<line x1="252.4" y1="154.8" x2="252.4" y2="205.5" stroke="#55559a" stroke-width="1.0" />
<line x1="221.5" y1="171.8" x2="221.5" y2="221.0" stroke="#55559a" stroke-width="1.0" />
<line x1="192.7" y1="188.4" x2="192.7" y2="245.0" stroke="#55559a" stroke-width="1.0" />
<line x1="539.5" y1="149.2" x2="539.5" y2="170.5" stroke="#505048" stroke-width="1.0" />
<line x1="496.4" y1="173.3" x2="496.4" y2="219.6" stroke="#55559a" stroke-width="1.0" />
<line x1="464.4" y1="191.9" x2="464.4" y2="233.5" stroke="#55559a" stroke-width="1.0" />
<line x1="437.0" y1="206.8" x2="437.0" y2="252.4" stroke="#505048" stroke-width="1.0" />
<line x1="407.0" y1="223.3" x2="407.0" y2="275.2" stroke="#505048" stroke-width="1.0" />
<line x1="361.4" y1="250.0" x2="361.4" y2="272.7" stroke="#505048" stroke-width="1.0" />
<line x1="334.4" y1="266.4" x2="334.4" y2="320.8" stroke="#505048" stroke-width="1.0" />
<line x1="307.0" y1="280.4" x2="307.0" y2="329.5" stroke="#55559a" stroke-width="1.0" />
<line x1="280.0" y1="297.8" x2="280.0" y2="355.5" stroke="#505048" stroke-width="1.0" />
<line x1="253.0" y1="313.0" x2="253.0" y2="361.2" stroke="#505048" stroke-width="1.0" />
<line x1="232.4" y1="324.5" x2="232.4" y2="375.5" stroke="#505048" stroke-width="1.0" />
<line x1="208.6" y1="338.5" x2="208.6" y2="394.7" stroke="#505048" stroke-width="1.0" />
<line x1="184.0" y1="353.5" x2="184.0" y2="400.7" stroke="#505048" stroke-width="1.0" />
<line x1="567.1" y1="346.8" x2="567.1" y2="388.5" stroke="#505048" stroke-width="1.0" />
<line x1="539.7" y1="361.3" x2="539.7" y2="411.5" stroke="#505048" stroke-width="1.0" />
<line x1="515.9" y1="377.3" x2="515.9" y2="425.7" stroke="#55559a" stroke-width="1.0" />
<line x1="490.5" y1="390.5" x2="490.5" y2="448.3" stroke="#505048" stroke-width="1.0" />
<line x1="461.7" y1="407.3" x2="461.7" y2="454.0" stroke="#505048" stroke-width="1.0" />
<line x1="430.4" y1="421.8" x2="430.4" y2="470.5" stroke="#505048" stroke-width="1.0" />
<line x1="399.8" y1="443.6" x2="399.8" y2="490.5" stroke="#55559a" stroke-width="1.0" />
<line x1="328.0" y1="484.8" x2="328.0" y2="541.2" stroke="#505048" stroke-width="1.0" />
<line x1="256.0" y1="526.0" x2="256.0" y2="582.0" stroke="#505048" stroke-width="1.0" />
<line x1="232.0" y1="538.0" x2="232.0" y2="597.0" stroke="#55559a" stroke-width="1.0" />
<line x1="185.9" y1="567.0" x2="185.9" y2="589.0" stroke="#505048" stroke-width="1.0" />
<line x1="134.3" y1="596.5" x2="134.3" y2="644.5" stroke="#505048" stroke-width="1.0" />
<line x1="94.7" y1="618.7" x2="94.7" y2="670.0" stroke="#505048" stroke-width="1.0" />
<g font-family="Liberation Sans, sans-serif" font-size="14" letter-spacing="-0.7" fill="#000" stroke="#fff" stroke-width="0.15" text-anchor="middle">
<text x="462.6" y="30.0">30</text>
<text x="392.1" y="71.9">25</text>
<text x="322.6" y="112.0">29</text>
<text x="279.1" y="136.1">27</text>
<text x="253.7" y="152.7">28</text>
<text x="223.1" y="169.4">27</text>
<text x="194.2" y="185.8">26</text>
<text x="539.9" y="147.1">12</text>
<text x="496.6" y="171.1">10</text>
<text x="463.8" y="189.8">11</text>
<text x="437.6" y="204.9">10</text>
<text x="406.6" y="221.8">9</text>
<text x="361.0" y="248.1">8</text>
<text x="334.0" y="265.0">7</text>
<text x="306.6" y="279.0">4</text>
<text x="279.6" y="296.0">6</text>
<text x="252.5" y="311.9">5</text>
<text x="231.6" y="323.5">4</text>
<text x="207.7" y="337.2">3</text>
<text x="183.6" y="351.7">2</text>
<text x="566.6" y="344.7">23</text>
<text x="539.4" y="359.1">22</text>
<text x="515.5" y="374.7">21</text>
<text x="490.1" y="388.4">20</text>
<text x="461.3" y="405.2">19</text>
<text x="430.0" y="419.5">31</text>
<text x="399.4" y="441.5">18</text>
<text x="327.6" y="482.5">1</text>
<text x="255.7" y="524.1">17</text>
<text x="231.7" y="536.0">16</text>
<text x="185.6" y="565.0">15</text>
<text x="134.0" y="594.5">14</text>
<text x="94.4" y="617.3">13</text>
<text x="610.7" y="319.6">24</text>
</g>
<line x1="610.7" y1="321.5" x2="610.7" y2="362.4" stroke="#505048" stroke-width="1.0" />
<line x1="610.7" y1="321.5" x2="628.3" y2="399.5" stroke="#505048" stroke-width="1.0" />
<ellipse cx="55" cy="214.5" rx="40" ry="10.5" fill="#fff" stroke="#111" stroke-width="1.3"/>
<text x="55" y="219" font-family="Liberation Serif, serif" font-weight="bold" font-size="13" text-anchor="middle" fill="#111">FIG.409-01</text>
<line x1="57.0" y1="225.0" x2="57.0" y2="247.5" stroke="#111" stroke-width="1.3" />
<text x="501.7" y="698.9" font-family="Liberation Serif, serif" font-size="8.2" textLength="65.5" lengthAdjust="spacingAndGlyphs" fill="#000" stroke="#000" stroke-width="0.25">TX553/653/753-K-416</text>
</svg>
</body></html>
